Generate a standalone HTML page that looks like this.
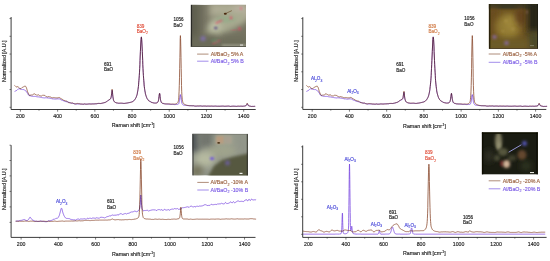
<!DOCTYPE html>
<html><head><meta charset="utf-8"><style>
html,body{margin:0;padding:0;background:#fff;}
svg{display:block;}
text{font-family:"Liberation Sans", sans-serif;}
</style></head><body>
<svg xmlns="http://www.w3.org/2000/svg" width="550" height="261" viewBox="0 0 550 261">
<defs><filter id="b1" x="-50%" y="-50%" width="200%" height="200%"><feGaussianBlur stdDeviation="1.6"/></filter><filter id="b2" x="-50%" y="-50%" width="200%" height="200%"><feGaussianBlur stdDeviation="0.8"/></filter><filter id="b3" x="-50%" y="-50%" width="200%" height="200%"><feGaussianBlur stdDeviation="3"/></filter><filter id="b0" x="-50%" y="-50%" width="200%" height="200%"><feGaussianBlur stdDeviation="0.45"/></filter><clipPath id="c1"><rect x="190.8" y="4.8" width="55.2" height="42.2"/></clipPath><clipPath id="c2"><rect x="488.8" y="3.9" width="49.1" height="44.9"/></clipPath><clipPath id="c3"><rect x="192.3" y="133.8" width="55.6" height="41.8"/></clipPath><clipPath id="c4"><rect x="481.7" y="132.2" width="56.2" height="42.4"/></clipPath></defs>
<rect width="550" height="261" fill="#fff"/>
<path d="M11.10,17.00 V109.50 H255.70" fill="none" stroke="#262626" stroke-width="0.9"/>
<path d="M9.50,107.30 H11.10" stroke="#262626" stroke-width="0.6"/>
<path d="M9.50,89.55 H11.10" stroke="#262626" stroke-width="0.6"/>
<path d="M9.50,71.80 H11.10" stroke="#262626" stroke-width="0.6"/>
<path d="M9.50,54.05 H11.10" stroke="#262626" stroke-width="0.6"/>
<path d="M9.50,36.30 H11.10" stroke="#262626" stroke-width="0.6"/>
<path d="M9.50,18.55 H11.10" stroke="#262626" stroke-width="0.6"/>
<path d="M20.40,109.50 V111.70" stroke="#262626" stroke-width="0.6"/>
<text x="20.40" y="118.10" text-anchor="middle" font-size="5.2" fill="#222" stroke="#222" stroke-width="0.15">200</text>
<path d="M39.01,109.50 V110.70" stroke="#262626" stroke-width="0.6"/>
<path d="M57.62,109.50 V111.70" stroke="#262626" stroke-width="0.6"/>
<text x="57.62" y="118.10" text-anchor="middle" font-size="5.2" fill="#222" stroke="#222" stroke-width="0.15">400</text>
<path d="M76.22,109.50 V110.70" stroke="#262626" stroke-width="0.6"/>
<path d="M94.83,109.50 V111.70" stroke="#262626" stroke-width="0.6"/>
<text x="94.83" y="118.10" text-anchor="middle" font-size="5.2" fill="#222" stroke="#222" stroke-width="0.15">600</text>
<path d="M113.44,109.50 V110.70" stroke="#262626" stroke-width="0.6"/>
<path d="M132.05,109.50 V111.70" stroke="#262626" stroke-width="0.6"/>
<text x="132.05" y="118.10" text-anchor="middle" font-size="5.2" fill="#222" stroke="#222" stroke-width="0.15">800</text>
<path d="M150.66,109.50 V110.70" stroke="#262626" stroke-width="0.6"/>
<path d="M169.26,109.50 V111.70" stroke="#262626" stroke-width="0.6"/>
<text x="169.26" y="118.10" text-anchor="middle" font-size="5.2" fill="#222" stroke="#222" stroke-width="0.15">1000</text>
<path d="M187.87,109.50 V110.70" stroke="#262626" stroke-width="0.6"/>
<path d="M206.48,109.50 V111.70" stroke="#262626" stroke-width="0.6"/>
<text x="206.48" y="118.10" text-anchor="middle" font-size="5.2" fill="#222" stroke="#222" stroke-width="0.15">1200</text>
<path d="M225.09,109.50 V110.70" stroke="#262626" stroke-width="0.6"/>
<path d="M243.70,109.50 V111.70" stroke="#262626" stroke-width="0.6"/>
<text x="243.70" y="118.10" text-anchor="middle" font-size="5.2" fill="#222" stroke="#222" stroke-width="0.15">1400</text>
<path d="M302.80,17.20 V109.45 H546.30" fill="none" stroke="#262626" stroke-width="0.9"/>
<path d="M301.20,107.30 H302.80" stroke="#262626" stroke-width="0.6"/>
<path d="M301.20,89.55 H302.80" stroke="#262626" stroke-width="0.6"/>
<path d="M301.20,71.80 H302.80" stroke="#262626" stroke-width="0.6"/>
<path d="M301.20,54.05 H302.80" stroke="#262626" stroke-width="0.6"/>
<path d="M301.20,36.30 H302.80" stroke="#262626" stroke-width="0.6"/>
<path d="M301.20,18.55 H302.80" stroke="#262626" stroke-width="0.6"/>
<path d="M312.20,109.45 V111.65" stroke="#262626" stroke-width="0.6"/>
<text x="312.20" y="118.05" text-anchor="middle" font-size="5.2" fill="#222" stroke="#222" stroke-width="0.15">200</text>
<path d="M330.82,109.45 V110.65" stroke="#262626" stroke-width="0.6"/>
<path d="M349.43,109.45 V111.65" stroke="#262626" stroke-width="0.6"/>
<text x="349.43" y="118.05" text-anchor="middle" font-size="5.2" fill="#222" stroke="#222" stroke-width="0.15">400</text>
<path d="M368.05,109.45 V110.65" stroke="#262626" stroke-width="0.6"/>
<path d="M386.67,109.45 V111.65" stroke="#262626" stroke-width="0.6"/>
<text x="386.67" y="118.05" text-anchor="middle" font-size="5.2" fill="#222" stroke="#222" stroke-width="0.15">600</text>
<path d="M405.28,109.45 V110.65" stroke="#262626" stroke-width="0.6"/>
<path d="M423.90,109.45 V111.65" stroke="#262626" stroke-width="0.6"/>
<text x="423.90" y="118.05" text-anchor="middle" font-size="5.2" fill="#222" stroke="#222" stroke-width="0.15">800</text>
<path d="M442.52,109.45 V110.65" stroke="#262626" stroke-width="0.6"/>
<path d="M461.14,109.45 V111.65" stroke="#262626" stroke-width="0.6"/>
<text x="461.14" y="118.05" text-anchor="middle" font-size="5.2" fill="#222" stroke="#222" stroke-width="0.15">1000</text>
<path d="M479.75,109.45 V110.65" stroke="#262626" stroke-width="0.6"/>
<path d="M498.37,109.45 V111.65" stroke="#262626" stroke-width="0.6"/>
<text x="498.37" y="118.05" text-anchor="middle" font-size="5.2" fill="#222" stroke="#222" stroke-width="0.15">1200</text>
<path d="M516.99,109.45 V110.65" stroke="#262626" stroke-width="0.6"/>
<path d="M535.60,109.45 V111.65" stroke="#262626" stroke-width="0.6"/>
<text x="535.60" y="118.05" text-anchor="middle" font-size="5.2" fill="#222" stroke="#222" stroke-width="0.15">1400</text>
<path d="M11.10,145.20 V237.40 H255.50" fill="none" stroke="#262626" stroke-width="0.9"/>
<path d="M9.50,222.40 H11.10" stroke="#262626" stroke-width="0.6"/>
<path d="M9.50,206.90 H11.10" stroke="#262626" stroke-width="0.6"/>
<path d="M9.50,191.40 H11.10" stroke="#262626" stroke-width="0.6"/>
<path d="M9.50,175.90 H11.10" stroke="#262626" stroke-width="0.6"/>
<path d="M9.50,160.50 H11.10" stroke="#262626" stroke-width="0.6"/>
<path d="M9.50,145.20 H11.10" stroke="#262626" stroke-width="0.6"/>
<path d="M21.10,237.40 V239.60" stroke="#262626" stroke-width="0.6"/>
<text x="21.10" y="246.00" text-anchor="middle" font-size="5.2" fill="#222" stroke="#222" stroke-width="0.15">200</text>
<path d="M39.72,237.40 V238.60" stroke="#262626" stroke-width="0.6"/>
<path d="M58.34,237.40 V239.60" stroke="#262626" stroke-width="0.6"/>
<text x="58.34" y="246.00" text-anchor="middle" font-size="5.2" fill="#222" stroke="#222" stroke-width="0.15">400</text>
<path d="M76.96,237.40 V238.60" stroke="#262626" stroke-width="0.6"/>
<path d="M95.58,237.40 V239.60" stroke="#262626" stroke-width="0.6"/>
<text x="95.58" y="246.00" text-anchor="middle" font-size="5.2" fill="#222" stroke="#222" stroke-width="0.15">600</text>
<path d="M114.20,237.40 V238.60" stroke="#262626" stroke-width="0.6"/>
<path d="M132.82,237.40 V239.60" stroke="#262626" stroke-width="0.6"/>
<text x="132.82" y="246.00" text-anchor="middle" font-size="5.2" fill="#222" stroke="#222" stroke-width="0.15">800</text>
<path d="M151.44,237.40 V238.60" stroke="#262626" stroke-width="0.6"/>
<path d="M170.06,237.40 V239.60" stroke="#262626" stroke-width="0.6"/>
<text x="170.06" y="246.00" text-anchor="middle" font-size="5.2" fill="#222" stroke="#222" stroke-width="0.15">1000</text>
<path d="M188.68,237.40 V238.60" stroke="#262626" stroke-width="0.6"/>
<path d="M207.30,237.40 V239.60" stroke="#262626" stroke-width="0.6"/>
<text x="207.30" y="246.00" text-anchor="middle" font-size="5.2" fill="#222" stroke="#222" stroke-width="0.15">1200</text>
<path d="M225.92,237.40 V238.60" stroke="#262626" stroke-width="0.6"/>
<path d="M244.54,237.40 V239.60" stroke="#262626" stroke-width="0.6"/>
<text x="244.54" y="246.00" text-anchor="middle" font-size="5.2" fill="#222" stroke="#222" stroke-width="0.15">1400</text>
<path d="M302.70,145.50 V237.40 H546.60" fill="none" stroke="#262626" stroke-width="0.9"/>
<path d="M301.10,234.30 H302.70" stroke="#262626" stroke-width="0.6"/>
<path d="M301.10,216.80 H302.70" stroke="#262626" stroke-width="0.6"/>
<path d="M301.10,199.30 H302.70" stroke="#262626" stroke-width="0.6"/>
<path d="M301.10,181.80 H302.70" stroke="#262626" stroke-width="0.6"/>
<path d="M301.10,164.30 H302.70" stroke="#262626" stroke-width="0.6"/>
<path d="M301.10,146.80 H302.70" stroke="#262626" stroke-width="0.6"/>
<path d="M308.40,237.40 V239.60" stroke="#262626" stroke-width="0.6"/>
<text x="308.40" y="246.00" text-anchor="middle" font-size="5.2" fill="#222" stroke="#222" stroke-width="0.15">200</text>
<path d="M327.17,237.40 V238.60" stroke="#262626" stroke-width="0.6"/>
<path d="M345.93,237.40 V239.60" stroke="#262626" stroke-width="0.6"/>
<text x="345.93" y="246.00" text-anchor="middle" font-size="5.2" fill="#222" stroke="#222" stroke-width="0.15">400</text>
<path d="M364.70,237.40 V238.60" stroke="#262626" stroke-width="0.6"/>
<path d="M383.47,237.40 V239.60" stroke="#262626" stroke-width="0.6"/>
<text x="383.47" y="246.00" text-anchor="middle" font-size="5.2" fill="#222" stroke="#222" stroke-width="0.15">600</text>
<path d="M402.24,237.40 V238.60" stroke="#262626" stroke-width="0.6"/>
<path d="M421.00,237.40 V239.60" stroke="#262626" stroke-width="0.6"/>
<text x="421.00" y="246.00" text-anchor="middle" font-size="5.2" fill="#222" stroke="#222" stroke-width="0.15">800</text>
<path d="M439.77,237.40 V238.60" stroke="#262626" stroke-width="0.6"/>
<path d="M458.54,237.40 V239.60" stroke="#262626" stroke-width="0.6"/>
<text x="458.54" y="246.00" text-anchor="middle" font-size="5.2" fill="#222" stroke="#222" stroke-width="0.15">1000</text>
<path d="M477.30,237.40 V238.60" stroke="#262626" stroke-width="0.6"/>
<path d="M496.07,237.40 V239.60" stroke="#262626" stroke-width="0.6"/>
<text x="496.07" y="246.00" text-anchor="middle" font-size="5.2" fill="#222" stroke="#222" stroke-width="0.15">1200</text>
<path d="M514.84,237.40 V238.60" stroke="#262626" stroke-width="0.6"/>
<path d="M533.60,237.40 V239.60" stroke="#262626" stroke-width="0.6"/>
<text x="533.60" y="246.00" text-anchor="middle" font-size="5.2" fill="#222" stroke="#222" stroke-width="0.15">1400</text>
<path d="M14.6,91.5L14.8,91.4L15.0,91.3L15.2,91.2L15.4,91.1L15.6,91.0L15.7,90.9L15.9,90.8L16.1,90.7L16.3,90.6L16.5,90.5L16.7,90.4L16.9,90.3L17.1,90.1L17.2,90.0L17.4,89.8L17.6,89.6L17.8,89.4L18.0,89.3L18.2,89.1L18.4,89.0L18.5,88.9L18.7,88.8L18.9,88.7L19.1,88.7L19.3,88.8L19.5,88.8L19.7,88.8L19.8,88.8L20.0,88.9L20.2,88.9L20.4,88.9L20.6,89.0L20.8,89.1L21.0,89.1L21.1,89.2L21.3,89.3L21.5,89.4L21.7,89.5L21.9,89.5L22.1,89.5L22.3,89.5L22.4,89.6L22.6,89.6L22.8,89.6L23.0,89.6L23.2,89.6L23.4,89.6L23.6,89.6L23.7,89.6L23.9,89.6L24.1,89.6L24.3,89.8L24.5,89.9L24.7,90.1L24.9,90.3L25.1,90.4L25.2,90.6L25.4,90.7L25.6,90.9L25.8,91.1L26.0,91.2L26.2,91.4L26.4,91.5L26.5,91.8L26.7,92.1L26.9,92.4L27.1,92.6L27.3,92.9L27.5,93.2L27.7,93.5L27.8,93.8L28.0,94.2L28.2,94.5L28.4,94.8L28.6,95.2L28.8,95.2L29.0,95.3L29.1,95.4L29.3,95.5L29.5,95.6L29.7,95.6L29.9,95.7L30.1,95.7L30.3,95.8L30.4,95.9L30.6,95.9L30.8,96.0L31.0,96.1L31.2,96.1L31.4,96.2L31.6,96.2L31.8,96.3L31.9,96.3L32.1,96.3L32.3,96.3L32.5,96.3L32.7,96.4L32.9,96.4L33.1,96.4L33.2,96.4L33.4,96.4L33.6,96.4L33.8,96.4L34.0,96.4L34.2,96.4L34.4,96.4L34.5,96.4L34.7,96.4L34.9,96.4L35.1,96.4L35.3,96.4L35.5,96.4L35.7,96.5L35.8,96.5L36.0,96.6L36.2,96.6L36.4,96.7L36.6,96.7L36.8,96.7L37.0,96.8L37.1,96.8L37.3,96.8L37.5,96.8L37.7,96.9L37.9,96.9L38.1,96.9L38.3,96.9L38.4,96.9L38.6,96.9L38.8,97.0L39.0,97.0L39.2,97.0L39.4,97.1L39.6,97.1L39.8,97.2L39.9,97.2L40.1,97.3L40.3,97.3L40.5,97.3L40.7,97.3L40.9,97.4L41.1,97.4L41.2,97.4L41.4,97.5L41.6,97.5L41.8,97.6L42.0,97.6L42.2,97.6L42.4,97.7L42.5,97.7L42.7,97.7L42.9,97.7L43.1,97.7L43.3,97.8L43.5,97.8L43.7,97.8L43.8,97.8L44.0,97.8L44.2,97.8L44.4,97.9L44.6,97.9L44.8,97.9L45.0,97.9L45.1,97.8L45.3,97.8L45.5,97.8L45.7,97.8L45.9,97.8L46.1,97.8L46.3,97.8L46.5,97.8L46.6,97.8L46.8,97.8L47.0,97.9L47.2,97.9L47.4,97.9L47.6,97.9L47.8,97.9L47.9,97.9L48.1,97.9L48.3,98.0L48.5,98.0L48.7,98.1L48.9,98.1L49.1,98.1L49.2,98.2L49.4,98.2L49.6,98.2L49.8,98.3L50.0,98.3L50.2,98.4L50.4,98.4L50.5,98.4L50.7,98.5L50.9,98.5L51.1,98.5L51.3,98.6L51.5,98.6L51.7,98.6L51.8,98.7L52.0,98.7L52.2,98.8L52.4,98.8L52.6,98.9L52.8,98.9L53.0,99.0L53.2,99.0L53.3,99.0L53.5,98.9L53.7,98.9L53.9,98.9L54.1,98.9L54.3,99.0L54.5,99.0L54.6,99.0L54.8,99.1L55.0,99.1L55.2,99.1L55.4,99.1L55.6,99.1L55.8,99.1L55.9,99.1L56.1,99.1L56.3,99.0L56.5,99.0L56.7,99.0L56.9,99.0L57.1,99.0L57.2,98.9L57.4,98.9L57.6,98.9L57.8,98.9L58.0,98.9L58.2,98.9L58.4,98.9L58.5,98.9L58.7,98.9L58.9,98.9L59.1,98.9L59.3,98.9L59.5,98.9L59.7,99.0L59.8,99.1L60.0,99.2L60.2,99.4L60.4,99.5L60.6,99.6L60.8,99.7L61.0,99.8L61.2,99.9L61.3,100.0L61.5,100.1L61.7,100.1L61.9,100.2L62.1,100.2L62.3,100.3L62.5,100.3L62.6,100.4L62.8,100.5L63.0,100.5L63.2,100.6L63.4,100.7L63.6,100.8L63.8,100.9L63.9,101.0L64.1,101.1L64.3,101.1L64.5,101.2L64.7,101.3L64.9,101.4L65.1,101.5L65.2,101.5L65.4,101.5L65.6,101.6L65.8,101.6L66.0,101.6L66.2,101.6L66.4,101.7L66.5,101.7L66.7,101.8L66.9,101.8L67.1,101.8L67.3,101.9L67.5,101.9L67.7,102.0L67.9,102.0L68.0,102.0L68.2,102.1L68.4,102.1L68.6,102.2L68.8,102.2L69.0,102.3L69.2,102.3L69.3,102.4L69.5,102.5L69.7,102.6L69.9,102.7L70.1,102.7L70.3,102.8L70.5,102.9L70.6,102.9L70.8,102.9L71.0,103.0L71.2,103.0L71.4,103.1L71.6,103.1L71.8,103.1L71.9,103.2L72.1,103.2L72.3,103.3L72.5,103.3L72.7,103.4L72.9,103.4L73.1,103.4L73.2,103.5L73.4,103.5L73.6,103.6L73.8,103.6L74.0,103.6L74.2,103.7L74.4,103.7L74.5,103.7L74.7,103.8L74.9,103.8L75.1,103.9L75.3,103.9L75.5,104.0L75.7,104.0L75.9,104.0L76.0,104.0L76.2,104.1L76.4,104.1L76.6,104.1L76.8,104.0L77.0,104.0L77.2,104.0L77.3,104.0L77.5,104.0L77.7,104.0L77.9,104.0L78.1,104.0L78.3,104.0L78.5,104.0L78.6,104.0L78.8,104.0L79.0,104.0L79.2,103.9L79.4,103.9L79.6,103.9L79.8,103.9L79.9,104.0L80.1,104.0L80.3,104.0L80.5,104.1L80.7,104.1L80.9,104.1L81.1,104.2L81.2,104.2L81.4,104.2L81.6,104.2L81.8,104.2L82.0,104.2L82.2,104.2L82.4,104.2L82.6,104.2L82.7,104.2L82.9,104.2L83.1,104.2L83.3,104.2L83.5,104.2L83.7,104.2L83.9,104.1L84.0,104.1L84.2,104.1L84.4,104.1L84.6,104.1L84.8,104.1L85.0,104.1L85.2,104.1L85.3,104.1L85.5,104.1L85.7,104.1L85.9,104.1L86.1,104.1L86.3,104.1L86.5,104.1L86.6,104.1L86.8,104.1L87.0,104.1L87.2,104.1L87.4,104.1L87.6,104.1L87.8,104.1L87.9,104.1L88.1,104.1L88.3,104.1L88.5,104.0L88.7,104.0L88.9,104.0L89.1,104.0L89.2,104.0L89.4,104.0L89.6,104.0L89.8,104.0L90.0,104.0L90.2,104.0L90.4,104.0L90.6,104.0L90.7,104.0L90.9,104.0L91.1,104.0L91.3,103.9L91.5,103.9L91.7,103.9L91.9,103.9L92.0,103.8L92.2,103.8L92.4,103.8L92.6,103.8L92.8,103.8L93.0,103.8L93.2,103.8L93.3,103.8L93.5,103.8L93.7,103.8L93.9,103.9L94.1,103.9L94.3,103.9L94.5,103.9L94.6,103.9L94.8,103.9L95.0,103.9L95.2,103.9L95.4,103.9L95.6,103.9L95.8,103.8L95.9,103.8L96.1,103.8L96.3,103.8L96.5,103.8L96.7,103.8L96.9,103.8L97.1,103.7L97.3,103.7L97.4,103.6L97.6,103.6L97.8,103.5L98.0,103.5L98.2,103.5L98.4,103.5L98.6,103.4L98.7,103.4L98.9,103.5L99.1,103.5L99.3,103.5L99.5,103.5L99.7,103.5L99.9,103.5L100.0,103.5L100.2,103.5L100.4,103.5L100.6,103.5L100.8,103.5L101.0,103.4L101.2,103.4L101.3,103.4L101.5,103.4L101.7,103.3L101.9,103.3L102.1,103.3L102.3,103.2L102.5,103.2L102.6,103.2L102.8,103.1L103.0,103.1L103.2,103.0L103.4,103.0L103.6,102.9L103.8,102.9L103.9,102.8L104.1,102.8L104.3,102.7L104.5,102.6L104.7,102.6L104.9,102.5L105.1,102.4L105.3,102.4L105.4,102.3L105.6,102.2L105.8,102.1L106.0,102.0L106.2,101.9L106.4,101.8L106.6,101.6L106.7,101.5L106.9,101.4L107.1,101.2L107.3,101.1L107.5,100.9L107.7,100.8L107.9,100.6L108.0,100.5L108.2,100.4L108.4,100.3L108.6,100.2L108.8,100.1L109.0,100.0L109.2,99.9L109.3,99.8L109.5,99.7L109.7,99.6L109.9,99.5L110.1,99.4L110.3,99.2L110.5,99.0L110.6,98.7L110.8,98.3L111.0,97.8L111.2,97.0L111.4,95.8L111.6,94.3L111.8,92.6L112.0,90.9L112.1,90.3L112.3,91.2L112.5,93.1L112.7,95.1L112.9,96.8L113.1,98.2L113.3,99.2L113.4,99.9L113.6,100.5L113.8,100.9L114.0,101.2L114.2,101.5L114.4,101.7L114.6,101.9L114.7,102.0L114.9,102.2L115.1,102.3L115.3,102.4L115.5,102.5L115.7,102.6L115.9,102.7L116.0,102.8L116.2,102.8L116.4,102.9L116.6,103.0L116.8,103.0L117.0,103.1L117.2,103.1L117.3,103.1L117.5,103.2L117.7,103.2L117.9,103.2L118.1,103.3L118.3,103.3L118.5,103.3L118.7,103.3L118.8,103.3L119.0,103.3L119.2,103.3L119.4,103.3L119.6,103.3L119.8,103.3L120.0,103.3L120.1,103.3L120.3,103.3L120.5,103.3L120.7,103.3L120.9,103.3L121.1,103.3L121.3,103.3L121.4,103.3L121.6,103.3L121.8,103.3L122.0,103.3L122.2,103.3L122.4,103.3L122.6,103.3L122.7,103.3L122.9,103.3L123.1,103.3L123.3,103.3L123.5,103.4L123.7,103.4L123.9,103.4L124.0,103.4L124.2,103.4L124.4,103.4L124.6,103.4L124.8,103.3L125.0,103.3L125.2,103.3L125.3,103.3L125.5,103.3L125.7,103.2L125.9,103.2L126.1,103.2L126.3,103.2L126.5,103.2L126.7,103.1L126.8,103.1L127.0,103.1L127.2,103.0L127.4,103.0L127.6,103.0L127.8,102.9L128.0,102.9L128.1,102.9L128.3,102.8L128.5,102.8L128.7,102.8L128.9,102.7L129.1,102.7L129.3,102.6L129.4,102.6L129.6,102.5L129.8,102.5L130.0,102.4L130.2,102.4L130.4,102.3L130.6,102.3L130.7,102.2L130.9,102.2L131.1,102.1L131.3,102.0L131.5,102.0L131.7,101.9L131.9,101.8L132.0,101.7L132.2,101.7L132.4,101.6L132.6,101.5L132.8,101.4L133.0,101.3L133.2,101.2L133.4,101.1L133.5,100.9L133.7,100.8L133.9,100.6L134.1,100.4L134.3,100.2L134.5,100.0L134.7,99.8L134.8,99.5L135.0,99.2L135.2,98.9L135.4,98.6L135.6,98.3L135.8,97.9L136.0,97.6L136.1,97.2L136.3,96.7L136.5,96.3L136.7,95.7L136.9,95.1L137.1,94.5L137.3,93.7L137.4,92.9L137.6,91.9L137.8,90.8L138.0,89.6L138.2,88.2L138.4,86.6L138.6,84.9L138.7,82.9L138.9,80.7L139.1,78.1L139.3,75.3L139.5,72.1L139.7,68.6L139.9,64.7L140.0,60.5L140.2,56.0L140.4,51.4L140.6,47.0L140.8,43.0L141.0,39.7L141.2,37.6L141.4,36.9L141.5,37.6L141.7,39.7L141.9,42.9L142.1,46.9L142.3,51.4L142.5,56.0L142.7,60.5L142.8,64.7L143.0,68.6L143.2,72.2L143.4,75.4L143.6,78.2L143.8,80.8L144.0,83.0L144.1,85.0L144.3,86.8L144.5,88.3L144.7,89.7L144.9,90.9L145.1,92.0L145.3,92.9L145.4,93.8L145.6,94.5L145.8,95.2L146.0,95.8L146.2,96.4L146.4,96.9L146.6,97.4L146.7,97.8L146.9,98.2L147.1,98.5L147.3,98.9L147.5,99.1L147.7,99.4L147.9,99.7L148.1,99.9L148.2,100.1L148.4,100.3L148.6,100.5L148.8,100.7L149.0,100.8L149.2,101.0L149.4,101.1L149.5,101.3L149.7,101.4L149.9,101.5L150.1,101.6L150.3,101.7L150.5,101.8L150.7,101.9L150.8,102.0L151.0,102.1L151.2,102.2L151.4,102.3L151.6,102.3L151.8,102.4L152.0,102.5L152.1,102.5L152.3,102.6L152.5,102.6L152.7,102.7L152.9,102.7L153.1,102.8L153.3,102.8L153.4,102.8L153.6,102.9L153.8,102.9L154.0,102.9L154.2,102.9L154.4,103.0L154.6,103.0L154.7,103.0L154.9,103.0L155.1,103.0L155.3,103.0L155.5,103.0L155.7,103.0L155.9,102.9L156.1,102.9L156.2,102.9L156.4,102.9L156.6,102.8L156.8,102.8L157.0,102.7L157.2,102.6L157.4,102.5L157.5,102.3L157.7,102.1L157.9,101.8L158.1,101.4L158.3,100.9L158.5,100.3L158.7,99.3L158.8,98.2L159.0,96.7L159.2,95.1L159.4,93.8L159.6,93.3L159.8,93.8L160.0,95.2L160.1,96.8L160.3,98.3L160.5,99.6L160.7,100.6L160.9,101.3L161.1,101.9L161.3,102.3L161.4,102.6L161.6,102.8L161.8,103.0L162.0,103.2L162.2,103.3L162.4,103.4L162.6,103.4L162.8,103.5L162.9,103.5L163.1,103.6L163.3,103.6L163.5,103.7L163.7,103.7L163.9,103.7L164.1,103.7L164.2,103.8L164.4,103.8L164.6,103.8L164.8,103.8L165.0,103.8L165.2,103.8L165.4,103.8L165.5,103.8L165.7,103.8L165.9,103.9L166.1,103.9L166.3,104.0L166.5,104.0L166.7,104.1L166.8,104.1L167.0,104.1L167.2,104.1L167.4,104.1L167.6,104.1L167.8,104.2L168.0,104.2L168.1,104.2L168.3,104.2L168.5,104.2L168.7,104.2L168.9,104.2L169.1,104.2L169.3,104.2L169.5,104.2L169.6,104.2L169.8,104.3L170.0,104.3L170.2,104.3L170.4,104.3L170.6,104.4L170.8,104.4L170.9,104.4L171.1,104.4L171.3,104.4L171.5,104.4L171.7,104.4L171.9,104.4L172.1,104.4L172.2,104.3L172.4,104.3L172.6,104.3L172.8,104.3L173.0,104.4L173.2,104.4L173.4,104.4L173.5,104.4L173.7,104.5L173.9,104.5L174.1,104.6L174.3,104.6L174.5,104.6L174.7,104.6L174.8,104.6L175.0,104.6L175.2,104.6L175.4,104.6L175.6,104.5L175.8,104.5L176.0,104.5L176.1,104.5L176.3,104.4L176.5,104.4L176.7,104.4L176.9,104.4L177.1,104.4L177.3,104.4L177.5,104.4L177.6,104.4L177.8,104.4L178.0,104.3L178.2,104.2L178.4,104.1L178.6,103.9L178.8,103.5L178.9,103.1L179.1,102.4L179.3,101.6L179.5,100.5L179.7,99.1L179.9,97.6L180.1,96.1L180.2,95.0L180.4,94.6L180.6,95.0L180.8,96.2L181.0,97.7L181.2,99.2L181.4,100.6L181.5,101.7L181.7,102.6L181.9,103.2L182.1,103.7L182.3,104.0L182.5,104.3L182.7,104.5L182.8,104.7L183.0,104.8L183.2,104.9L183.4,105.0L183.6,105.1L183.8,105.2L184.0,105.2L184.2,105.3L184.3,105.3L184.5,105.3L184.7,105.3L184.9,105.3L185.1,105.3L185.3,105.3L185.5,105.3L185.6,105.3L185.8,105.3L186.0,105.3L186.2,105.3L186.4,105.4L186.6,105.4L186.8,105.4L186.9,105.5L187.1,105.5L187.3,105.5L187.5,105.6L187.7,105.6L187.9,105.6L188.1,105.6L188.2,105.6L188.4,105.7L188.6,105.7L188.8,105.7L189.0,105.7L189.2,105.8L189.4,105.8L189.5,105.8L189.7,105.8L189.9,105.8L190.1,105.8L190.3,105.8L190.5,105.8L190.7,105.7L190.8,105.7L191.0,105.7L191.2,105.7L191.4,105.7L191.6,105.7L191.8,105.7L192.0,105.8L192.2,105.8L192.3,105.8L192.5,105.8L192.7,105.8L192.9,105.8L193.1,105.8L193.3,105.8L193.5,105.8L193.6,105.9L193.8,105.9L194.0,105.9L194.2,106.0L194.4,106.0L194.6,106.0L194.8,106.1L194.9,106.1L195.1,106.1L195.3,106.1L195.5,106.1L195.7,106.1L195.9,106.1L196.1,106.1L196.2,106.1L196.4,106.1L196.6,106.1L196.8,106.1L197.0,106.1L197.2,106.1L197.4,106.1L197.5,106.1L197.7,106.1L197.9,106.1L198.1,106.1L198.3,106.2L198.5,106.2L198.7,106.2L198.9,106.2L199.0,106.2L199.2,106.2L199.4,106.1L199.6,106.1L199.8,106.1L200.0,106.1L200.2,106.0L200.3,106.0L200.5,106.0L200.7,106.0L200.9,106.0L201.1,106.0L201.3,106.0L201.5,106.0L201.6,106.0L201.8,106.1L202.0,106.1L202.2,106.1L202.4,106.1L202.6,106.1L202.8,106.1L202.9,106.1L203.1,106.1L203.3,106.1L203.5,106.1L203.7,106.1L203.9,106.1L204.1,106.1L204.2,106.1L204.4,106.1L204.6,106.1L204.8,106.1L205.0,106.1L205.2,106.1L205.4,106.1L205.5,106.2L205.7,106.2L205.9,106.2L206.1,106.2L206.3,106.2L206.5,106.2L206.7,106.2L206.9,106.2L207.0,106.2L207.2,106.1L207.4,106.1L207.6,106.1L207.8,106.1L208.0,106.1L208.2,106.1L208.3,106.1L208.5,106.1L208.7,106.1L208.9,106.1L209.1,106.2L209.3,106.2L209.5,106.3L209.6,106.3L209.8,106.3L210.0,106.3L210.2,106.3L210.4,106.3L210.6,106.3L210.8,106.2L210.9,106.2L211.1,106.1L211.3,106.1L211.5,106.1L211.7,106.1L211.9,106.1L212.1,106.1L212.2,106.1L212.4,106.1L212.6,106.1L212.8,106.2L213.0,106.2L213.2,106.2L213.4,106.3L213.6,106.3L213.7,106.3L213.9,106.3L214.1,106.3L214.3,106.2L214.5,106.2L214.7,106.2L214.9,106.1L215.0,106.1L215.2,106.1L215.4,106.1L215.6,106.1L215.8,106.1L216.0,106.1L216.2,106.1L216.3,106.1L216.5,106.1L216.7,106.1L216.9,106.1L217.1,106.1L217.3,106.1L217.5,106.1L217.6,106.2L217.8,106.2L218.0,106.2L218.2,106.2L218.4,106.2L218.6,106.3L218.8,106.3L218.9,106.3L219.1,106.3L219.3,106.3L219.5,106.3L219.7,106.3L219.9,106.3L220.1,106.3L220.2,106.2L220.4,106.2L220.6,106.2L220.8,106.2L221.0,106.1L221.2,106.1L221.4,106.1L221.6,106.1L221.7,106.1L221.9,106.1L222.1,106.1L222.3,106.1L222.5,106.1L222.7,106.1L222.9,106.2L223.0,106.2L223.2,106.2L223.4,106.2L223.6,106.2L223.8,106.2L224.0,106.2L224.2,106.3L224.3,106.3L224.5,106.3L224.7,106.3L224.9,106.3L225.1,106.3L225.3,106.3L225.5,106.3L225.6,106.3L225.8,106.3L226.0,106.3L226.2,106.2L226.4,106.2L226.6,106.2L226.8,106.2L226.9,106.2L227.1,106.2L227.3,106.2L227.5,106.2L227.7,106.2L227.9,106.2L228.1,106.2L228.3,106.1L228.4,106.1L228.6,106.1L228.8,106.1L229.0,106.2L229.2,106.2L229.4,106.2L229.6,106.3L229.7,106.3L229.9,106.4L230.1,106.4L230.3,106.4L230.5,106.4L230.7,106.4L230.9,106.4L231.0,106.4L231.2,106.3L231.4,106.3L231.6,106.3L231.8,106.2L232.0,106.2L232.2,106.2L232.3,106.2L232.5,106.2L232.7,106.2L232.9,106.2L233.1,106.2L233.3,106.2L233.5,106.2L233.6,106.2L233.8,106.2L234.0,106.1L234.2,106.1L234.4,106.2L234.6,106.2L234.8,106.2L235.0,106.2L235.1,106.2L235.3,106.2L235.5,106.2L235.7,106.2L235.9,106.2L236.1,106.2L236.3,106.2L236.4,106.3L236.6,106.3L236.8,106.3L237.0,106.3L237.2,106.3L237.4,106.3L237.6,106.3L237.7,106.3L237.9,106.3L238.1,106.3L238.3,106.3L238.5,106.3L238.7,106.3L238.9,106.3L239.0,106.4L239.2,106.4L239.4,106.4L239.6,106.4L239.8,106.4L240.0,106.4L240.2,106.3L240.3,106.3L240.5,106.3L240.7,106.3L240.9,106.2L241.1,106.2L241.3,106.2L241.5,106.2L241.6,106.2L241.8,106.2L242.0,106.2L242.2,106.2L242.4,106.2L242.6,106.2L242.8,106.2L243.0,106.2L243.1,106.2L243.3,106.2L243.5,106.2L243.7,106.2L243.9,106.2L244.1,106.1L244.3,106.1L244.4,106.1L244.6,106.0L244.8,106.0L245.0,106.0L245.2,105.9L245.4,105.9L245.6,105.8L245.7,105.7L245.9,105.6L246.1,105.5L246.3,105.3L246.5,105.0L246.7,104.7L246.9,104.3L247.0,104.0L247.2,103.8L247.4,104.0L247.6,104.3L247.8,104.8L248.0,105.1L248.2,105.4L248.3,105.6L248.5,105.8L248.7,105.9L248.9,106.0L249.1,106.1L249.3,106.1L249.5,106.2L249.7,106.2L249.8,106.2L250.0,106.3L250.2,106.3L250.4,106.3L250.6,106.3L250.8,106.3L251.0,106.3L251.1,106.3L251.3,106.4L251.5,106.4L251.7,106.4L251.9,106.4L252.1,106.4L252.3,106.4L252.4,106.4L252.6,106.4L252.8,106.4L253.0,106.4L253.2,106.4L253.4,106.4L253.6,106.4L253.7,106.4L253.9,106.4L254.1,106.4L254.3,106.4L254.5,106.4L254.7,106.4L254.9,106.4L255.0,106.4L255.2,106.4" fill="none" stroke="#7848e0" stroke-width="0.8" style="mix-blend-mode:multiply"/>
<path d="M14.6,85.5L14.8,85.6L15.0,85.7L15.2,85.9L15.4,86.1L15.6,86.3L15.7,86.5L15.9,86.6L16.1,86.7L16.3,86.8L16.5,86.9L16.7,87.0L16.9,87.1L17.1,87.0L17.2,86.9L17.4,86.8L17.6,86.7L17.8,86.6L18.0,86.8L18.2,87.0L18.4,87.1L18.5,87.2L18.7,87.4L18.9,87.5L19.1,87.7L19.3,87.9L19.5,88.2L19.7,88.4L19.8,88.6L20.0,88.9L20.2,88.8L20.4,88.8L20.6,88.7L20.8,88.6L21.0,88.5L21.1,88.4L21.3,88.2L21.5,88.1L21.7,88.0L21.9,87.8L22.1,87.7L22.3,87.5L22.4,87.4L22.6,87.3L22.8,87.2L23.0,87.1L23.2,87.0L23.4,86.9L23.6,86.8L23.7,86.7L23.9,86.5L24.1,86.4L24.3,86.3L24.5,86.3L24.7,86.3L24.9,86.3L25.1,86.2L25.2,86.2L25.4,86.1L25.6,86.4L25.8,86.7L26.0,87.0L26.2,87.3L26.4,87.6L26.5,88.0L26.7,88.7L26.9,89.4L27.1,90.1L27.3,90.9L27.5,91.6L27.7,91.9L27.8,92.3L28.0,92.6L28.2,93.0L28.4,93.5L28.6,94.0L28.8,94.3L29.0,94.7L29.1,95.0L29.3,95.2L29.5,95.4L29.7,95.6L29.9,95.5L30.1,95.4L30.3,95.3L30.4,95.1L30.6,95.0L30.8,95.0L31.0,94.9L31.2,94.9L31.4,94.9L31.6,95.0L31.8,95.0L31.9,95.1L32.1,95.1L32.3,95.1L32.5,95.0L32.7,95.0L32.9,94.8L33.1,94.6L33.2,94.4L33.4,94.2L33.6,94.0L33.8,93.8L34.0,93.7L34.2,93.7L34.4,93.8L34.5,93.9L34.7,94.1L34.9,94.2L35.1,94.3L35.3,94.4L35.5,94.5L35.7,94.6L35.8,94.6L36.0,94.7L36.2,94.9L36.4,95.0L36.6,95.1L36.8,95.1L37.0,95.2L37.1,95.2L37.3,95.2L37.5,95.1L37.7,95.0L37.9,94.9L38.1,94.9L38.3,94.8L38.4,94.8L38.6,94.9L38.8,95.0L39.0,95.2L39.2,95.3L39.4,95.5L39.6,95.7L39.8,95.8L39.9,95.9L40.1,95.9L40.3,95.9L40.5,95.9L40.7,95.9L40.9,95.9L41.1,96.0L41.2,96.0L41.4,96.0L41.6,96.0L41.8,95.9L42.0,95.8L42.2,95.6L42.4,95.4L42.5,95.3L42.7,95.2L42.9,95.2L43.1,95.2L43.3,95.3L43.5,95.3L43.7,95.3L43.8,95.3L44.0,95.4L44.2,95.4L44.4,95.4L44.6,95.5L44.8,95.5L45.0,95.7L45.1,95.8L45.3,96.0L45.5,96.1L45.7,96.2L45.9,96.2L46.1,96.3L46.3,96.4L46.5,96.5L46.6,96.6L46.8,96.7L47.0,96.8L47.2,96.9L47.4,96.9L47.6,96.9L47.8,96.9L47.9,96.8L48.1,96.7L48.3,96.7L48.5,96.6L48.7,96.6L48.9,96.7L49.1,96.7L49.2,96.8L49.4,96.8L49.6,96.8L49.8,96.9L50.0,96.9L50.2,96.9L50.4,97.0L50.5,97.1L50.7,97.1L50.9,97.2L51.1,97.3L51.3,97.5L51.5,97.5L51.7,97.6L51.8,97.7L52.0,97.7L52.2,97.8L52.4,97.8L52.6,97.7L52.8,97.7L53.0,97.7L53.2,97.7L53.3,97.6L53.5,97.6L53.7,97.6L53.9,97.7L54.1,97.7L54.3,97.7L54.5,97.7L54.6,97.7L54.8,97.7L55.0,97.7L55.2,97.8L55.4,97.8L55.6,97.8L55.8,97.8L55.9,97.9L56.1,97.9L56.3,97.9L56.5,97.9L56.7,97.8L56.9,97.8L57.1,97.8L57.2,97.8L57.4,97.8L57.6,97.8L57.8,97.8L58.0,97.7L58.2,97.7L58.4,97.6L58.5,97.6L58.7,97.5L58.9,97.4L59.1,97.4L59.3,97.5L59.5,97.6L59.7,97.7L59.8,97.9L60.0,98.0L60.2,98.1L60.4,98.2L60.6,98.4L60.8,98.5L61.0,98.6L61.2,98.7L61.3,98.9L61.5,99.0L61.7,99.0L61.9,99.1L62.1,99.2L62.3,99.3L62.5,99.4L62.6,99.5L62.8,99.7L63.0,99.8L63.2,99.9L63.4,100.1L63.6,100.2L63.8,100.3L63.9,100.4L64.1,100.4L64.3,100.5L64.5,100.5L64.7,100.6L64.9,100.7L65.1,100.7L65.2,100.8L65.4,100.9L65.6,100.9L65.8,100.9L66.0,101.0L66.2,101.0L66.4,101.0L66.5,101.0L66.7,101.1L66.9,101.2L67.1,101.4L67.3,101.6L67.5,101.8L67.7,102.0L67.9,102.2L68.0,102.4L68.2,102.5L68.4,102.5L68.6,102.6L68.8,102.6L69.0,102.6L69.2,102.7L69.3,102.7L69.5,102.7L69.7,102.8L69.9,102.8L70.1,102.8L70.3,102.9L70.5,102.9L70.6,103.0L70.8,103.0L71.0,103.1L71.2,103.1L71.4,103.1L71.6,103.1L71.8,103.0L71.9,103.0L72.1,102.9L72.3,102.9L72.5,102.9L72.7,102.9L72.9,103.0L73.1,103.1L73.2,103.2L73.4,103.4L73.6,103.5L73.8,103.7L74.0,103.8L74.2,103.8L74.4,103.8L74.5,103.9L74.7,103.9L74.9,103.9L75.1,103.9L75.3,103.9L75.5,103.9L75.7,103.9L75.9,103.9L76.0,103.9L76.2,103.8L76.4,103.7L76.6,103.6L76.8,103.5L77.0,103.5L77.2,103.4L77.3,103.5L77.5,103.5L77.7,103.5L77.9,103.6L78.1,103.6L78.3,103.6L78.5,103.6L78.6,103.7L78.8,103.7L79.0,103.7L79.2,103.8L79.4,103.8L79.6,103.9L79.8,103.9L79.9,104.0L80.1,104.0L80.3,104.0L80.5,104.0L80.7,104.0L80.9,104.0L81.1,104.0L81.2,104.0L81.4,104.0L81.6,104.0L81.8,104.0L82.0,104.1L82.2,104.1L82.4,104.1L82.6,104.1L82.7,104.2L82.9,104.2L83.1,104.2L83.3,104.2L83.5,104.2L83.7,104.1L83.9,104.1L84.0,104.0L84.2,103.9L84.4,103.9L84.6,103.9L84.8,103.9L85.0,104.0L85.2,104.0L85.3,104.1L85.5,104.1L85.7,104.2L85.9,104.2L86.1,104.2L86.3,104.2L86.5,104.2L86.6,104.2L86.8,104.2L87.0,104.1L87.2,104.1L87.4,104.1L87.6,104.1L87.8,104.1L87.9,104.1L88.1,104.0L88.3,104.0L88.5,104.0L88.7,103.9L88.9,103.9L89.1,103.9L89.2,103.9L89.4,103.9L89.6,103.9L89.8,103.9L90.0,104.0L90.2,104.0L90.4,104.0L90.6,104.0L90.7,104.0L90.9,104.0L91.1,104.0L91.3,104.0L91.5,104.0L91.7,104.1L91.9,104.1L92.0,104.1L92.2,104.1L92.4,104.0L92.6,104.0L92.8,104.0L93.0,104.0L93.2,104.0L93.3,104.0L93.5,104.0L93.7,104.0L93.9,103.9L94.1,103.9L94.3,103.9L94.5,103.8L94.6,103.8L94.8,103.8L95.0,103.8L95.2,103.8L95.4,103.7L95.6,103.7L95.8,103.7L95.9,103.7L96.1,103.7L96.3,103.7L96.5,103.7L96.7,103.7L96.9,103.7L97.1,103.6L97.3,103.6L97.4,103.5L97.6,103.5L97.8,103.4L98.0,103.4L98.2,103.4L98.4,103.4L98.6,103.4L98.7,103.4L98.9,103.4L99.1,103.4L99.3,103.4L99.5,103.4L99.7,103.4L99.9,103.4L100.0,103.4L100.2,103.4L100.4,103.5L100.6,103.5L100.8,103.5L101.0,103.5L101.2,103.4L101.3,103.4L101.5,103.4L101.7,103.3L101.9,103.2L102.1,103.2L102.3,103.1L102.5,103.1L102.6,103.1L102.8,103.0L103.0,103.0L103.2,102.9L103.4,102.9L103.6,102.8L103.8,102.7L103.9,102.7L104.1,102.6L104.3,102.6L104.5,102.6L104.7,102.5L104.9,102.5L105.1,102.4L105.3,102.4L105.4,102.3L105.6,102.2L105.8,102.1L106.0,102.0L106.2,101.9L106.4,101.8L106.6,101.7L106.7,101.6L106.9,101.4L107.1,101.3L107.3,101.1L107.5,101.0L107.7,100.8L107.9,100.7L108.0,100.5L108.2,100.4L108.4,100.3L108.6,100.1L108.8,100.0L109.0,99.8L109.2,99.7L109.3,99.6L109.5,99.5L109.7,99.4L109.9,99.3L110.1,99.1L110.3,99.0L110.5,98.8L110.6,98.5L110.8,98.1L111.0,97.4L111.2,96.6L111.4,95.3L111.6,93.7L111.8,91.7L112.0,90.0L112.1,89.3L112.3,90.2L112.5,92.2L112.7,94.4L112.9,96.3L113.1,97.7L113.3,98.8L113.4,99.6L113.6,100.3L113.8,100.8L114.0,101.1L114.2,101.5L114.4,101.7L114.6,101.9L114.7,102.1L114.9,102.2L115.1,102.3L115.3,102.4L115.5,102.5L115.7,102.6L115.9,102.6L116.0,102.7L116.2,102.8L116.4,102.8L116.6,102.8L116.8,102.9L117.0,102.9L117.2,102.9L117.3,103.0L117.5,103.0L117.7,103.0L117.9,103.1L118.1,103.1L118.3,103.1L118.5,103.2L118.7,103.2L118.8,103.2L119.0,103.2L119.2,103.2L119.4,103.2L119.6,103.2L119.8,103.1L120.0,103.1L120.1,103.1L120.3,103.1L120.5,103.1L120.7,103.1L120.9,103.1L121.1,103.1L121.3,103.1L121.4,103.1L121.6,103.1L121.8,103.1L122.0,103.1L122.2,103.2L122.4,103.2L122.6,103.2L122.7,103.3L122.9,103.3L123.1,103.4L123.3,103.4L123.5,103.4L123.7,103.4L123.9,103.4L124.0,103.4L124.2,103.4L124.4,103.4L124.6,103.4L124.8,103.4L125.0,103.4L125.2,103.4L125.3,103.3L125.5,103.3L125.7,103.2L125.9,103.2L126.1,103.2L126.3,103.1L126.5,103.1L126.7,103.1L126.8,103.1L127.0,103.0L127.2,103.0L127.4,103.0L127.6,102.9L127.8,102.9L128.0,102.9L128.1,102.8L128.3,102.8L128.5,102.7L128.7,102.7L128.9,102.6L129.1,102.6L129.3,102.5L129.4,102.5L129.6,102.5L129.8,102.5L130.0,102.4L130.2,102.4L130.4,102.4L130.6,102.3L130.7,102.3L130.9,102.2L131.1,102.2L131.3,102.2L131.5,102.1L131.7,102.1L131.9,102.0L132.0,102.0L132.2,101.9L132.4,101.8L132.6,101.7L132.8,101.5L133.0,101.4L133.2,101.3L133.4,101.1L133.5,101.0L133.7,100.8L133.9,100.7L134.1,100.5L134.3,100.3L134.5,100.0L134.7,99.8L134.8,99.6L135.0,99.3L135.2,99.0L135.4,98.7L135.6,98.4L135.8,98.1L136.0,97.7L136.1,97.3L136.3,96.9L136.5,96.4L136.7,95.8L136.9,95.2L137.1,94.5L137.3,93.7L137.4,92.7L137.6,91.7L137.8,90.6L138.0,89.4L138.2,88.0L138.4,86.5L138.6,84.8L138.7,82.9L138.9,80.7L139.1,78.2L139.3,75.4L139.5,72.2L139.7,68.6L139.9,64.7L140.0,60.5L140.2,56.0L140.4,51.5L140.6,47.0L140.8,43.0L141.0,39.8L141.2,37.6L141.4,36.9L141.5,37.6L141.7,39.7L141.9,43.0L142.1,47.0L142.3,51.4L142.5,56.0L142.7,60.5L142.8,64.8L143.0,68.7L143.2,72.2L143.4,75.4L143.6,78.2L143.8,80.7L144.0,82.9L144.1,84.9L144.3,86.6L144.5,88.2L144.7,89.5L144.9,90.7L145.1,91.8L145.3,92.7L145.4,93.6L145.6,94.3L145.8,95.0L146.0,95.7L146.2,96.2L146.4,96.8L146.6,97.3L146.7,97.7L146.9,98.1L147.1,98.5L147.3,98.8L147.5,99.1L147.7,99.4L147.9,99.7L148.1,100.0L148.2,100.2L148.4,100.5L148.6,100.7L148.8,100.8L149.0,100.9L149.2,101.0L149.4,101.1L149.5,101.2L149.7,101.2L149.9,101.3L150.1,101.4L150.3,101.5L150.5,101.7L150.7,101.8L150.8,101.9L151.0,102.1L151.2,102.2L151.4,102.3L151.6,102.4L151.8,102.5L152.0,102.5L152.1,102.6L152.3,102.6L152.5,102.7L152.7,102.7L152.9,102.8L153.1,102.8L153.3,102.9L153.4,102.9L153.6,102.9L153.8,103.0L154.0,103.0L154.2,103.0L154.4,103.1L154.6,103.1L154.7,103.1L154.9,103.1L155.1,103.1L155.3,103.1L155.5,103.1L155.7,103.1L155.9,103.1L156.1,103.0L156.2,103.0L156.4,103.0L156.6,103.0L156.8,102.9L157.0,102.8L157.2,102.8L157.4,102.6L157.5,102.5L157.7,102.3L157.9,102.0L158.1,101.6L158.3,101.0L158.5,100.3L158.7,99.4L158.8,98.2L159.0,96.7L159.2,95.1L159.4,93.8L159.6,93.3L159.8,93.8L160.0,95.2L160.1,96.8L160.3,98.3L160.5,99.5L160.7,100.5L160.9,101.2L161.1,101.7L161.3,102.1L161.4,102.4L161.6,102.6L161.8,102.8L162.0,103.0L162.2,103.1L162.4,103.2L162.6,103.2L162.8,103.3L162.9,103.3L163.1,103.3L163.3,103.4L163.5,103.4L163.7,103.5L163.9,103.5L164.1,103.6L164.2,103.7L164.4,103.8L164.6,103.9L164.8,103.9L165.0,104.0L165.2,104.0L165.4,104.0L165.5,104.0L165.7,104.0L165.9,103.9L166.1,103.9L166.3,103.9L166.5,103.9L166.7,103.9L166.8,103.9L167.0,103.9L167.2,103.9L167.4,103.9L167.6,103.9L167.8,103.9L168.0,103.9L168.1,103.9L168.3,103.9L168.5,103.9L168.7,103.9L168.9,104.0L169.1,104.0L169.3,104.0L169.5,104.0L169.6,104.0L169.8,104.0L170.0,104.1L170.2,104.1L170.4,104.1L170.6,104.1L170.8,104.1L170.9,104.1L171.1,104.1L171.3,104.1L171.5,104.1L171.7,104.1L171.9,104.1L172.1,104.1L172.2,104.1L172.4,104.1L172.6,104.1L172.8,104.1L173.0,104.1L173.2,104.1L173.4,104.1L173.5,104.1L173.7,104.1L173.9,104.1L174.1,104.1L174.3,104.1L174.5,104.1L174.7,104.1L174.8,104.1L175.0,104.1L175.2,104.0L175.4,104.0L175.6,104.0L175.8,103.9L176.0,103.9L176.1,103.8L176.3,103.8L176.5,103.7L176.7,103.6L176.9,103.5L177.1,103.3L177.3,103.1L177.5,102.9L177.6,102.7L177.8,102.4L178.0,102.0L178.2,101.5L178.4,100.7L178.6,99.6L178.8,97.9L178.9,95.2L179.1,91.2L179.3,85.5L179.5,77.8L179.7,68.3L179.9,57.6L180.1,47.0L180.2,38.8L180.4,35.6L180.6,38.7L180.8,46.9L181.0,57.5L181.2,68.3L181.4,77.8L181.5,85.5L181.7,91.2L181.9,95.3L182.1,98.0L182.3,99.7L182.5,100.9L182.7,101.7L182.8,102.2L183.0,102.7L183.2,103.0L183.4,103.3L183.6,103.5L183.8,103.7L184.0,103.9L184.2,104.0L184.3,104.1L184.5,104.3L184.7,104.4L184.9,104.5L185.1,104.6L185.3,104.7L185.5,104.8L185.6,104.9L185.8,104.9L186.0,105.0L186.2,105.1L186.4,105.1L186.6,105.2L186.8,105.2L186.9,105.3L187.1,105.3L187.3,105.4L187.5,105.4L187.7,105.4L187.9,105.5L188.1,105.5L188.2,105.5L188.4,105.5L188.6,105.5L188.8,105.6L189.0,105.6L189.2,105.6L189.4,105.6L189.5,105.6L189.7,105.7L189.9,105.7L190.1,105.7L190.3,105.7L190.5,105.7L190.7,105.7L190.8,105.8L191.0,105.8L191.2,105.8L191.4,105.8L191.6,105.8L191.8,105.8L192.0,105.8L192.2,105.8L192.3,105.8L192.5,105.8L192.7,105.7L192.9,105.7L193.1,105.7L193.3,105.7L193.5,105.7L193.6,105.8L193.8,105.8L194.0,105.9L194.2,105.9L194.4,106.0L194.6,106.0L194.8,106.0L194.9,106.1L195.1,106.1L195.3,106.1L195.5,106.1L195.7,106.1L195.9,106.1L196.1,106.1L196.2,106.1L196.4,106.1L196.6,106.1L196.8,106.0L197.0,106.0L197.2,106.0L197.4,105.9L197.5,105.9L197.7,105.9L197.9,105.9L198.1,105.9L198.3,105.9L198.5,105.9L198.7,105.9L198.9,105.9L199.0,105.9L199.2,105.9L199.4,105.9L199.6,105.9L199.8,105.9L200.0,105.9L200.2,105.9L200.3,105.9L200.5,105.9L200.7,105.9L200.9,105.9L201.1,105.9L201.3,106.0L201.5,106.1L201.6,106.1L201.8,106.2L202.0,106.2L202.2,106.2L202.4,106.2L202.6,106.2L202.8,106.2L202.9,106.1L203.1,106.1L203.3,106.0L203.5,106.0L203.7,106.0L203.9,106.0L204.1,106.0L204.2,106.0L204.4,106.0L204.6,106.0L204.8,106.0L205.0,106.0L205.2,106.0L205.4,106.0L205.5,106.0L205.7,106.0L205.9,106.1L206.1,106.1L206.3,106.2L206.5,106.2L206.7,106.2L206.9,106.2L207.0,106.2L207.2,106.2L207.4,106.1L207.6,106.1L207.8,106.1L208.0,106.1L208.2,106.1L208.3,106.1L208.5,106.1L208.7,106.1L208.9,106.0L209.1,106.0L209.3,106.0L209.5,106.0L209.6,106.0L209.8,106.0L210.0,106.0L210.2,106.0L210.4,106.0L210.6,106.0L210.8,106.0L210.9,106.0L211.1,106.0L211.3,106.0L211.5,106.1L211.7,106.1L211.9,106.1L212.1,106.1L212.2,106.2L212.4,106.2L212.6,106.2L212.8,106.2L213.0,106.2L213.2,106.2L213.4,106.1L213.6,106.1L213.7,106.1L213.9,106.1L214.1,106.1L214.3,106.1L214.5,106.1L214.7,106.1L214.9,106.1L215.0,106.1L215.2,106.1L215.4,106.1L215.6,106.1L215.8,106.1L216.0,106.1L216.2,106.2L216.3,106.2L216.5,106.2L216.7,106.3L216.9,106.3L217.1,106.3L217.3,106.3L217.5,106.3L217.6,106.3L217.8,106.2L218.0,106.2L218.2,106.2L218.4,106.2L218.6,106.2L218.8,106.2L218.9,106.2L219.1,106.2L219.3,106.2L219.5,106.2L219.7,106.2L219.9,106.2L220.1,106.2L220.2,106.2L220.4,106.2L220.6,106.2L220.8,106.2L221.0,106.2L221.2,106.2L221.4,106.2L221.6,106.2L221.7,106.2L221.9,106.2L222.1,106.2L222.3,106.1L222.5,106.1L222.7,106.1L222.9,106.1L223.0,106.0L223.2,106.1L223.4,106.1L223.6,106.1L223.8,106.1L224.0,106.2L224.2,106.2L224.3,106.2L224.5,106.2L224.7,106.2L224.9,106.2L225.1,106.2L225.3,106.2L225.5,106.2L225.6,106.2L225.8,106.2L226.0,106.2L226.2,106.2L226.4,106.2L226.6,106.2L226.8,106.2L226.9,106.2L227.1,106.1L227.3,106.1L227.5,106.1L227.7,106.1L227.9,106.1L228.1,106.1L228.3,106.1L228.4,106.1L228.6,106.1L228.8,106.1L229.0,106.1L229.2,106.1L229.4,106.2L229.6,106.2L229.7,106.3L229.9,106.3L230.1,106.4L230.3,106.4L230.5,106.4L230.7,106.4L230.9,106.4L231.0,106.4L231.2,106.4L231.4,106.3L231.6,106.3L231.8,106.3L232.0,106.3L232.2,106.3L232.3,106.3L232.5,106.2L232.7,106.2L232.9,106.2L233.1,106.2L233.3,106.2L233.5,106.2L233.6,106.2L233.8,106.2L234.0,106.2L234.2,106.2L234.4,106.3L234.6,106.3L234.8,106.3L235.0,106.3L235.1,106.3L235.3,106.3L235.5,106.4L235.7,106.4L235.9,106.4L236.1,106.4L236.3,106.4L236.4,106.4L236.6,106.4L236.8,106.4L237.0,106.3L237.2,106.3L237.4,106.2L237.6,106.1L237.7,106.1L237.9,106.1L238.1,106.1L238.3,106.1L238.5,106.1L238.7,106.1L238.9,106.1L239.0,106.1L239.2,106.1L239.4,106.1L239.6,106.1L239.8,106.1L240.0,106.1L240.2,106.1L240.3,106.1L240.5,106.1L240.7,106.1L240.9,106.1L241.1,106.1L241.3,106.2L241.5,106.2L241.6,106.2L241.8,106.3L242.0,106.3L242.2,106.3L242.4,106.3L242.6,106.3L242.8,106.3L243.0,106.3L243.1,106.2L243.3,106.2L243.5,106.1L243.7,106.1L243.9,106.0L244.1,106.0L244.3,106.0L244.4,106.1L244.6,106.1L244.8,106.1L245.0,106.1L245.2,106.0L245.4,106.0L245.6,105.9L245.7,105.8L245.9,105.6L246.1,105.4L246.3,105.2L246.5,104.8L246.7,104.4L246.9,103.9L247.0,103.4L247.2,103.2L247.4,103.4L247.6,103.8L247.8,104.3L248.0,104.8L248.2,105.1L248.3,105.4L248.5,105.6L248.7,105.7L248.9,105.8L249.1,105.9L249.3,105.9L249.5,105.9L249.7,106.0L249.8,106.0L250.0,106.0L250.2,106.1L250.4,106.2L250.6,106.2L250.8,106.3L251.0,106.4L251.1,106.4L251.3,106.4L251.5,106.5L251.7,106.5L251.9,106.5L252.1,106.4L252.3,106.4L252.4,106.4L252.6,106.4L252.8,106.4L253.0,106.4L253.2,106.4L253.4,106.4L253.6,106.4L253.7,106.4L253.9,106.4L254.1,106.3L254.3,106.3L254.5,106.3L254.7,106.3L254.9,106.3L255.0,106.3L255.2,106.3" fill="none" stroke="#8a4a2e" stroke-width="0.8" style="mix-blend-mode:multiply"/>
<path d="M306.4,91.5L306.6,91.4L306.8,91.3L307.0,91.2L307.2,91.1L307.4,91.0L307.5,90.9L307.7,90.8L307.9,90.7L308.1,90.6L308.3,90.5L308.5,90.4L308.7,90.3L308.8,90.1L309.0,90.0L309.2,89.8L309.4,89.6L309.6,89.4L309.8,89.3L310.0,89.1L310.2,89.0L310.3,88.9L310.5,88.8L310.7,88.7L310.9,88.7L311.1,88.8L311.3,88.8L311.5,88.8L311.6,88.8L311.8,88.9L312.0,88.9L312.2,88.9L312.4,89.0L312.6,89.1L312.8,89.1L312.9,89.2L313.1,89.3L313.3,89.4L313.5,89.5L313.7,89.5L313.9,89.5L314.1,89.5L314.2,89.6L314.4,89.6L314.6,89.6L314.8,89.6L315.0,89.6L315.2,89.6L315.4,89.6L315.6,89.6L315.7,89.6L315.9,89.6L316.1,89.8L316.3,89.9L316.5,90.1L316.7,90.3L316.9,90.4L317.0,90.6L317.2,90.7L317.4,90.9L317.6,91.1L317.8,91.2L318.0,91.4L318.2,91.5L318.3,91.8L318.5,92.1L318.7,92.4L318.9,92.6L319.1,92.9L319.3,93.2L319.5,93.5L319.6,93.8L319.8,94.2L320.0,94.5L320.2,94.8L320.4,95.2L320.6,95.2L320.8,95.3L320.9,95.4L321.1,95.5L321.3,95.6L321.5,95.6L321.7,95.7L321.9,95.7L322.1,95.8L322.3,95.9L322.4,95.9L322.6,96.0L322.8,96.1L323.0,96.1L323.2,96.2L323.4,96.2L323.6,96.3L323.7,96.3L323.9,96.3L324.1,96.3L324.3,96.3L324.5,96.4L324.7,96.4L324.9,96.4L325.0,96.4L325.2,96.4L325.4,96.4L325.6,96.4L325.8,96.4L326.0,96.4L326.2,96.4L326.3,96.4L326.5,96.4L326.7,96.4L326.9,96.4L327.1,96.4L327.3,96.4L327.5,96.5L327.7,96.5L327.8,96.6L328.0,96.6L328.2,96.7L328.4,96.7L328.6,96.7L328.8,96.8L329.0,96.8L329.1,96.8L329.3,96.8L329.5,96.9L329.7,96.9L329.9,96.9L330.1,96.9L330.3,96.9L330.4,96.9L330.6,97.0L330.8,97.0L331.0,97.0L331.2,97.1L331.4,97.1L331.6,97.2L331.7,97.2L331.9,97.3L332.1,97.3L332.3,97.3L332.5,97.3L332.7,97.4L332.9,97.4L333.1,97.4L333.2,97.5L333.4,97.5L333.6,97.6L333.8,97.6L334.0,97.6L334.2,97.7L334.4,97.7L334.5,97.7L334.7,97.7L334.9,97.7L335.1,97.8L335.3,97.8L335.5,97.8L335.7,97.8L335.8,97.8L336.0,97.8L336.2,97.9L336.4,97.9L336.6,97.9L336.8,97.9L337.0,97.8L337.1,97.8L337.3,97.8L337.5,97.8L337.7,97.8L337.9,97.8L338.1,97.8L338.3,97.8L338.4,97.8L338.6,97.8L338.8,97.9L339.0,97.9L339.2,97.9L339.4,97.9L339.6,97.9L339.8,97.9L339.9,97.9L340.1,98.0L340.3,98.0L340.5,98.1L340.7,98.1L340.9,98.1L341.1,98.2L341.2,98.2L341.4,98.2L341.6,98.3L341.8,98.3L342.0,98.4L342.2,98.4L342.4,98.4L342.5,98.5L342.7,98.5L342.9,98.5L343.1,98.6L343.3,98.6L343.5,98.6L343.7,98.7L343.8,98.7L344.0,98.8L344.2,98.8L344.4,98.9L344.6,98.9L344.8,99.0L345.0,99.0L345.2,99.0L345.3,98.9L345.5,98.9L345.7,98.9L345.9,98.9L346.1,99.0L346.3,99.0L346.5,99.0L346.6,99.1L346.8,99.1L347.0,99.1L347.2,99.1L347.4,99.1L347.6,99.1L347.8,99.1L347.9,99.1L348.1,99.0L348.3,99.0L348.5,99.0L348.7,99.0L348.9,99.0L349.1,98.9L349.2,98.9L349.4,98.9L349.6,98.9L349.8,98.9L350.0,98.9L350.2,98.9L350.4,98.9L350.6,98.9L350.7,98.9L350.9,98.9L351.1,98.9L351.3,98.9L351.5,99.0L351.7,99.1L351.9,99.2L352.0,99.4L352.2,99.5L352.4,99.6L352.6,99.7L352.8,99.8L353.0,99.9L353.2,100.0L353.3,100.1L353.5,100.1L353.7,100.2L353.9,100.2L354.1,100.3L354.3,100.3L354.5,100.4L354.6,100.5L354.8,100.5L355.0,100.6L355.2,100.7L355.4,100.8L355.6,100.9L355.8,101.0L355.9,101.1L356.1,101.1L356.3,101.2L356.5,101.3L356.7,101.4L356.9,101.5L357.1,101.5L357.3,101.5L357.4,101.6L357.6,101.6L357.8,101.6L358.0,101.6L358.2,101.7L358.4,101.7L358.6,101.8L358.7,101.8L358.9,101.8L359.1,101.9L359.3,101.9L359.5,102.0L359.7,102.0L359.9,102.0L360.0,102.1L360.2,102.1L360.4,102.2L360.6,102.2L360.8,102.3L361.0,102.3L361.2,102.4L361.3,102.5L361.5,102.6L361.7,102.7L361.9,102.7L362.1,102.8L362.3,102.9L362.5,102.9L362.7,102.9L362.8,103.0L363.0,103.0L363.2,103.1L363.4,103.1L363.6,103.1L363.8,103.2L364.0,103.2L364.1,103.3L364.3,103.3L364.5,103.4L364.7,103.4L364.9,103.4L365.1,103.5L365.3,103.5L365.4,103.6L365.6,103.6L365.8,103.6L366.0,103.7L366.2,103.7L366.4,103.7L366.6,103.8L366.7,103.8L366.9,103.9L367.1,103.9L367.3,104.0L367.5,104.0L367.7,104.0L367.9,104.0L368.1,104.1L368.2,104.1L368.4,104.1L368.6,104.0L368.8,104.0L369.0,104.0L369.2,104.0L369.4,104.0L369.5,104.0L369.7,104.0L369.9,104.0L370.1,104.0L370.3,104.0L370.5,104.0L370.7,104.0L370.8,104.0L371.0,103.9L371.2,103.9L371.4,103.9L371.6,103.9L371.8,104.0L372.0,104.0L372.1,104.0L372.3,104.1L372.5,104.1L372.7,104.1L372.9,104.2L373.1,104.2L373.3,104.2L373.4,104.2L373.6,104.2L373.8,104.2L374.0,104.2L374.2,104.2L374.4,104.2L374.6,104.2L374.8,104.2L374.9,104.2L375.1,104.2L375.3,104.2L375.5,104.2L375.7,104.1L375.9,104.1L376.1,104.1L376.2,104.1L376.4,104.1L376.6,104.1L376.8,104.1L377.0,104.1L377.2,104.1L377.4,104.1L377.5,104.1L377.7,104.1L377.9,104.1L378.1,104.1L378.3,104.1L378.5,104.1L378.7,104.1L378.8,104.1L379.0,104.1L379.2,104.1L379.4,104.1L379.6,104.1L379.8,104.1L380.0,104.1L380.2,104.1L380.3,104.0L380.5,104.0L380.7,104.0L380.9,104.0L381.1,104.0L381.3,104.0L381.5,104.0L381.6,104.0L381.8,104.0L382.0,104.0L382.2,104.0L382.4,104.0L382.6,104.0L382.8,104.0L382.9,104.0L383.1,103.9L383.3,103.9L383.5,103.9L383.7,103.9L383.9,103.8L384.1,103.8L384.2,103.8L384.4,103.8L384.6,103.8L384.8,103.8L385.0,103.8L385.2,103.8L385.4,103.8L385.6,103.8L385.7,103.9L385.9,103.9L386.1,103.9L386.3,103.9L386.5,103.9L386.7,103.9L386.9,103.9L387.0,103.9L387.2,103.9L387.4,103.9L387.6,103.8L387.8,103.8L388.0,103.8L388.2,103.8L388.3,103.8L388.5,103.8L388.7,103.8L388.9,103.7L389.1,103.7L389.3,103.6L389.5,103.6L389.6,103.5L389.8,103.5L390.0,103.5L390.2,103.5L390.4,103.5L390.6,103.5L390.8,103.5L390.9,103.5L391.1,103.5L391.3,103.5L391.5,103.5L391.7,103.5L391.9,103.5L392.1,103.5L392.3,103.5L392.4,103.5L392.6,103.5L392.8,103.4L393.0,103.4L393.2,103.4L393.4,103.4L393.6,103.3L393.7,103.3L393.9,103.3L394.1,103.3L394.3,103.2L394.5,103.2L394.7,103.1L394.9,103.1L395.0,103.0L395.2,103.0L395.4,102.9L395.6,102.9L395.8,102.8L396.0,102.8L396.2,102.7L396.3,102.7L396.5,102.6L396.7,102.5L396.9,102.5L397.1,102.4L397.3,102.3L397.5,102.2L397.7,102.1L397.8,102.0L398.0,101.9L398.2,101.8L398.4,101.7L398.6,101.5L398.8,101.4L399.0,101.3L399.1,101.1L399.3,101.0L399.5,100.8L399.7,100.7L399.9,100.6L400.1,100.4L400.3,100.3L400.4,100.2L400.6,100.1L400.8,100.1L401.0,100.0L401.2,99.9L401.4,99.9L401.6,99.8L401.7,99.7L401.9,99.6L402.1,99.5L402.3,99.3L402.5,99.1L402.7,98.8L402.9,98.3L403.1,97.7L403.2,96.8L403.4,95.6L403.6,94.1L403.8,92.8L404.0,92.3L404.2,93.1L404.4,94.6L404.5,96.3L404.7,97.8L404.9,98.9L405.1,99.7L405.3,100.4L405.5,100.8L405.7,101.2L405.8,101.5L406.0,101.7L406.2,101.9L406.4,102.0L406.6,102.2L406.8,102.3L407.0,102.4L407.1,102.5L407.3,102.6L407.5,102.7L407.7,102.7L407.9,102.8L408.1,102.9L408.3,103.0L408.4,103.0L408.6,103.1L408.8,103.1L409.0,103.2L409.2,103.2L409.4,103.2L409.6,103.2L409.8,103.3L409.9,103.3L410.1,103.3L410.3,103.3L410.5,103.3L410.7,103.4L410.9,103.4L411.1,103.4L411.2,103.4L411.4,103.4L411.6,103.3L411.8,103.3L412.0,103.3L412.2,103.3L412.4,103.3L412.5,103.3L412.7,103.3L412.9,103.3L413.1,103.3L413.3,103.3L413.5,103.3L413.7,103.3L413.8,103.3L414.0,103.3L414.2,103.3L414.4,103.3L414.6,103.3L414.8,103.3L415.0,103.3L415.2,103.4L415.3,103.4L415.5,103.4L415.7,103.4L415.9,103.4L416.1,103.4L416.3,103.4L416.5,103.4L416.6,103.4L416.8,103.3L417.0,103.3L417.2,103.3L417.4,103.3L417.6,103.2L417.8,103.2L417.9,103.2L418.1,103.2L418.3,103.2L418.5,103.1L418.7,103.1L418.9,103.1L419.1,103.0L419.2,103.0L419.4,103.0L419.6,102.9L419.8,102.9L420.0,102.9L420.2,102.9L420.4,102.8L420.6,102.8L420.7,102.7L420.9,102.7L421.1,102.6L421.3,102.6L421.5,102.5L421.7,102.5L421.9,102.4L422.0,102.4L422.2,102.3L422.4,102.3L422.6,102.2L422.8,102.2L423.0,102.1L423.2,102.0L423.3,102.0L423.5,101.9L423.7,101.8L423.9,101.7L424.1,101.7L424.3,101.6L424.5,101.5L424.6,101.4L424.8,101.3L425.0,101.2L425.2,101.1L425.4,100.9L425.6,100.8L425.8,100.6L425.9,100.4L426.1,100.2L426.3,100.0L426.5,99.8L426.7,99.5L426.9,99.2L427.1,98.9L427.3,98.6L427.4,98.3L427.6,97.9L427.8,97.6L428.0,97.2L428.2,96.7L428.4,96.3L428.6,95.7L428.7,95.1L428.9,94.5L429.1,93.7L429.3,92.9L429.5,91.9L429.7,90.8L429.9,89.6L430.0,88.2L430.2,86.6L430.4,84.9L430.6,82.9L430.8,80.7L431.0,78.1L431.2,75.3L431.3,72.1L431.5,68.6L431.7,64.7L431.9,60.5L432.1,56.0L432.3,51.4L432.5,47.0L432.7,43.0L432.8,39.7L433.0,37.6L433.2,36.9L433.4,37.6L433.6,39.7L433.8,42.9L434.0,46.9L434.1,51.4L434.3,56.0L434.5,60.5L434.7,64.7L434.9,68.6L435.1,72.2L435.3,75.4L435.4,78.2L435.6,80.8L435.8,83.0L436.0,85.0L436.2,86.8L436.4,88.3L436.6,89.7L436.7,90.9L436.9,92.0L437.1,92.9L437.3,93.8L437.5,94.5L437.7,95.2L437.9,95.8L438.1,96.4L438.2,96.9L438.4,97.4L438.6,97.8L438.8,98.2L439.0,98.5L439.2,98.9L439.4,99.1L439.5,99.4L439.7,99.7L439.9,99.9L440.1,100.1L440.3,100.3L440.5,100.5L440.7,100.7L440.8,100.8L441.0,101.0L441.2,101.1L441.4,101.3L441.6,101.4L441.8,101.5L442.0,101.6L442.1,101.7L442.3,101.8L442.5,101.9L442.7,102.0L442.9,102.1L443.1,102.2L443.3,102.3L443.4,102.3L443.6,102.4L443.8,102.5L444.0,102.5L444.2,102.6L444.4,102.6L444.6,102.7L444.8,102.7L444.9,102.8L445.1,102.8L445.3,102.8L445.5,102.9L445.7,102.9L445.9,102.9L446.1,102.9L446.2,103.0L446.4,103.0L446.6,103.0L446.8,103.0L447.0,103.0L447.2,103.0L447.4,103.0L447.5,103.0L447.7,102.9L447.9,102.9L448.1,102.9L448.3,102.9L448.5,102.8L448.7,102.8L448.8,102.7L449.0,102.6L449.2,102.5L449.4,102.3L449.6,102.1L449.8,101.8L450.0,101.4L450.2,100.9L450.3,100.3L450.5,99.3L450.7,98.2L450.9,96.7L451.1,95.1L451.3,93.8L451.5,93.3L451.6,93.8L451.8,95.2L452.0,96.8L452.2,98.3L452.4,99.6L452.6,100.6L452.8,101.3L452.9,101.9L453.1,102.3L453.3,102.6L453.5,102.8L453.7,103.0L453.9,103.2L454.1,103.3L454.2,103.4L454.4,103.4L454.6,103.5L454.8,103.5L455.0,103.6L455.2,103.6L455.4,103.7L455.6,103.7L455.7,103.7L455.9,103.7L456.1,103.8L456.3,103.8L456.5,103.8L456.7,103.8L456.9,103.8L457.0,103.8L457.2,103.8L457.4,103.8L457.6,103.8L457.8,103.9L458.0,103.9L458.2,104.0L458.3,104.0L458.5,104.1L458.7,104.1L458.9,104.1L459.1,104.1L459.3,104.1L459.5,104.1L459.6,104.2L459.8,104.2L460.0,104.2L460.2,104.2L460.4,104.2L460.6,104.2L460.8,104.2L460.9,104.2L461.1,104.2L461.3,104.2L461.5,104.2L461.7,104.3L461.9,104.3L462.1,104.3L462.3,104.3L462.4,104.4L462.6,104.4L462.8,104.4L463.0,104.4L463.2,104.4L463.4,104.4L463.6,104.4L463.7,104.4L463.9,104.4L464.1,104.3L464.3,104.3L464.5,104.3L464.7,104.3L464.9,104.4L465.0,104.4L465.2,104.4L465.4,104.4L465.6,104.5L465.8,104.5L466.0,104.6L466.2,104.6L466.3,104.6L466.5,104.6L466.7,104.6L466.9,104.6L467.1,104.6L467.3,104.6L467.5,104.5L467.7,104.5L467.8,104.5L468.0,104.5L468.2,104.4L468.4,104.4L468.6,104.4L468.8,104.4L469.0,104.4L469.1,104.4L469.3,104.4L469.5,104.4L469.7,104.4L469.9,104.3L470.1,104.2L470.3,104.1L470.4,103.9L470.6,103.5L470.8,103.1L471.0,102.4L471.2,101.6L471.4,100.5L471.6,99.1L471.7,97.6L471.9,96.1L472.1,95.0L472.3,94.6L472.5,95.0L472.7,96.2L472.9,97.7L473.1,99.2L473.2,100.6L473.4,101.7L473.6,102.6L473.8,103.2L474.0,103.7L474.2,104.0L474.4,104.3L474.5,104.5L474.7,104.7L474.9,104.8L475.1,104.9L475.3,105.0L475.5,105.1L475.7,105.2L475.8,105.2L476.0,105.3L476.2,105.3L476.4,105.3L476.6,105.3L476.8,105.3L477.0,105.3L477.1,105.3L477.3,105.3L477.5,105.3L477.7,105.3L477.9,105.3L478.1,105.3L478.3,105.4L478.4,105.4L478.6,105.4L478.8,105.5L479.0,105.5L479.2,105.5L479.4,105.6L479.6,105.6L479.8,105.6L479.9,105.6L480.1,105.6L480.3,105.7L480.5,105.7L480.7,105.7L480.9,105.7L481.1,105.8L481.2,105.8L481.4,105.8L481.6,105.8L481.8,105.8L482.0,105.8L482.2,105.8L482.4,105.8L482.5,105.7L482.7,105.7L482.9,105.7L483.1,105.7L483.3,105.7L483.5,105.7L483.7,105.7L483.8,105.8L484.0,105.8L484.2,105.8L484.4,105.8L484.6,105.8L484.8,105.8L485.0,105.8L485.2,105.8L485.3,105.8L485.5,105.9L485.7,105.9L485.9,105.9L486.1,106.0L486.3,106.0L486.5,106.0L486.6,106.1L486.8,106.1L487.0,106.1L487.2,106.1L487.4,106.1L487.6,106.1L487.8,106.1L487.9,106.1L488.1,106.1L488.3,106.1L488.5,106.1L488.7,106.1L488.9,106.1L489.1,106.1L489.2,106.1L489.4,106.1L489.6,106.1L489.8,106.1L490.0,106.1L490.2,106.2L490.4,106.2L490.6,106.2L490.7,106.2L490.9,106.2L491.1,106.2L491.3,106.1L491.5,106.1L491.7,106.1L491.9,106.1L492.0,106.0L492.2,106.0L492.4,106.0L492.6,106.0L492.8,106.0L493.0,106.0L493.2,106.0L493.3,106.0L493.5,106.0L493.7,106.1L493.9,106.1L494.1,106.1L494.3,106.1L494.5,106.1L494.6,106.1L494.8,106.1L495.0,106.1L495.2,106.1L495.4,106.1L495.6,106.1L495.8,106.1L495.9,106.1L496.1,106.1L496.3,106.1L496.5,106.1L496.7,106.1L496.9,106.1L497.1,106.1L497.3,106.1L497.4,106.2L497.6,106.2L497.8,106.2L498.0,106.2L498.2,106.2L498.4,106.2L498.6,106.2L498.7,106.2L498.9,106.2L499.1,106.1L499.3,106.1L499.5,106.1L499.7,106.1L499.9,106.1L500.0,106.1L500.2,106.1L500.4,106.1L500.6,106.1L500.8,106.1L501.0,106.2L501.2,106.2L501.3,106.3L501.5,106.3L501.7,106.3L501.9,106.3L502.1,106.3L502.3,106.3L502.5,106.3L502.7,106.2L502.8,106.2L503.0,106.1L503.2,106.1L503.4,106.1L503.6,106.1L503.8,106.1L504.0,106.1L504.1,106.1L504.3,106.1L504.5,106.1L504.7,106.2L504.9,106.2L505.1,106.2L505.3,106.3L505.4,106.3L505.6,106.3L505.8,106.3L506.0,106.3L506.2,106.2L506.4,106.2L506.6,106.2L506.7,106.1L506.9,106.1L507.1,106.1L507.3,106.1L507.5,106.1L507.7,106.1L507.9,106.1L508.1,106.1L508.2,106.1L508.4,106.1L508.6,106.1L508.8,106.1L509.0,106.1L509.2,106.1L509.4,106.1L509.5,106.2L509.7,106.2L509.9,106.2L510.1,106.2L510.3,106.2L510.5,106.3L510.7,106.3L510.8,106.3L511.0,106.3L511.2,106.3L511.4,106.3L511.6,106.3L511.8,106.3L512.0,106.3L512.1,106.2L512.3,106.2L512.5,106.2L512.7,106.2L512.9,106.1L513.1,106.1L513.3,106.1L513.4,106.1L513.6,106.1L513.8,106.1L514.0,106.1L514.2,106.1L514.4,106.1L514.6,106.1L514.8,106.2L514.9,106.2L515.1,106.2L515.3,106.2L515.5,106.2L515.7,106.2L515.9,106.2L516.1,106.3L516.2,106.3L516.4,106.3L516.6,106.3L516.8,106.3L517.0,106.3L517.2,106.3L517.4,106.3L517.5,106.3L517.7,106.3L517.9,106.3L518.1,106.2L518.3,106.2L518.5,106.2L518.7,106.2L518.8,106.2L519.0,106.2L519.2,106.2L519.4,106.2L519.6,106.2L519.8,106.2L520.0,106.2L520.2,106.1L520.3,106.1L520.5,106.1L520.7,106.1L520.9,106.2L521.1,106.2L521.3,106.2L521.5,106.3L521.6,106.3L521.8,106.4L522.0,106.4L522.2,106.4L522.4,106.4L522.6,106.4L522.8,106.4L522.9,106.4L523.1,106.3L523.3,106.3L523.5,106.3L523.7,106.2L523.9,106.2L524.1,106.2L524.2,106.2L524.4,106.2L524.6,106.2L524.8,106.2L525.0,106.2L525.2,106.2L525.4,106.2L525.6,106.2L525.7,106.2L525.9,106.1L526.1,106.1L526.3,106.2L526.5,106.2L526.7,106.2L526.9,106.2L527.0,106.2L527.2,106.2L527.4,106.2L527.6,106.2L527.8,106.2L528.0,106.2L528.2,106.2L528.3,106.3L528.5,106.3L528.7,106.3L528.9,106.3L529.1,106.3L529.3,106.3L529.5,106.3L529.6,106.3L529.8,106.3L530.0,106.3L530.2,106.3L530.4,106.3L530.6,106.3L530.8,106.3L530.9,106.4L531.1,106.4L531.3,106.4L531.5,106.4L531.7,106.4L531.9,106.4L532.1,106.3L532.3,106.3L532.4,106.3L532.6,106.3L532.8,106.2L533.0,106.2L533.2,106.2L533.4,106.2L533.6,106.2L533.7,106.2L533.9,106.2L534.1,106.2L534.3,106.2L534.5,106.2L534.7,106.2L534.9,106.2L535.0,106.2L535.2,106.2L535.4,106.2L535.6,106.2L535.8,106.2L536.0,106.1L536.2,106.1L536.3,106.1L536.5,106.0L536.7,106.0L536.9,106.0L537.1,105.9L537.3,105.9L537.5,105.8L537.7,105.7L537.8,105.6L538.0,105.5L538.2,105.3L538.4,105.0L538.6,104.7L538.8,104.3L539.0,104.0L539.1,103.8L539.3,104.0L539.5,104.3L539.7,104.8L539.9,105.1L540.1,105.4L540.3,105.6L540.4,105.8L540.6,105.9L540.8,106.0L541.0,106.1L541.2,106.1L541.4,106.2L541.6,106.2L541.7,106.2L541.9,106.3L542.1,106.3L542.3,106.3L542.5,106.3L542.7,106.3L542.9,106.3L543.1,106.3L543.2,106.4L543.4,106.4L543.6,106.4L543.8,106.4L544.0,106.4L544.2,106.4L544.4,106.4L544.5,106.4L544.7,106.4L544.9,106.4L545.1,106.4L545.3,106.4L545.5,106.4L545.7,106.4L545.8,106.4L546.0,106.4L546.2,106.4L546.4,106.4L546.6,106.4L546.8,106.4L547.0,106.4L547.1,106.4" fill="none" stroke="#7848e0" stroke-width="0.8" style="mix-blend-mode:multiply"/>
<path d="M306.4,85.5L306.6,85.6L306.8,85.7L307.0,85.9L307.2,86.1L307.4,86.3L307.5,86.5L307.7,86.6L307.9,86.7L308.1,86.8L308.3,86.9L308.5,87.0L308.7,87.1L308.8,87.0L309.0,86.9L309.2,86.8L309.4,86.7L309.6,86.6L309.8,86.8L310.0,87.0L310.2,87.1L310.3,87.2L310.5,87.4L310.7,87.5L310.9,87.7L311.1,87.9L311.3,88.2L311.5,88.4L311.6,88.6L311.8,88.9L312.0,88.8L312.2,88.8L312.4,88.7L312.6,88.6L312.8,88.5L312.9,88.4L313.1,88.2L313.3,88.1L313.5,88.0L313.7,87.8L313.9,87.7L314.1,87.5L314.2,87.4L314.4,87.3L314.6,87.2L314.8,87.1L315.0,87.0L315.2,86.9L315.4,86.8L315.6,86.7L315.7,86.5L315.9,86.4L316.1,86.3L316.3,86.3L316.5,86.3L316.7,86.3L316.9,86.2L317.0,86.2L317.2,86.1L317.4,86.4L317.6,86.7L317.8,87.0L318.0,87.3L318.2,87.6L318.3,88.0L318.5,88.7L318.7,89.4L318.9,90.1L319.1,90.9L319.3,91.6L319.5,91.9L319.6,92.3L319.8,92.6L320.0,93.0L320.2,93.5L320.4,94.0L320.6,94.3L320.8,94.7L320.9,95.0L321.1,95.2L321.3,95.4L321.5,95.6L321.7,95.5L321.9,95.4L322.1,95.3L322.3,95.1L322.4,95.0L322.6,95.0L322.8,94.9L323.0,94.9L323.2,94.9L323.4,95.0L323.6,95.0L323.7,95.1L323.9,95.1L324.1,95.1L324.3,95.0L324.5,95.0L324.7,94.8L324.9,94.6L325.0,94.4L325.2,94.2L325.4,94.0L325.6,93.8L325.8,93.7L326.0,93.7L326.2,93.8L326.3,93.9L326.5,94.1L326.7,94.2L326.9,94.3L327.1,94.5L327.3,94.5L327.5,94.6L327.7,94.6L327.8,94.7L328.0,94.9L328.2,95.0L328.4,95.1L328.6,95.1L328.8,95.2L329.0,95.2L329.1,95.2L329.3,95.1L329.5,95.0L329.7,94.9L329.9,94.9L330.1,94.8L330.3,94.8L330.4,94.9L330.6,95.0L330.8,95.2L331.0,95.3L331.2,95.5L331.4,95.7L331.6,95.8L331.7,95.9L331.9,95.9L332.1,95.9L332.3,95.9L332.5,95.9L332.7,95.9L332.9,96.0L333.1,96.0L333.2,96.0L333.4,96.0L333.6,95.9L333.8,95.8L334.0,95.6L334.2,95.4L334.4,95.3L334.5,95.2L334.7,95.2L334.9,95.2L335.1,95.3L335.3,95.3L335.5,95.3L335.7,95.3L335.8,95.4L336.0,95.4L336.2,95.4L336.4,95.5L336.6,95.5L336.8,95.7L337.0,95.8L337.1,96.0L337.3,96.1L337.5,96.2L337.7,96.2L337.9,96.3L338.1,96.4L338.3,96.5L338.4,96.6L338.6,96.7L338.8,96.8L339.0,96.9L339.2,96.9L339.4,96.9L339.6,96.9L339.8,96.8L339.9,96.7L340.1,96.7L340.3,96.6L340.5,96.6L340.7,96.7L340.9,96.7L341.1,96.8L341.2,96.8L341.4,96.8L341.6,96.9L341.8,96.9L342.0,96.9L342.2,97.0L342.4,97.1L342.5,97.1L342.7,97.2L342.9,97.3L343.1,97.5L343.3,97.5L343.5,97.6L343.7,97.7L343.8,97.8L344.0,97.8L344.2,97.8L344.4,97.7L344.6,97.7L344.8,97.7L345.0,97.7L345.2,97.6L345.3,97.6L345.5,97.6L345.7,97.7L345.9,97.7L346.1,97.7L346.3,97.7L346.5,97.7L346.6,97.7L346.8,97.7L347.0,97.8L347.2,97.8L347.4,97.8L347.6,97.8L347.8,97.9L347.9,97.9L348.1,97.9L348.3,97.9L348.5,97.8L348.7,97.8L348.9,97.8L349.1,97.8L349.2,97.8L349.4,97.8L349.6,97.8L349.8,97.7L350.0,97.7L350.2,97.6L350.4,97.6L350.6,97.5L350.7,97.4L350.9,97.4L351.1,97.5L351.3,97.6L351.5,97.7L351.7,97.9L351.9,98.0L352.0,98.1L352.2,98.2L352.4,98.4L352.6,98.5L352.8,98.6L353.0,98.7L353.2,98.9L353.3,99.0L353.5,99.0L353.7,99.1L353.9,99.2L354.1,99.3L354.3,99.4L354.5,99.5L354.6,99.7L354.8,99.8L355.0,99.9L355.2,100.1L355.4,100.2L355.6,100.3L355.8,100.4L355.9,100.4L356.1,100.5L356.3,100.5L356.5,100.6L356.7,100.7L356.9,100.7L357.1,100.8L357.3,100.9L357.4,100.9L357.6,100.9L357.8,101.0L358.0,101.0L358.2,101.0L358.4,101.0L358.6,101.1L358.7,101.2L358.9,101.4L359.1,101.6L359.3,101.8L359.5,102.0L359.7,102.2L359.9,102.4L360.0,102.5L360.2,102.5L360.4,102.6L360.6,102.6L360.8,102.6L361.0,102.7L361.2,102.7L361.3,102.7L361.5,102.8L361.7,102.8L361.9,102.8L362.1,102.9L362.3,102.9L362.5,103.0L362.7,103.0L362.8,103.1L363.0,103.1L363.2,103.1L363.4,103.1L363.6,103.0L363.8,103.0L364.0,102.9L364.1,102.9L364.3,102.9L364.5,102.9L364.7,103.0L364.9,103.1L365.1,103.2L365.3,103.4L365.4,103.5L365.6,103.7L365.8,103.8L366.0,103.8L366.2,103.8L366.4,103.9L366.6,103.9L366.7,103.9L366.9,103.9L367.1,103.9L367.3,103.9L367.5,103.9L367.7,103.9L367.9,103.9L368.1,103.8L368.2,103.7L368.4,103.6L368.6,103.5L368.8,103.5L369.0,103.4L369.2,103.5L369.4,103.5L369.5,103.5L369.7,103.6L369.9,103.6L370.1,103.6L370.3,103.6L370.5,103.7L370.7,103.7L370.8,103.7L371.0,103.8L371.2,103.8L371.4,103.9L371.6,103.9L371.8,104.0L372.0,104.0L372.1,104.0L372.3,104.0L372.5,104.0L372.7,104.0L372.9,104.0L373.1,104.0L373.3,104.0L373.4,104.0L373.6,104.0L373.8,104.1L374.0,104.1L374.2,104.1L374.4,104.1L374.6,104.2L374.8,104.2L374.9,104.2L375.1,104.2L375.3,104.2L375.5,104.1L375.7,104.1L375.9,104.0L376.1,103.9L376.2,103.9L376.4,103.9L376.6,103.9L376.8,104.0L377.0,104.0L377.2,104.1L377.4,104.1L377.5,104.2L377.7,104.2L377.9,104.2L378.1,104.2L378.3,104.2L378.5,104.2L378.7,104.2L378.8,104.2L379.0,104.1L379.2,104.1L379.4,104.1L379.6,104.1L379.8,104.1L380.0,104.0L380.2,104.0L380.3,104.0L380.5,103.9L380.7,103.9L380.9,103.9L381.1,103.9L381.3,103.9L381.5,103.9L381.6,103.9L381.8,104.0L382.0,104.0L382.2,104.0L382.4,104.0L382.6,104.0L382.8,104.0L382.9,104.0L383.1,104.0L383.3,104.0L383.5,104.1L383.7,104.1L383.9,104.1L384.1,104.1L384.2,104.0L384.4,104.0L384.6,104.0L384.8,104.0L385.0,104.0L385.2,104.0L385.4,104.0L385.6,104.0L385.7,103.9L385.9,103.9L386.1,103.9L386.3,103.8L386.5,103.8L386.7,103.8L386.9,103.8L387.0,103.8L387.2,103.8L387.4,103.7L387.6,103.7L387.8,103.7L388.0,103.7L388.2,103.7L388.3,103.7L388.5,103.7L388.7,103.7L388.9,103.6L389.1,103.6L389.3,103.5L389.5,103.5L389.6,103.4L389.8,103.4L390.0,103.4L390.2,103.4L390.4,103.4L390.6,103.4L390.8,103.4L390.9,103.4L391.1,103.4L391.3,103.4L391.5,103.4L391.7,103.4L391.9,103.4L392.1,103.4L392.3,103.5L392.4,103.5L392.6,103.5L392.8,103.5L393.0,103.5L393.2,103.4L393.4,103.4L393.6,103.3L393.7,103.3L393.9,103.2L394.1,103.2L394.3,103.1L394.5,103.1L394.7,103.0L394.9,103.0L395.0,102.9L395.2,102.9L395.4,102.8L395.6,102.8L395.8,102.7L396.0,102.7L396.2,102.6L396.3,102.6L396.5,102.5L396.7,102.5L396.9,102.4L397.1,102.4L397.3,102.3L397.5,102.2L397.7,102.1L397.8,102.0L398.0,101.9L398.2,101.8L398.4,101.7L398.6,101.6L398.8,101.5L399.0,101.3L399.1,101.2L399.3,101.0L399.5,100.9L399.7,100.7L399.9,100.6L400.1,100.5L400.3,100.3L400.4,100.2L400.6,100.1L400.8,99.9L401.0,99.8L401.2,99.7L401.4,99.6L401.6,99.5L401.7,99.4L401.9,99.4L402.1,99.2L402.3,99.1L402.5,98.8L402.7,98.5L402.9,98.0L403.1,97.3L403.2,96.3L403.4,94.9L403.6,93.3L403.8,91.8L404.0,91.3L404.2,92.1L404.4,93.8L404.5,95.6L404.7,97.2L404.9,98.4L405.1,99.4L405.3,100.1L405.5,100.6L405.7,101.1L405.8,101.4L406.0,101.7L406.2,101.9L406.4,102.1L406.6,102.2L406.8,102.3L407.0,102.4L407.1,102.5L407.3,102.6L407.5,102.6L407.7,102.7L407.9,102.8L408.1,102.8L408.3,102.9L408.4,102.9L408.6,102.9L408.8,102.9L409.0,103.0L409.2,103.0L409.4,103.0L409.6,103.1L409.8,103.1L409.9,103.1L410.1,103.2L410.3,103.2L410.5,103.2L410.7,103.2L410.9,103.2L411.1,103.2L411.2,103.2L411.4,103.2L411.6,103.1L411.8,103.1L412.0,103.1L412.2,103.1L412.4,103.1L412.5,103.1L412.7,103.1L412.9,103.1L413.1,103.1L413.3,103.1L413.5,103.1L413.7,103.1L413.8,103.1L414.0,103.2L414.2,103.2L414.4,103.3L414.6,103.3L414.8,103.3L415.0,103.4L415.2,103.4L415.3,103.4L415.5,103.4L415.7,103.4L415.9,103.4L416.1,103.4L416.3,103.4L416.5,103.4L416.6,103.4L416.8,103.4L417.0,103.4L417.2,103.3L417.4,103.3L417.6,103.2L417.8,103.2L417.9,103.2L418.1,103.1L418.3,103.1L418.5,103.1L418.7,103.1L418.9,103.0L419.1,103.0L419.2,103.0L419.4,102.9L419.6,102.9L419.8,102.9L420.0,102.8L420.2,102.8L420.4,102.7L420.6,102.7L420.7,102.6L420.9,102.6L421.1,102.5L421.3,102.5L421.5,102.5L421.7,102.5L421.9,102.4L422.0,102.4L422.2,102.4L422.4,102.3L422.6,102.3L422.8,102.2L423.0,102.2L423.2,102.2L423.3,102.1L423.5,102.1L423.7,102.0L423.9,102.0L424.1,101.9L424.3,101.8L424.5,101.7L424.6,101.5L424.8,101.4L425.0,101.3L425.2,101.1L425.4,101.0L425.6,100.8L425.8,100.7L425.9,100.5L426.1,100.3L426.3,100.1L426.5,99.8L426.7,99.6L426.9,99.3L427.1,99.0L427.3,98.7L427.4,98.4L427.6,98.1L427.8,97.7L428.0,97.3L428.2,96.9L428.4,96.4L428.6,95.8L428.7,95.2L428.9,94.5L429.1,93.7L429.3,92.7L429.5,91.7L429.7,90.6L429.9,89.4L430.0,88.0L430.2,86.5L430.4,84.8L430.6,82.9L430.8,80.7L431.0,78.2L431.2,75.4L431.3,72.2L431.5,68.6L431.7,64.7L431.9,60.5L432.1,56.0L432.3,51.5L432.5,47.0L432.7,43.0L432.8,39.8L433.0,37.6L433.2,36.9L433.4,37.6L433.6,39.7L433.8,43.0L434.0,47.0L434.1,51.4L434.3,56.0L434.5,60.5L434.7,64.8L434.9,68.7L435.1,72.2L435.3,75.4L435.4,78.2L435.6,80.7L435.8,82.9L436.0,84.9L436.2,86.6L436.4,88.2L436.6,89.5L436.7,90.7L436.9,91.8L437.1,92.7L437.3,93.6L437.5,94.3L437.7,95.0L437.9,95.7L438.1,96.2L438.2,96.8L438.4,97.3L438.6,97.7L438.8,98.1L439.0,98.5L439.2,98.8L439.4,99.1L439.5,99.4L439.7,99.7L439.9,100.0L440.1,100.2L440.3,100.5L440.5,100.7L440.7,100.8L440.8,100.9L441.0,101.0L441.2,101.1L441.4,101.2L441.6,101.2L441.8,101.3L442.0,101.4L442.1,101.5L442.3,101.7L442.5,101.8L442.7,101.9L442.9,102.1L443.1,102.2L443.3,102.3L443.4,102.4L443.6,102.5L443.8,102.5L444.0,102.6L444.2,102.6L444.4,102.7L444.6,102.7L444.8,102.8L444.9,102.8L445.1,102.9L445.3,102.9L445.5,102.9L445.7,103.0L445.9,103.0L446.1,103.0L446.2,103.1L446.4,103.1L446.6,103.1L446.8,103.1L447.0,103.1L447.2,103.1L447.4,103.1L447.5,103.1L447.7,103.1L447.9,103.0L448.1,103.0L448.3,103.0L448.5,103.0L448.7,102.9L448.8,102.8L449.0,102.8L449.2,102.6L449.4,102.5L449.6,102.3L449.8,102.0L450.0,101.6L450.2,101.0L450.3,100.3L450.5,99.4L450.7,98.2L450.9,96.7L451.1,95.1L451.3,93.8L451.5,93.3L451.6,93.8L451.8,95.2L452.0,96.8L452.2,98.3L452.4,99.5L452.6,100.5L452.8,101.2L452.9,101.7L453.1,102.1L453.3,102.4L453.5,102.6L453.7,102.8L453.9,103.0L454.1,103.1L454.2,103.2L454.4,103.2L454.6,103.3L454.8,103.3L455.0,103.3L455.2,103.4L455.4,103.4L455.6,103.5L455.7,103.5L455.9,103.6L456.1,103.7L456.3,103.8L456.5,103.9L456.7,103.9L456.9,104.0L457.0,104.0L457.2,104.0L457.4,104.0L457.6,104.0L457.8,103.9L458.0,103.9L458.2,103.9L458.3,103.9L458.5,103.9L458.7,103.9L458.9,103.9L459.1,103.9L459.3,103.9L459.5,103.9L459.6,103.9L459.8,103.9L460.0,103.9L460.2,103.9L460.4,103.9L460.6,103.9L460.8,104.0L460.9,104.0L461.1,104.0L461.3,104.0L461.5,104.0L461.7,104.0L461.9,104.1L462.1,104.1L462.3,104.1L462.4,104.1L462.6,104.1L462.8,104.1L463.0,104.1L463.2,104.1L463.4,104.1L463.6,104.1L463.7,104.1L463.9,104.1L464.1,104.1L464.3,104.1L464.5,104.1L464.7,104.1L464.9,104.1L465.0,104.1L465.2,104.1L465.4,104.1L465.6,104.1L465.8,104.1L466.0,104.1L466.2,104.1L466.3,104.1L466.5,104.1L466.7,104.1L466.9,104.1L467.1,104.0L467.3,104.0L467.5,104.0L467.7,103.9L467.8,103.9L468.0,103.8L468.2,103.8L468.4,103.7L468.6,103.6L468.8,103.5L469.0,103.3L469.1,103.1L469.3,102.9L469.5,102.7L469.7,102.4L469.9,102.0L470.1,101.5L470.3,100.7L470.4,99.6L470.6,97.9L470.8,95.2L471.0,91.2L471.2,85.5L471.4,77.8L471.6,68.3L471.7,57.6L471.9,47.0L472.1,38.8L472.3,35.6L472.5,38.7L472.7,46.9L472.9,57.5L473.1,68.3L473.2,77.8L473.4,85.5L473.6,91.2L473.8,95.3L474.0,98.0L474.2,99.7L474.4,100.9L474.5,101.7L474.7,102.2L474.9,102.7L475.1,103.0L475.3,103.3L475.5,103.5L475.7,103.7L475.8,103.9L476.0,104.0L476.2,104.1L476.4,104.3L476.6,104.4L476.8,104.5L477.0,104.6L477.1,104.7L477.3,104.8L477.5,104.9L477.7,104.9L477.9,105.0L478.1,105.1L478.3,105.1L478.4,105.2L478.6,105.2L478.8,105.3L479.0,105.3L479.2,105.4L479.4,105.4L479.6,105.4L479.8,105.5L479.9,105.5L480.1,105.5L480.3,105.5L480.5,105.5L480.7,105.6L480.9,105.6L481.1,105.6L481.2,105.6L481.4,105.6L481.6,105.7L481.8,105.7L482.0,105.7L482.2,105.7L482.4,105.7L482.5,105.7L482.7,105.8L482.9,105.8L483.1,105.8L483.3,105.8L483.5,105.8L483.7,105.8L483.8,105.8L484.0,105.8L484.2,105.8L484.4,105.8L484.6,105.7L484.8,105.7L485.0,105.7L485.2,105.7L485.3,105.7L485.5,105.8L485.7,105.8L485.9,105.9L486.1,105.9L486.3,106.0L486.5,106.0L486.6,106.0L486.8,106.1L487.0,106.1L487.2,106.1L487.4,106.1L487.6,106.1L487.8,106.1L487.9,106.1L488.1,106.1L488.3,106.1L488.5,106.1L488.7,106.0L488.9,106.0L489.1,106.0L489.2,105.9L489.4,105.9L489.6,105.9L489.8,105.9L490.0,105.9L490.2,105.9L490.4,105.9L490.6,105.9L490.7,105.9L490.9,105.9L491.1,105.9L491.3,105.9L491.5,105.9L491.7,105.9L491.9,105.9L492.0,105.9L492.2,105.9L492.4,105.9L492.6,105.9L492.8,105.9L493.0,105.9L493.2,106.0L493.3,106.1L493.5,106.1L493.7,106.2L493.9,106.2L494.1,106.2L494.3,106.2L494.5,106.2L494.6,106.2L494.8,106.1L495.0,106.1L495.2,106.1L495.4,106.0L495.6,106.0L495.8,106.0L495.9,106.0L496.1,106.0L496.3,106.0L496.5,106.0L496.7,106.0L496.9,106.0L497.1,106.0L497.3,106.0L497.4,106.0L497.6,106.0L497.8,106.1L498.0,106.1L498.2,106.2L498.4,106.2L498.6,106.2L498.7,106.2L498.9,106.2L499.1,106.2L499.3,106.1L499.5,106.1L499.7,106.1L499.9,106.1L500.0,106.1L500.2,106.1L500.4,106.1L500.6,106.1L500.8,106.0L501.0,106.0L501.2,106.0L501.3,106.0L501.5,106.0L501.7,106.0L501.9,106.0L502.1,106.0L502.3,106.0L502.5,106.0L502.7,106.0L502.8,106.0L503.0,106.0L503.2,106.0L503.4,106.1L503.6,106.1L503.8,106.1L504.0,106.1L504.1,106.2L504.3,106.2L504.5,106.2L504.7,106.2L504.9,106.2L505.1,106.2L505.3,106.1L505.4,106.1L505.6,106.1L505.8,106.1L506.0,106.1L506.2,106.1L506.4,106.1L506.6,106.1L506.7,106.1L506.9,106.1L507.1,106.1L507.3,106.1L507.5,106.1L507.7,106.1L507.9,106.1L508.1,106.2L508.2,106.2L508.4,106.2L508.6,106.3L508.8,106.3L509.0,106.3L509.2,106.3L509.4,106.3L509.5,106.3L509.7,106.2L509.9,106.2L510.1,106.2L510.3,106.2L510.5,106.2L510.7,106.2L510.8,106.2L511.0,106.2L511.2,106.2L511.4,106.2L511.6,106.2L511.8,106.2L512.0,106.2L512.1,106.2L512.3,106.2L512.5,106.2L512.7,106.2L512.9,106.2L513.1,106.2L513.3,106.2L513.4,106.2L513.6,106.2L513.8,106.2L514.0,106.2L514.2,106.1L514.4,106.1L514.6,106.1L514.8,106.1L514.9,106.0L515.1,106.1L515.3,106.1L515.5,106.1L515.7,106.1L515.9,106.2L516.1,106.2L516.2,106.2L516.4,106.2L516.6,106.2L516.8,106.2L517.0,106.2L517.2,106.2L517.4,106.2L517.5,106.2L517.7,106.2L517.9,106.2L518.1,106.2L518.3,106.2L518.5,106.2L518.7,106.2L518.8,106.2L519.0,106.1L519.2,106.1L519.4,106.1L519.6,106.1L519.8,106.1L520.0,106.1L520.2,106.1L520.3,106.1L520.5,106.1L520.7,106.1L520.9,106.1L521.1,106.1L521.3,106.2L521.5,106.2L521.6,106.3L521.8,106.3L522.0,106.4L522.2,106.4L522.4,106.4L522.6,106.4L522.8,106.4L522.9,106.4L523.1,106.4L523.3,106.3L523.5,106.3L523.7,106.3L523.9,106.3L524.1,106.3L524.2,106.3L524.4,106.2L524.6,106.2L524.8,106.2L525.0,106.2L525.2,106.2L525.4,106.2L525.6,106.2L525.7,106.2L525.9,106.2L526.1,106.2L526.3,106.3L526.5,106.3L526.7,106.3L526.9,106.3L527.0,106.3L527.2,106.3L527.4,106.4L527.6,106.4L527.8,106.4L528.0,106.4L528.2,106.4L528.3,106.4L528.5,106.4L528.7,106.4L528.9,106.3L529.1,106.3L529.3,106.2L529.5,106.1L529.6,106.1L529.8,106.1L530.0,106.1L530.2,106.1L530.4,106.1L530.6,106.1L530.8,106.1L530.9,106.1L531.1,106.1L531.3,106.1L531.5,106.1L531.7,106.1L531.9,106.1L532.1,106.1L532.3,106.1L532.4,106.1L532.6,106.1L532.8,106.1L533.0,106.1L533.2,106.2L533.4,106.2L533.6,106.2L533.7,106.3L533.9,106.3L534.1,106.3L534.3,106.3L534.5,106.3L534.7,106.3L534.9,106.3L535.0,106.2L535.2,106.2L535.4,106.1L535.6,106.1L535.8,106.0L536.0,106.0L536.2,106.0L536.3,106.1L536.5,106.1L536.7,106.1L536.9,106.1L537.1,106.0L537.3,106.0L537.5,105.9L537.7,105.8L537.8,105.6L538.0,105.4L538.2,105.2L538.4,104.8L538.6,104.4L538.8,103.9L539.0,103.4L539.1,103.2L539.3,103.4L539.5,103.8L539.7,104.3L539.9,104.8L540.1,105.1L540.3,105.4L540.4,105.6L540.6,105.7L540.8,105.8L541.0,105.9L541.2,105.9L541.4,105.9L541.6,106.0L541.7,106.0L541.9,106.0L542.1,106.1L542.3,106.2L542.5,106.2L542.7,106.3L542.9,106.4L543.1,106.4L543.2,106.4L543.4,106.5L543.6,106.5L543.8,106.5L544.0,106.4L544.2,106.4L544.4,106.4L544.5,106.4L544.7,106.4L544.9,106.4L545.1,106.4L545.3,106.4L545.5,106.4L545.7,106.4L545.8,106.4L546.0,106.3L546.2,106.3L546.4,106.3L546.6,106.3L546.8,106.3L547.0,106.3L547.1,106.3" fill="none" stroke="#8a4a2e" stroke-width="0.8" style="mix-blend-mode:multiply"/>
<path d="M15.7,221.2L15.9,221.2L16.1,221.2L16.3,221.2L16.4,221.2L16.6,221.3L16.8,221.3L17.0,221.3L17.2,221.3L17.4,221.3L17.6,221.3L17.7,221.3L17.9,221.3L18.1,221.3L18.3,221.3L18.5,221.3L18.7,221.3L18.9,221.3L19.1,221.3L19.2,221.2L19.4,221.2L19.6,221.2L19.8,221.3L20.0,221.3L20.2,221.3L20.4,221.3L20.5,221.3L20.7,221.3L20.9,221.3L21.1,221.3L21.3,221.3L21.5,221.3L21.7,221.3L21.8,221.3L22.0,221.3L22.2,221.3L22.4,221.3L22.6,221.3L22.8,221.3L23.0,221.3L23.1,221.3L23.3,221.3L23.5,221.3L23.7,221.3L23.9,221.3L24.1,221.2L24.3,221.2L24.5,221.2L24.6,221.1L24.8,221.1L25.0,221.1L25.2,221.1L25.4,221.1L25.6,221.1L25.8,221.1L25.9,221.1L26.1,221.1L26.3,221.1L26.5,221.1L26.7,221.1L26.9,221.1L27.1,221.1L27.2,221.1L27.4,221.2L27.6,221.2L27.8,221.3L28.0,221.3L28.2,221.4L28.4,221.4L28.5,221.4L28.7,221.4L28.9,221.4L29.1,221.4L29.3,221.4L29.5,221.4L29.7,221.3L29.9,221.3L30.0,221.3L30.2,221.2L30.4,221.2L30.6,221.2L30.8,221.2L31.0,221.2L31.2,221.2L31.3,221.2L31.5,221.2L31.7,221.2L31.9,221.2L32.1,221.2L32.3,221.2L32.5,221.2L32.6,221.2L32.8,221.2L33.0,221.3L33.2,221.3L33.4,221.3L33.6,221.4L33.8,221.4L33.9,221.5L34.1,221.5L34.3,221.5L34.5,221.5L34.7,221.5L34.9,221.5L35.1,221.4L35.3,221.4L35.4,221.4L35.6,221.3L35.8,221.3L36.0,221.3L36.2,221.3L36.4,221.3L36.6,221.3L36.7,221.3L36.9,221.3L37.1,221.4L37.3,221.4L37.5,221.4L37.7,221.4L37.9,221.4L38.0,221.4L38.2,221.4L38.4,221.4L38.6,221.4L38.8,221.4L39.0,221.4L39.2,221.3L39.3,221.3L39.5,221.3L39.7,221.3L39.9,221.3L40.1,221.3L40.3,221.3L40.5,221.3L40.7,221.3L40.8,221.3L41.0,221.3L41.2,221.3L41.4,221.3L41.6,221.4L41.8,221.4L42.0,221.3L42.1,221.3L42.3,221.3L42.5,221.3L42.7,221.3L42.9,221.2L43.1,221.2L43.3,221.2L43.4,221.2L43.6,221.2L43.8,221.2L44.0,221.2L44.2,221.2L44.4,221.2L44.6,221.3L44.7,221.3L44.9,221.3L45.1,221.3L45.3,221.3L45.5,221.4L45.7,221.4L45.9,221.4L46.1,221.4L46.2,221.4L46.4,221.4L46.6,221.4L46.8,221.4L47.0,221.4L47.2,221.4L47.4,221.4L47.5,221.4L47.7,221.4L47.9,221.4L48.1,221.4L48.3,221.4L48.5,221.4L48.7,221.3L48.8,221.3L49.0,221.3L49.2,221.3L49.4,221.3L49.6,221.3L49.8,221.3L50.0,221.3L50.1,221.4L50.3,221.4L50.5,221.4L50.7,221.4L50.9,221.4L51.1,221.4L51.3,221.4L51.5,221.4L51.6,221.4L51.8,221.4L52.0,221.4L52.2,221.4L52.4,221.4L52.6,221.4L52.8,221.4L52.9,221.4L53.1,221.4L53.3,221.3L53.5,221.3L53.7,221.3L53.9,221.2L54.1,221.2L54.2,221.2L54.4,221.1L54.6,221.1L54.8,221.1L55.0,221.1L55.2,221.1L55.4,221.2L55.5,221.2L55.7,221.3L55.9,221.3L56.1,221.3L56.3,221.4L56.5,221.4L56.7,221.4L56.9,221.4L57.0,221.4L57.2,221.4L57.4,221.4L57.6,221.4L57.8,221.4L58.0,221.3L58.2,221.3L58.3,221.3L58.5,221.3L58.7,221.3L58.9,221.3L59.1,221.3L59.3,221.3L59.5,221.2L59.6,221.2L59.8,221.2L60.0,221.2L60.2,221.2L60.4,221.2L60.6,221.2L60.8,221.1L60.9,221.1L61.1,221.1L61.3,221.1L61.5,221.1L61.7,221.0L61.9,221.0L62.1,221.0L62.3,221.0L62.4,221.0L62.6,221.0L62.8,221.1L63.0,221.1L63.2,221.1L63.4,221.2L63.6,221.2L63.7,221.3L63.9,221.3L64.1,221.3L64.3,221.3L64.5,221.3L64.7,221.2L64.9,221.2L65.0,221.2L65.2,221.2L65.4,221.1L65.6,221.1L65.8,221.1L66.0,221.1L66.2,221.1L66.3,221.1L66.5,221.1L66.7,221.1L66.9,221.1L67.1,221.1L67.3,221.1L67.5,221.1L67.7,221.1L67.8,221.1L68.0,221.1L68.2,221.1L68.4,221.1L68.6,221.1L68.8,221.1L69.0,221.1L69.1,221.1L69.3,221.1L69.5,221.1L69.7,221.1L69.9,221.1L70.1,221.1L70.3,221.1L70.4,221.1L70.6,221.1L70.8,221.1L71.0,221.1L71.2,221.0L71.4,221.0L71.6,221.0L71.7,221.0L71.9,221.0L72.1,221.0L72.3,221.0L72.5,221.0L72.7,221.1L72.9,221.1L73.0,221.1L73.2,221.1L73.4,221.1L73.6,221.0L73.8,221.0L74.0,221.0L74.2,221.0L74.4,220.9L74.5,220.9L74.7,220.9L74.9,220.8L75.1,220.8L75.3,220.8L75.5,220.8L75.7,220.8L75.8,220.8L76.0,220.8L76.2,220.9L76.4,220.9L76.6,220.9L76.8,220.9L77.0,220.9L77.1,220.9L77.3,220.9L77.5,220.9L77.7,220.9L77.9,220.8L78.1,220.8L78.3,220.8L78.4,220.8L78.6,220.7L78.8,220.7L79.0,220.7L79.2,220.7L79.4,220.7L79.6,220.7L79.8,220.8L79.9,220.8L80.1,220.8L80.3,220.8L80.5,220.9L80.7,220.9L80.9,220.9L81.1,220.9L81.2,220.9L81.4,220.8L81.6,220.8L81.8,220.8L82.0,220.8L82.2,220.8L82.4,220.8L82.5,220.8L82.7,220.8L82.9,220.8L83.1,220.8L83.3,220.7L83.5,220.7L83.7,220.6L83.8,220.6L84.0,220.5L84.2,220.5L84.4,220.4L84.6,220.4L84.8,220.4L85.0,220.4L85.2,220.4L85.3,220.4L85.5,220.4L85.7,220.4L85.9,220.4L86.1,220.4L86.3,220.4L86.5,220.4L86.6,220.4L86.8,220.4L87.0,220.4L87.2,220.4L87.4,220.4L87.6,220.4L87.8,220.4L87.9,220.4L88.1,220.4L88.3,220.4L88.5,220.4L88.7,220.4L88.9,220.4L89.1,220.5L89.2,220.5L89.4,220.5L89.6,220.6L89.8,220.6L90.0,220.6L90.2,220.6L90.4,220.6L90.6,220.6L90.7,220.6L90.9,220.5L91.1,220.5L91.3,220.5L91.5,220.4L91.7,220.4L91.9,220.4L92.0,220.4L92.2,220.4L92.4,220.4L92.6,220.4L92.8,220.4L93.0,220.4L93.2,220.4L93.3,220.4L93.5,220.4L93.7,220.4L93.9,220.4L94.1,220.4L94.3,220.4L94.5,220.3L94.6,220.3L94.8,220.3L95.0,220.3L95.2,220.2L95.4,220.2L95.6,220.2L95.8,220.2L96.0,220.2L96.1,220.2L96.3,220.2L96.5,220.2L96.7,220.2L96.9,220.2L97.1,220.2L97.3,220.2L97.4,220.2L97.6,220.2L97.8,220.2L98.0,220.2L98.2,220.2L98.4,220.2L98.6,220.2L98.7,220.2L98.9,220.2L99.1,220.1L99.3,220.1L99.5,220.1L99.7,220.1L99.9,220.1L100.0,220.1L100.2,220.1L100.4,220.1L100.6,220.1L100.8,220.1L101.0,220.1L101.2,220.1L101.4,220.1L101.5,220.1L101.7,220.1L101.9,220.1L102.1,220.1L102.3,220.1L102.5,220.1L102.7,220.1L102.8,220.1L103.0,220.1L103.2,220.1L103.4,220.1L103.6,220.1L103.8,220.1L104.0,220.1L104.1,220.1L104.3,220.1L104.5,220.1L104.7,220.1L104.9,220.1L105.1,220.0L105.3,220.0L105.4,220.0L105.6,220.1L105.8,220.1L106.0,220.1L106.2,220.1L106.4,220.1L106.6,220.1L106.8,220.1L106.9,220.1L107.1,220.1L107.3,220.1L107.5,220.1L107.7,220.0L107.9,220.0L108.1,220.0L108.2,220.0L108.4,219.9L108.6,219.9L108.8,219.9L109.0,219.9L109.2,219.9L109.4,219.9L109.5,219.9L109.7,219.9L109.9,219.9L110.1,219.8L110.3,219.8L110.5,219.8L110.7,219.7L110.8,219.7L111.0,219.6L111.2,219.5L111.4,219.4L111.6,219.3L111.8,219.2L112.0,219.1L112.2,219.0L112.3,219.0L112.5,219.0L112.7,219.1L112.9,219.2L113.1,219.3L113.3,219.4L113.5,219.5L113.6,219.6L113.8,219.6L114.0,219.7L114.2,219.7L114.4,219.7L114.6,219.8L114.8,219.8L114.9,219.8L115.1,219.8L115.3,219.8L115.5,219.8L115.7,219.8L115.9,219.7L116.1,219.7L116.2,219.7L116.4,219.7L116.6,219.7L116.8,219.7L117.0,219.7L117.2,219.7L117.4,219.6L117.6,219.6L117.7,219.6L117.9,219.6L118.1,219.6L118.3,219.6L118.5,219.6L118.7,219.6L118.9,219.7L119.0,219.7L119.2,219.7L119.4,219.8L119.6,219.8L119.8,219.8L120.0,219.8L120.2,219.8L120.3,219.8L120.5,219.8L120.7,219.8L120.9,219.8L121.1,219.8L121.3,219.8L121.5,219.9L121.6,219.9L121.8,219.9L122.0,219.8L122.2,219.8L122.4,219.8L122.6,219.8L122.8,219.8L123.0,219.8L123.1,219.8L123.3,219.8L123.5,219.8L123.7,219.8L123.9,219.8L124.1,219.8L124.3,219.8L124.4,219.7L124.6,219.7L124.8,219.7L125.0,219.7L125.2,219.7L125.4,219.6L125.6,219.6L125.7,219.6L125.9,219.6L126.1,219.6L126.3,219.6L126.5,219.7L126.7,219.7L126.9,219.7L127.0,219.7L127.2,219.7L127.4,219.7L127.6,219.7L127.8,219.6L128.0,219.6L128.2,219.6L128.4,219.5L128.5,219.5L128.7,219.5L128.9,219.4L129.1,219.4L129.3,219.4L129.5,219.4L129.7,219.4L129.8,219.5L130.0,219.5L130.2,219.5L130.4,219.5L130.6,219.6L130.8,219.6L131.0,219.6L131.1,219.6L131.3,219.6L131.5,219.6L131.7,219.6L131.9,219.5L132.1,219.5L132.3,219.5L132.4,219.5L132.6,219.4L132.8,219.4L133.0,219.4L133.2,219.4L133.4,219.4L133.6,219.3L133.8,219.3L133.9,219.3L134.1,219.2L134.3,219.2L134.5,219.2L134.7,219.1L134.9,219.1L135.1,219.1L135.2,219.0L135.4,219.0L135.6,219.0L135.8,218.9L136.0,218.9L136.2,218.8L136.4,218.7L136.5,218.7L136.7,218.6L136.9,218.5L137.1,218.5L137.3,218.4L137.5,218.3L137.7,218.2L137.8,218.1L138.0,218.0L138.2,217.8L138.4,217.5L138.6,217.2L138.8,216.6L139.0,215.8L139.2,214.6L139.3,212.5L139.5,209.3L139.7,204.5L139.9,197.8L140.1,189.2L140.3,179.3L140.5,169.4L140.6,161.7L140.8,158.7L141.0,161.6L141.2,169.3L141.4,179.1L141.6,189.0L141.8,197.5L141.9,204.2L142.1,209.0L142.3,212.2L142.5,214.2L142.7,215.5L142.9,216.3L143.1,216.9L143.2,217.3L143.4,217.7L143.6,217.9L143.8,218.1L144.0,218.3L144.2,218.4L144.4,218.6L144.6,218.6L144.7,218.7L144.9,218.8L145.1,218.8L145.3,218.8L145.5,218.8L145.7,218.9L145.9,218.9L146.0,218.9L146.2,219.0L146.4,219.0L146.6,219.0L146.8,219.0L147.0,219.0L147.2,219.0L147.3,219.0L147.5,219.0L147.7,219.0L147.9,219.0L148.1,219.0L148.3,219.1L148.5,219.1L148.6,219.1L148.8,219.1L149.0,219.1L149.2,219.1L149.4,219.1L149.6,219.2L149.8,219.2L150.0,219.2L150.1,219.2L150.3,219.2L150.5,219.2L150.7,219.3L150.9,219.3L151.1,219.3L151.3,219.4L151.4,219.4L151.6,219.4L151.8,219.4L152.0,219.4L152.2,219.4L152.4,219.4L152.6,219.4L152.7,219.4L152.9,219.4L153.1,219.4L153.3,219.4L153.5,219.5L153.7,219.4L153.9,219.4L154.0,219.4L154.2,219.3L154.4,219.3L154.6,219.2L154.8,219.2L155.0,219.2L155.2,219.1L155.4,219.1L155.5,219.1L155.7,219.2L155.9,219.2L156.1,219.2L156.3,219.2L156.5,219.3L156.7,219.3L156.8,219.3L157.0,219.4L157.2,219.4L157.4,219.4L157.6,219.3L157.8,219.3L158.0,219.3L158.1,219.3L158.3,219.2L158.5,219.2L158.7,219.2L158.9,219.1L159.1,219.1L159.3,219.1L159.4,219.2L159.6,219.2L159.8,219.2L160.0,219.3L160.2,219.3L160.4,219.3L160.6,219.4L160.8,219.4L160.9,219.4L161.1,219.4L161.3,219.4L161.5,219.4L161.7,219.3L161.9,219.3L162.1,219.3L162.2,219.3L162.4,219.3L162.6,219.2L162.8,219.2L163.0,219.2L163.2,219.3L163.4,219.3L163.5,219.3L163.7,219.4L163.9,219.4L164.1,219.4L164.3,219.4L164.5,219.5L164.7,219.5L164.8,219.5L165.0,219.5L165.2,219.5L165.4,219.5L165.6,219.5L165.8,219.5L166.0,219.5L166.1,219.5L166.3,219.5L166.5,219.5L166.7,219.5L166.9,219.5L167.1,219.4L167.3,219.4L167.5,219.4L167.6,219.4L167.8,219.3L168.0,219.3L168.2,219.3L168.4,219.3L168.6,219.3L168.8,219.3L168.9,219.3L169.1,219.4L169.3,219.4L169.5,219.4L169.7,219.4L169.9,219.5L170.1,219.5L170.2,219.5L170.4,219.5L170.6,219.4L170.8,219.4L171.0,219.4L171.2,219.3L171.4,219.3L171.5,219.2L171.7,219.2L171.9,219.2L172.1,219.2L172.3,219.2L172.5,219.2L172.7,219.2L172.9,219.1L173.0,219.1L173.2,219.1L173.4,219.1L173.6,219.1L173.8,219.1L174.0,219.1L174.2,219.1L174.3,219.1L174.5,219.1L174.7,219.1L174.9,219.1L175.1,219.2L175.3,219.2L175.5,219.2L175.6,219.2L175.8,219.2L176.0,219.2L176.2,219.2L176.4,219.2L176.6,219.1L176.8,219.1L176.9,219.0L177.1,219.0L177.3,218.9L177.5,218.9L177.7,218.9L177.9,218.8L178.1,218.8L178.3,218.8L178.4,218.7L178.6,218.7L178.8,218.6L179.0,218.5L179.2,218.4L179.4,218.2L179.6,217.9L179.7,217.4L179.9,216.5L180.1,215.2L180.3,213.2L180.5,210.7L180.7,208.3L180.9,207.2L181.0,208.3L181.2,210.7L181.4,213.2L181.6,215.2L181.8,216.6L182.0,217.5L182.2,218.0L182.3,218.3L182.5,218.5L182.7,218.7L182.9,218.8L183.1,218.9L183.3,218.9L183.5,219.0L183.7,219.0L183.8,219.0L184.0,219.0L184.2,219.0L184.4,219.0L184.6,219.0L184.8,219.0L185.0,219.0L185.1,219.0L185.3,219.0L185.5,219.0L185.7,219.0L185.9,219.0L186.1,219.0L186.3,219.0L186.4,219.0L186.6,219.0L186.8,219.0L187.0,219.0L187.2,219.0L187.4,219.0L187.6,219.1L187.7,219.1L187.9,219.2L188.1,219.2L188.3,219.3L188.5,219.3L188.7,219.3L188.9,219.3L189.1,219.3L189.2,219.3L189.4,219.3L189.6,219.3L189.8,219.2L190.0,219.2L190.2,219.2L190.4,219.1L190.5,219.1L190.7,219.1L190.9,219.1L191.1,219.1L191.3,219.2L191.5,219.2L191.7,219.2L191.8,219.3L192.0,219.3L192.2,219.3L192.4,219.4L192.6,219.4L192.8,219.4L193.0,219.4L193.1,219.4L193.3,219.4L193.5,219.4L193.7,219.3L193.9,219.3L194.1,219.3L194.3,219.3L194.5,219.3L194.6,219.3L194.8,219.3L195.0,219.3L195.2,219.3L195.4,219.2L195.6,219.2L195.8,219.2L195.9,219.1L196.1,219.1L196.3,219.1L196.5,219.1L196.7,219.1L196.9,219.1L197.1,219.1L197.2,219.1L197.4,219.1L197.6,219.1L197.8,219.1L198.0,219.2L198.2,219.2L198.4,219.2L198.5,219.2L198.7,219.2L198.9,219.2L199.1,219.2L199.3,219.2L199.5,219.2L199.7,219.2L199.9,219.2L200.0,219.2L200.2,219.2L200.4,219.2L200.6,219.2L200.8,219.2L201.0,219.2L201.2,219.2L201.3,219.2L201.5,219.2L201.7,219.2L201.9,219.2L202.1,219.2L202.3,219.2L202.5,219.2L202.6,219.2L202.8,219.2L203.0,219.2L203.2,219.2L203.4,219.2L203.6,219.2L203.8,219.2L203.9,219.2L204.1,219.2L204.3,219.2L204.5,219.2L204.7,219.2L204.9,219.2L205.1,219.2L205.3,219.2L205.4,219.2L205.6,219.2L205.8,219.2L206.0,219.2L206.2,219.2L206.4,219.2L206.6,219.2L206.7,219.2L206.9,219.2L207.1,219.2L207.3,219.2L207.5,219.2L207.7,219.2L207.9,219.2L208.0,219.2L208.2,219.2L208.4,219.2L208.6,219.3L208.8,219.3L209.0,219.3L209.2,219.3L209.3,219.3L209.5,219.3L209.7,219.3L209.9,219.3L210.1,219.2L210.3,219.2L210.5,219.2L210.7,219.2L210.8,219.1L211.0,219.1L211.2,219.1L211.4,219.1L211.6,219.1L211.8,219.1L212.0,219.1L212.1,219.1L212.3,219.1L212.5,219.1L212.7,219.1L212.9,219.1L213.1,219.1L213.3,219.1L213.4,219.1L213.6,219.1L213.8,219.1L214.0,219.1L214.2,219.1L214.4,219.2L214.6,219.2L214.7,219.2L214.9,219.2L215.1,219.2L215.3,219.2L215.5,219.1L215.7,219.1L215.9,219.1L216.1,219.1L216.2,219.0L216.4,219.0L216.6,219.0L216.8,219.0L217.0,219.0L217.2,219.0L217.4,219.0L217.5,219.0L217.7,219.0L217.9,219.0L218.1,219.0L218.3,219.0L218.5,219.0L218.7,219.0L218.8,219.0L219.0,219.0L219.2,219.1L219.4,219.1L219.6,219.1L219.8,219.2L220.0,219.2L220.1,219.2L220.3,219.3L220.5,219.3L220.7,219.3L220.9,219.2L221.1,219.2L221.3,219.2L221.5,219.2L221.6,219.1L221.8,219.1L222.0,219.1L222.2,219.1L222.4,219.1L222.6,219.1L222.8,219.1L222.9,219.1L223.1,219.1L223.3,219.1L223.5,219.1L223.7,219.1L223.9,219.1L224.1,219.1L224.2,219.1L224.4,219.1L224.6,219.0L224.8,219.0L225.0,219.0L225.2,219.0L225.4,218.9L225.5,218.9L225.7,218.9L225.9,218.9L226.1,218.8L226.3,218.8L226.5,218.9L226.7,218.9L226.9,218.9L227.0,218.9L227.2,218.9L227.4,219.0L227.6,219.0L227.8,219.0L228.0,219.0L228.2,219.0L228.3,219.0L228.5,219.0L228.7,219.0L228.9,219.0L229.1,219.0L229.3,219.0L229.5,219.1L229.6,219.1L229.8,219.1L230.0,219.1L230.2,219.0L230.4,219.0L230.6,219.0L230.8,218.9L230.9,218.9L231.1,218.9L231.3,218.8L231.5,218.8L231.7,218.8L231.9,218.8L232.1,218.8L232.3,218.9L232.4,218.9L232.6,218.9L232.8,219.0L233.0,219.0L233.2,219.0L233.4,219.0L233.6,219.1L233.7,219.1L233.9,219.1L234.1,219.1L234.3,219.1L234.5,219.1L234.7,219.1L234.9,219.1L235.0,219.1L235.2,219.1L235.4,219.1L235.6,219.0L235.8,219.0L236.0,219.0L236.2,219.0L236.3,218.9L236.5,218.9L236.7,218.9L236.9,218.8L237.1,218.8L237.3,218.8L237.5,218.8L237.7,218.8L237.8,218.9L238.0,218.9L238.2,218.9L238.4,219.0L238.6,219.0L238.8,219.0L239.0,219.0L239.1,219.0L239.3,219.0L239.5,219.0L239.7,219.0L239.9,219.0L240.1,219.0L240.3,219.0L240.4,219.0L240.6,219.0L240.8,219.0L241.0,219.0L241.2,219.0L241.4,219.0L241.6,219.0L241.7,219.0L241.9,219.0L242.1,219.0L242.3,219.0L242.5,219.0L242.7,219.0L242.9,219.0L243.1,219.0L243.2,219.0L243.4,219.0L243.6,219.0L243.8,219.0L244.0,218.9L244.2,218.9L244.4,218.9L244.5,218.9L244.7,218.9L244.9,218.9L245.1,218.9L245.3,218.9L245.5,218.9L245.7,219.0L245.8,219.0L246.0,219.0L246.2,219.0L246.4,219.0L246.6,219.0L246.8,219.0L247.0,219.0L247.1,219.0L247.3,219.0L247.5,219.0L247.7,219.0L247.9,219.0L248.1,219.0L248.3,219.0L248.5,219.0L248.6,219.0L248.8,219.0L249.0,219.0L249.2,218.9L249.4,218.9L249.6,218.8L249.8,218.8L249.9,218.8L250.1,218.7L250.3,218.7L250.5,218.7L250.7,218.7L250.9,218.7L251.1,218.7L251.2,218.7L251.4,218.7L251.6,218.7L251.8,218.7L252.0,218.7L252.2,218.7L252.4,218.7L252.5,218.8L252.7,218.8L252.9,218.8L253.1,218.9L253.3,218.9L253.5,218.9L253.7,219.0L253.8,219.0L254.0,219.0L254.2,219.0L254.4,219.0L254.6,219.0L254.8,219.0L255.0,219.0L255.2,219.1L255.3,219.1L255.5,219.1L255.7,219.1L255.9,219.1L256.1,219.1" fill="none" stroke="#8a4a2e" stroke-width="0.8" style="mix-blend-mode:multiply"/>
<path d="M15.7,221.2L15.9,221.2L16.1,221.1L16.3,221.1L16.4,221.0L16.6,221.0L16.8,221.0L17.0,220.9L17.2,220.9L17.4,220.9L17.6,221.0L17.7,221.0L17.9,221.0L18.1,221.0L18.3,221.0L18.5,221.0L18.7,220.9L18.9,220.9L19.1,220.8L19.2,220.7L19.4,220.7L19.6,220.6L19.8,220.6L20.0,220.6L20.2,220.5L20.4,220.5L20.5,220.4L20.7,220.4L20.9,220.3L21.1,220.3L21.3,220.3L21.5,220.3L21.7,220.3L21.8,220.3L22.0,220.2L22.2,220.2L22.4,220.1L22.6,220.0L22.8,220.0L23.0,220.0L23.1,219.9L23.3,219.8L23.5,219.7L23.7,219.6L23.9,219.6L24.1,219.5L24.3,219.5L24.5,219.6L24.6,219.6L24.8,219.7L25.0,219.9L25.2,220.0L25.4,220.1L25.6,220.2L25.8,220.3L25.9,220.4L26.1,220.5L26.3,220.6L26.5,220.6L26.7,220.5L26.9,220.4L27.1,220.4L27.2,220.3L27.4,220.3L27.6,220.3L27.8,220.2L28.0,220.0L28.2,219.9L28.4,219.7L28.5,219.5L28.7,219.3L28.9,218.9L29.1,218.6L29.3,218.2L29.5,217.8L29.7,217.5L29.9,217.2L30.0,217.2L30.2,217.2L30.4,217.4L30.6,217.6L30.8,217.9L31.0,218.2L31.2,218.5L31.3,218.8L31.5,219.1L31.7,219.3L31.9,219.5L32.1,219.7L32.3,219.8L32.5,219.9L32.6,220.0L32.8,220.1L33.0,220.2L33.2,220.3L33.4,220.4L33.6,220.4L33.8,220.5L33.9,220.5L34.1,220.6L34.3,220.7L34.5,220.8L34.7,221.0L34.9,221.1L35.1,221.2L35.3,221.3L35.4,221.3L35.6,221.3L35.8,221.3L36.0,221.3L36.2,221.3L36.4,221.3L36.6,221.3L36.7,221.3L36.9,221.4L37.1,221.4L37.3,221.4L37.5,221.4L37.7,221.4L37.9,221.4L38.0,221.4L38.2,221.4L38.4,221.4L38.6,221.4L38.8,221.4L39.0,221.5L39.2,221.5L39.3,221.4L39.5,221.4L39.7,221.3L39.9,221.2L40.1,221.1L40.3,221.0L40.5,221.0L40.7,221.0L40.8,221.0L41.0,221.0L41.2,221.1L41.4,221.1L41.6,221.1L41.8,221.1L42.0,221.1L42.1,221.2L42.3,221.2L42.5,221.3L42.7,221.4L42.9,221.4L43.1,221.4L43.3,221.4L43.4,221.5L43.6,221.5L43.8,221.5L44.0,221.5L44.2,221.5L44.4,221.6L44.6,221.6L44.7,221.6L44.9,221.6L45.1,221.6L45.3,221.7L45.5,221.7L45.7,221.7L45.9,221.7L46.1,221.7L46.2,221.7L46.4,221.7L46.6,221.7L46.8,221.7L47.0,221.7L47.2,221.7L47.4,221.5L47.5,221.4L47.7,221.2L47.9,221.0L48.1,220.8L48.3,220.7L48.5,220.7L48.7,220.7L48.8,220.8L49.0,220.8L49.2,220.9L49.4,220.9L49.6,220.9L49.8,220.8L50.0,220.8L50.1,220.8L50.3,220.7L50.5,220.7L50.7,220.6L50.9,220.6L51.1,220.5L51.3,220.5L51.5,220.4L51.6,220.3L51.8,220.2L52.0,220.1L52.2,220.1L52.4,220.0L52.6,219.9L52.8,219.8L52.9,219.7L53.1,219.5L53.3,219.4L53.5,219.4L53.7,219.3L53.9,219.3L54.1,219.3L54.2,219.2L54.4,219.2L54.6,219.2L54.8,219.1L55.0,219.1L55.2,219.0L55.4,218.8L55.5,218.7L55.7,218.6L55.9,218.4L56.1,218.3L56.3,218.3L56.5,218.3L56.7,218.4L56.9,218.4L57.0,218.4L57.2,218.4L57.4,218.3L57.6,218.1L57.8,218.0L58.0,217.7L58.2,217.5L58.3,217.2L58.5,217.0L58.7,216.6L58.9,216.3L59.1,215.9L59.3,215.4L59.5,214.8L59.6,214.2L59.8,213.6L60.0,212.9L60.2,212.2L60.4,211.4L60.6,210.6L60.8,209.9L60.9,209.2L61.1,208.6L61.3,208.3L61.5,208.2L61.7,208.4L61.9,208.8L62.1,209.4L62.3,210.2L62.4,210.9L62.6,211.7L62.8,212.4L63.0,213.0L63.2,213.6L63.4,214.1L63.6,214.6L63.7,215.0L63.9,215.4L64.1,215.8L64.3,216.2L64.5,216.5L64.7,216.9L64.9,217.1L65.0,217.4L65.2,217.6L65.4,217.7L65.6,217.9L65.8,218.0L66.0,218.1L66.2,218.2L66.3,218.3L66.5,218.4L66.7,218.5L66.9,218.5L67.1,218.5L67.3,218.5L67.5,218.4L67.7,218.5L67.8,218.5L68.0,218.5L68.2,218.5L68.4,218.5L68.6,218.6L68.8,218.6L69.0,218.6L69.1,218.6L69.3,218.6L69.5,218.7L69.7,218.8L69.9,218.9L70.1,219.0L70.3,219.1L70.4,219.2L70.6,219.3L70.8,219.3L71.0,219.3L71.2,219.4L71.4,219.4L71.6,219.5L71.7,219.5L71.9,219.6L72.1,219.6L72.3,219.6L72.5,219.6L72.7,219.7L72.9,219.7L73.0,219.7L73.2,219.8L73.4,219.8L73.6,219.8L73.8,219.8L74.0,219.8L74.2,219.8L74.4,219.8L74.5,219.8L74.7,219.8L74.9,219.9L75.1,220.0L75.3,220.1L75.5,220.1L75.7,220.1L75.8,220.0L76.0,219.9L76.2,219.7L76.4,219.6L76.6,219.4L76.8,219.3L77.0,219.2L77.1,219.2L77.3,219.1L77.5,219.1L77.7,219.1L77.9,219.1L78.1,219.0L78.3,219.0L78.4,219.0L78.6,219.1L78.8,219.1L79.0,219.2L79.2,219.3L79.4,219.4L79.6,219.4L79.8,219.3L79.9,219.3L80.1,219.2L80.3,219.1L80.5,219.0L80.7,218.9L80.9,218.9L81.1,218.9L81.2,218.9L81.4,218.9L81.6,219.0L81.8,219.0L82.0,219.0L82.2,219.0L82.4,219.0L82.5,219.0L82.7,219.0L82.9,218.9L83.1,218.9L83.3,218.9L83.5,218.9L83.7,218.9L83.8,218.8L84.0,218.8L84.2,218.8L84.4,218.7L84.6,218.7L84.8,218.7L85.0,218.7L85.2,218.8L85.3,218.9L85.5,219.0L85.7,219.1L85.9,219.2L86.1,219.2L86.3,219.2L86.5,219.0L86.6,218.9L86.8,218.7L87.0,218.5L87.2,218.4L87.4,218.3L87.6,218.3L87.8,218.4L87.9,218.4L88.1,218.4L88.3,218.5L88.5,218.5L88.7,218.5L88.9,218.4L89.1,218.4L89.2,218.3L89.4,218.3L89.6,218.2L89.8,218.2L90.0,218.2L90.2,218.2L90.4,218.2L90.6,218.3L90.7,218.4L90.9,218.4L91.1,218.5L91.3,218.5L91.5,218.5L91.7,218.4L91.9,218.3L92.0,218.2L92.2,218.1L92.4,218.1L92.6,218.1L92.8,218.0L93.0,218.0L93.2,218.0L93.3,218.0L93.5,218.1L93.7,218.0L93.9,218.0L94.1,218.0L94.3,218.1L94.5,218.2L94.6,218.2L94.8,218.3L95.0,218.3L95.2,218.3L95.4,218.3L95.6,218.2L95.8,218.1L96.0,218.0L96.1,217.9L96.3,217.9L96.5,217.8L96.7,217.8L96.9,217.9L97.1,217.9L97.3,217.9L97.4,218.0L97.6,218.0L97.8,218.0L98.0,218.0L98.2,218.1L98.4,218.1L98.6,218.2L98.7,218.2L98.9,218.3L99.1,218.3L99.3,218.2L99.5,218.1L99.7,217.9L99.9,217.8L100.0,217.6L100.2,217.5L100.4,217.4L100.6,217.4L100.8,217.4L101.0,217.4L101.2,217.3L101.4,217.3L101.5,217.3L101.7,217.3L101.9,217.3L102.1,217.3L102.3,217.3L102.5,217.4L102.7,217.4L102.8,217.4L103.0,217.4L103.2,217.4L103.4,217.5L103.6,217.6L103.8,217.7L104.0,217.8L104.1,217.9L104.3,217.9L104.5,217.9L104.7,217.8L104.9,217.8L105.1,217.7L105.3,217.6L105.4,217.5L105.6,217.5L105.8,217.4L106.0,217.3L106.2,217.2L106.4,217.0L106.6,216.9L106.8,216.8L106.9,216.7L107.1,216.7L107.3,216.6L107.5,216.6L107.7,216.6L107.9,216.5L108.1,216.5L108.2,216.4L108.4,216.4L108.6,216.3L108.8,216.2L109.0,216.1L109.2,216.0L109.4,216.0L109.5,215.9L109.7,215.8L109.9,215.8L110.1,215.8L110.3,215.9L110.5,215.9L110.7,215.8L110.8,215.8L111.0,215.7L111.2,215.6L111.4,215.5L111.6,215.3L111.8,215.2L112.0,215.1L112.2,215.0L112.3,215.0L112.5,215.0L112.7,215.1L112.9,215.2L113.1,215.3L113.3,215.3L113.5,215.3L113.6,215.3L113.8,215.2L114.0,215.2L114.2,215.2L114.4,215.2L114.6,215.3L114.8,215.2L114.9,215.2L115.1,215.2L115.3,215.2L115.5,215.2L115.7,215.2L115.9,215.2L116.1,215.2L116.2,215.1L116.4,215.1L116.6,215.0L116.8,214.9L117.0,214.9L117.2,214.8L117.4,214.8L117.6,214.8L117.7,214.8L117.9,214.8L118.1,214.8L118.3,214.9L118.5,214.9L118.7,214.9L118.9,214.8L119.0,214.6L119.2,214.4L119.4,214.2L119.6,213.9L119.8,213.8L120.0,213.7L120.2,213.7L120.3,213.7L120.5,213.7L120.7,213.8L120.9,213.8L121.1,213.8L121.3,213.8L121.5,213.8L121.6,213.9L121.8,214.1L122.0,214.2L122.2,214.3L122.4,214.4L122.6,214.4L122.8,214.4L123.0,214.3L123.1,214.3L123.3,214.2L123.5,214.1L123.7,214.1L123.9,214.1L124.1,214.0L124.3,213.9L124.4,213.8L124.6,213.7L124.8,213.6L125.0,213.6L125.2,213.5L125.4,213.5L125.6,213.6L125.7,213.7L125.9,213.8L126.1,213.9L126.3,213.9L126.5,214.0L126.7,213.9L126.9,213.8L127.0,213.7L127.2,213.6L127.4,213.5L127.6,213.4L127.8,213.4L128.0,213.3L128.2,213.3L128.4,213.3L128.5,213.3L128.7,213.3L128.9,213.3L129.1,213.3L129.3,213.2L129.5,213.1L129.7,212.9L129.8,212.7L130.0,212.6L130.2,212.4L130.4,212.4L130.6,212.3L130.8,212.2L131.0,212.2L131.1,212.1L131.3,212.0L131.5,212.0L131.7,211.9L131.9,211.9L132.1,211.9L132.3,211.9L132.4,211.9L132.6,211.9L132.8,211.9L133.0,211.9L133.2,211.8L133.4,211.7L133.6,211.6L133.8,211.5L133.9,211.4L134.1,211.3L134.3,211.2L134.5,211.2L134.7,211.1L134.9,211.2L135.1,211.2L135.2,211.3L135.4,211.3L135.6,211.3L135.8,211.3L136.0,211.3L136.2,211.5L136.4,211.6L136.5,211.7L136.7,211.8L136.9,211.8L137.1,211.7L137.3,211.5L137.5,211.4L137.7,211.1L137.8,210.9L138.0,210.8L138.2,210.7L138.4,210.6L138.6,210.4L138.8,210.2L139.0,210.0L139.2,209.7L139.3,209.3L139.5,208.9L139.7,208.2L139.9,207.1L140.1,205.4L140.3,202.9L140.5,199.7L140.6,196.6L140.8,195.1L141.0,196.6L141.2,199.7L141.4,202.9L141.6,205.4L141.8,207.1L141.9,208.2L142.1,208.9L142.3,209.3L142.5,209.7L142.7,210.0L142.9,210.3L143.1,210.6L143.2,210.8L143.4,210.8L143.6,210.9L143.8,210.8L144.0,210.8L144.2,210.7L144.4,210.6L144.6,210.5L144.7,210.5L144.9,210.5L145.1,210.5L145.3,210.5L145.5,210.5L145.7,210.5L145.9,210.4L146.0,210.4L146.2,210.4L146.4,210.4L146.6,210.3L146.8,210.3L147.0,210.2L147.2,210.2L147.3,210.2L147.5,210.2L147.7,210.3L147.9,210.5L148.1,210.8L148.3,211.0L148.5,211.1L148.6,211.2L148.8,211.1L149.0,211.0L149.2,210.9L149.4,210.7L149.6,210.6L149.8,210.5L150.0,210.5L150.1,210.4L150.3,210.4L150.5,210.3L150.7,210.3L150.9,210.2L151.1,210.2L151.3,210.1L151.4,210.1L151.6,210.1L151.8,210.0L152.0,210.0L152.2,209.9L152.4,209.9L152.6,209.9L152.7,209.9L152.9,209.9L153.1,209.9L153.3,209.9L153.5,209.8L153.7,209.8L153.9,209.8L154.0,209.8L154.2,209.8L154.4,209.9L154.6,209.9L154.8,209.9L155.0,209.9L155.2,209.9L155.4,209.9L155.5,210.0L155.7,210.1L155.9,210.3L156.1,210.4L156.3,210.4L156.5,210.5L156.7,210.4L156.8,210.3L157.0,210.2L157.2,210.0L157.4,209.9L157.6,209.8L157.8,209.8L158.0,209.7L158.1,209.7L158.3,209.7L158.5,209.6L158.7,209.6L158.9,209.6L159.1,209.6L159.3,209.6L159.4,209.6L159.6,209.7L159.8,209.9L160.0,210.0L160.2,210.0L160.4,210.1L160.6,210.0L160.8,210.0L160.9,209.9L161.1,209.8L161.3,209.8L161.5,209.7L161.7,209.7L161.9,209.7L162.1,209.8L162.2,210.0L162.4,210.2L162.6,210.4L162.8,210.5L163.0,210.6L163.2,210.5L163.4,210.3L163.5,210.1L163.7,209.9L163.9,209.6L164.1,209.5L164.3,209.4L164.5,209.4L164.7,209.5L164.8,209.6L165.0,209.7L165.2,209.8L165.4,209.8L165.6,209.8L165.8,209.9L166.0,209.9L166.1,209.9L166.3,210.0L166.5,210.1L166.7,210.1L166.9,210.1L167.1,210.1L167.3,210.0L167.5,209.9L167.6,209.8L167.8,209.7L168.0,209.6L168.2,209.6L168.4,209.6L168.6,209.7L168.8,209.8L168.9,210.0L169.1,210.1L169.3,210.2L169.5,210.2L169.7,210.2L169.9,210.1L170.1,210.0L170.2,209.8L170.4,209.7L170.6,209.5L170.8,209.5L171.0,209.5L171.2,209.4L171.4,209.3L171.5,209.2L171.7,209.2L171.9,209.1L172.1,209.1L172.3,209.1L172.5,209.1L172.7,209.1L172.9,209.1L173.0,209.2L173.2,209.2L173.4,209.2L173.6,209.1L173.8,209.1L174.0,208.9L174.2,208.8L174.3,208.7L174.5,208.6L174.7,208.6L174.9,208.6L175.1,208.6L175.3,208.7L175.5,208.8L175.6,208.9L175.8,208.9L176.0,209.0L176.2,208.9L176.4,208.9L176.6,208.8L176.8,208.8L176.9,208.7L177.1,208.6L177.3,208.6L177.5,208.6L177.7,208.7L177.9,208.9L178.1,209.1L178.3,209.2L178.4,209.3L178.6,209.3L178.8,209.3L179.0,209.3L179.2,209.3L179.4,209.2L179.6,209.2L179.7,209.2L179.9,209.1L180.1,209.1L180.3,209.0L180.5,208.9L180.7,208.8L180.9,208.7L181.0,208.6L181.2,208.6L181.4,208.5L181.6,208.4L181.8,208.2L182.0,208.1L182.2,207.9L182.3,207.8L182.5,207.7L182.7,207.7L182.9,207.7L183.1,207.7L183.3,207.7L183.5,207.7L183.7,207.7L183.8,207.7L184.0,207.7L184.2,207.6L184.4,207.6L184.6,207.5L184.8,207.5L185.0,207.5L185.1,207.4L185.3,207.4L185.5,207.3L185.7,207.3L185.9,207.2L186.1,207.2L186.3,207.1L186.4,207.1L186.6,207.0L186.8,207.0L187.0,207.0L187.2,206.9L187.4,206.9L187.6,206.9L187.7,206.8L187.9,206.8L188.1,206.9L188.3,207.0L188.5,207.2L188.7,207.3L188.9,207.4L189.1,207.5L189.2,207.4L189.4,207.2L189.6,207.0L189.8,206.8L190.0,206.6L190.2,206.4L190.4,206.3L190.5,206.3L190.7,206.3L190.9,206.2L191.1,206.2L191.3,206.1L191.5,206.1L191.7,206.1L191.8,206.1L192.0,206.3L192.2,206.5L192.4,206.7L192.6,206.9L192.8,207.1L193.0,207.1L193.1,207.1L193.3,207.0L193.5,206.9L193.7,206.7L193.9,206.6L194.1,206.5L194.3,206.5L194.5,206.5L194.6,206.6L194.8,206.7L195.0,206.8L195.2,206.9L195.4,206.9L195.6,206.9L195.8,206.9L195.9,206.7L196.1,206.6L196.3,206.4L196.5,206.2L196.7,206.0L196.9,206.0L197.1,206.0L197.2,206.1L197.4,206.2L197.6,206.3L197.8,206.4L198.0,206.5L198.2,206.5L198.4,206.5L198.5,206.4L198.7,206.3L198.9,206.2L199.1,206.2L199.3,206.1L199.5,206.1L199.7,206.0L199.9,206.0L200.0,206.1L200.2,206.1L200.4,206.1L200.6,206.1L200.8,206.1L201.0,206.1L201.2,206.0L201.3,206.0L201.5,206.0L201.7,206.0L201.9,205.9L202.1,205.9L202.3,205.9L202.5,205.8L202.6,205.7L202.8,205.6L203.0,205.5L203.2,205.4L203.4,205.4L203.6,205.4L203.8,205.3L203.9,205.1L204.1,205.0L204.3,204.9L204.5,204.8L204.7,204.7L204.9,204.7L205.1,204.7L205.3,204.7L205.4,204.7L205.6,204.7L205.8,204.7L206.0,204.7L206.2,204.8L206.4,204.9L206.6,205.0L206.7,205.2L206.9,205.4L207.1,205.5L207.3,205.5L207.5,205.5L207.7,205.5L207.9,205.5L208.0,205.5L208.2,205.5L208.4,205.4L208.6,205.4L208.8,205.4L209.0,205.4L209.2,205.4L209.3,205.4L209.5,205.4L209.7,205.3L209.9,205.3L210.1,205.3L210.3,205.1L210.5,204.9L210.7,204.7L210.8,204.5L211.0,204.4L211.2,204.3L211.4,204.3L211.6,204.4L211.8,204.5L212.0,204.5L212.1,204.6L212.3,204.7L212.5,204.7L212.7,204.7L212.9,204.7L213.1,204.7L213.3,204.7L213.4,204.7L213.6,204.7L213.8,204.7L214.0,204.7L214.2,204.6L214.4,204.6L214.6,204.5L214.7,204.4L214.9,204.4L215.1,204.4L215.3,204.4L215.5,204.4L215.7,204.4L215.9,204.4L216.1,204.5L216.2,204.5L216.4,204.5L216.6,204.4L216.8,204.4L217.0,204.3L217.2,204.1L217.4,204.0L217.5,204.0L217.7,203.9L217.9,203.9L218.1,203.9L218.3,203.9L218.5,204.0L218.7,204.0L218.8,204.0L219.0,204.0L219.2,203.9L219.4,203.9L219.6,203.9L219.8,203.9L220.0,203.9L220.1,203.9L220.3,203.9L220.5,203.8L220.7,203.7L220.9,203.6L221.1,203.4L221.3,203.3L221.5,203.2L221.6,203.1L221.8,203.1L222.0,203.3L222.2,203.4L222.4,203.6L222.6,203.8L222.8,203.9L222.9,203.9L223.1,203.9L223.3,203.9L223.5,203.9L223.7,203.9L223.9,203.9L224.1,203.9L224.2,203.9L224.4,203.8L224.6,203.6L224.8,203.3L225.0,203.0L225.2,202.7L225.4,202.5L225.5,202.4L225.7,202.5L225.9,202.6L226.1,202.9L226.3,203.1L226.5,203.4L226.7,203.6L226.9,203.6L227.0,203.6L227.2,203.6L227.4,203.5L227.6,203.5L227.8,203.5L228.0,203.5L228.2,203.4L228.3,203.4L228.5,203.3L228.7,203.2L228.9,203.1L229.1,203.0L229.3,202.9L229.5,202.9L229.6,202.8L229.8,202.7L230.0,202.4L230.2,202.2L230.4,202.0L230.6,201.9L230.8,201.8L230.9,201.8L231.1,202.0L231.3,202.2L231.5,202.5L231.7,202.7L231.9,202.9L232.1,202.9L232.3,202.9L232.4,202.7L232.6,202.4L232.8,202.1L233.0,201.9L233.2,201.7L233.4,201.6L233.6,201.7L233.7,201.8L233.9,202.1L234.1,202.3L234.3,202.6L234.5,202.7L234.7,202.8L234.9,202.7L235.0,202.6L235.2,202.5L235.4,202.4L235.6,202.3L235.8,202.2L236.0,202.1L236.2,202.1L236.3,201.9L236.5,201.7L236.7,201.5L236.9,201.3L237.1,201.1L237.3,201.0L237.5,201.0L237.7,201.0L237.8,201.0L238.0,201.0L238.2,201.0L238.4,201.0L238.6,201.0L238.8,201.0L239.0,201.1L239.1,201.2L239.3,201.4L239.5,201.5L239.7,201.5L239.9,201.6L240.1,201.5L240.3,201.5L240.4,201.4L240.6,201.4L240.8,201.3L241.0,201.3L241.2,201.3L241.4,201.3L241.6,201.3L241.7,201.3L241.9,201.3L242.1,201.4L242.3,201.4L242.5,201.4L242.7,201.4L242.9,201.4L243.1,201.4L243.2,201.4L243.4,201.5L243.6,201.5L243.8,201.5L244.0,201.4L244.2,201.2L244.4,201.0L244.5,200.7L244.7,200.4L244.9,200.3L245.1,200.2L245.3,200.1L245.5,200.1L245.7,200.0L245.8,199.9L246.0,199.8L246.2,199.7L246.4,199.7L246.6,199.7L246.8,199.9L247.0,200.1L247.1,200.4L247.3,200.7L247.5,200.9L247.7,200.9L247.9,200.8L248.1,200.6L248.3,200.3L248.5,199.9L248.6,199.6L248.8,199.4L249.0,199.3L249.2,199.3L249.4,199.5L249.6,199.8L249.8,200.0L249.9,200.3L250.1,200.4L250.3,200.5L250.5,200.4L250.7,200.2L250.9,199.9L251.1,199.6L251.2,199.4L251.4,199.2L251.6,199.1L251.8,199.1L252.0,199.2L252.2,199.4L252.4,199.7L252.5,199.9L252.7,200.0L252.9,200.0L253.1,200.0L253.3,200.0L253.5,199.9L253.7,199.9L253.8,199.8L254.0,199.8L254.2,199.8L254.4,199.8L254.6,199.8L254.8,199.8L255.0,199.8L255.2,199.8L255.3,199.8L255.5,199.8L255.7,199.7L255.9,199.6L256.1,199.5" fill="none" stroke="#7848e0" stroke-width="0.8" style="mix-blend-mode:multiply"/>
<path d="M303.0,231.2L303.1,231.2L303.3,231.2L303.5,231.2L303.7,231.3L303.9,231.3L304.1,231.3L304.3,231.4L304.5,231.4L304.6,231.4L304.8,231.5L305.0,231.5L305.2,231.5L305.4,231.5L305.6,231.5L305.8,231.5L306.0,231.5L306.1,231.5L306.3,231.6L306.5,231.6L306.7,231.6L306.9,231.6L307.1,231.6L307.3,231.6L307.5,231.6L307.6,231.7L307.8,231.7L308.0,231.7L308.2,231.7L308.4,231.7L308.6,231.7L308.8,231.7L309.0,231.7L309.2,231.8L309.3,231.8L309.5,231.9L309.7,231.9L309.9,231.9L310.1,232.0L310.3,232.0L310.5,232.0L310.7,232.0L310.8,232.0L311.0,232.0L311.2,232.0L311.4,232.0L311.6,232.0L311.8,231.9L312.0,231.9L312.2,231.8L312.3,231.7L312.5,231.7L312.7,231.6L312.9,231.6L313.1,231.6L313.3,231.5L313.5,231.5L313.7,231.5L313.8,231.6L314.0,231.6L314.2,231.6L314.4,231.7L314.6,231.7L314.8,231.8L315.0,231.8L315.2,231.9L315.3,231.9L315.5,232.0L315.7,232.0L315.9,232.0L316.1,232.0L316.3,232.0L316.5,231.9L316.7,231.8L316.8,231.6L317.0,231.4L317.2,231.1L317.4,230.9L317.6,230.6L317.8,230.4L318.0,230.2L318.2,230.0L318.3,229.9L318.5,229.8L318.7,229.8L318.9,229.8L319.1,229.8L319.3,229.9L319.5,230.0L319.7,230.1L319.8,230.2L320.0,230.3L320.2,230.4L320.4,230.6L320.6,230.7L320.8,230.8L321.0,230.8L321.2,230.9L321.3,230.9L321.5,230.9L321.7,230.9L321.9,231.0L322.1,231.1L322.3,231.2L322.5,231.3L322.7,231.5L322.9,231.6L323.0,231.7L323.2,231.8L323.4,231.9L323.6,232.0L323.8,232.1L324.0,232.1L324.2,232.1L324.4,232.0L324.5,232.0L324.7,231.9L324.9,231.9L325.1,231.8L325.3,231.7L325.5,231.6L325.7,231.5L325.9,231.5L326.0,231.4L326.2,231.4L326.4,231.4L326.6,231.3L326.8,231.4L327.0,231.4L327.2,231.4L327.4,231.5L327.5,231.5L327.7,231.6L327.9,231.7L328.1,231.7L328.3,231.8L328.5,231.8L328.7,231.9L328.9,231.9L329.0,232.0L329.2,232.0L329.4,231.9L329.6,231.9L329.8,231.8L330.0,231.6L330.2,231.4L330.4,231.2L330.5,231.0L330.7,230.8L330.9,230.6L331.1,230.4L331.3,230.3L331.5,230.2L331.7,230.1L331.9,230.1L332.0,230.1L332.2,230.1L332.4,230.2L332.6,230.2L332.8,230.3L333.0,230.4L333.2,230.5L333.4,230.6L333.5,230.7L333.7,230.8L333.9,230.8L334.1,230.9L334.3,230.9L334.5,230.9L334.7,230.9L334.9,230.9L335.0,230.9L335.2,230.8L335.4,230.8L335.6,230.7L335.8,230.7L336.0,230.6L336.2,230.6L336.4,230.5L336.6,230.5L336.7,230.4L336.9,230.4L337.1,230.4L337.3,230.4L337.5,230.4L337.7,230.5L337.9,230.5L338.1,230.6L338.2,230.7L338.4,230.8L338.6,230.8L338.8,230.9L339.0,231.0L339.2,231.0L339.4,231.1L339.6,231.1L339.7,231.1L339.9,231.1L340.1,231.1L340.3,231.1L340.5,231.1L340.7,231.1L340.9,231.2L341.1,231.2L341.2,231.2L341.4,231.2L341.6,231.2L341.8,231.2L342.0,231.2L342.2,231.2L342.4,231.2L342.6,231.2L342.7,231.1L342.9,231.1L343.1,231.0L343.3,230.8L343.5,230.7L343.7,230.5L343.9,230.4L344.1,230.3L344.2,230.1L344.4,230.0L344.6,230.0L344.8,229.9L345.0,229.9L345.2,229.9L345.4,229.9L345.6,230.0L345.7,230.0L345.9,230.0L346.1,230.1L346.3,230.1L346.5,230.2L346.7,230.2L346.9,230.3L347.1,230.3L347.2,230.4L347.4,230.4L347.6,230.4L347.8,230.4L348.0,230.4L348.2,230.4L348.4,230.4L348.6,230.4L348.7,230.4L348.9,230.5L349.1,230.5L349.3,230.5L349.5,230.5L349.7,230.5L349.9,230.5L350.1,230.5L350.3,230.5L350.4,230.6L350.6,230.6L350.8,230.7L351.0,230.8L351.2,231.0L351.4,231.1L351.6,231.3L351.8,231.4L351.9,231.6L352.1,231.7L352.3,231.9L352.5,231.9L352.7,232.0L352.9,232.0L353.1,232.0L353.3,232.0L353.4,232.0L353.6,231.9L353.8,231.9L354.0,231.9L354.2,231.8L354.4,231.8L354.6,231.8L354.8,231.7L354.9,231.7L355.1,231.7L355.3,231.7L355.5,231.7L355.7,231.7L355.9,231.6L356.1,231.5L356.3,231.4L356.4,231.3L356.6,231.1L356.8,231.0L357.0,230.8L357.2,230.7L357.4,230.6L357.6,230.4L357.8,230.4L357.9,230.3L358.1,230.3L358.3,230.3L358.5,230.4L358.7,230.5L358.9,230.6L359.1,230.7L359.3,230.9L359.4,231.0L359.6,231.2L359.8,231.3L360.0,231.5L360.2,231.6L360.4,231.7L360.6,231.7L360.8,231.7L360.9,231.7L361.1,231.7L361.3,231.6L361.5,231.5L361.7,231.3L361.9,231.2L362.1,231.0L362.3,230.8L362.4,230.7L362.6,230.5L362.8,230.4L363.0,230.3L363.2,230.3L363.4,230.3L363.6,230.3L363.8,230.3L364.0,230.4L364.1,230.5L364.3,230.6L364.5,230.7L364.7,230.8L364.9,230.9L365.1,231.0L365.3,231.1L365.5,231.2L365.6,231.3L365.8,231.3L366.0,231.3L366.2,231.3L366.4,231.3L366.6,231.2L366.8,231.1L367.0,231.0L367.1,230.9L367.3,230.8L367.5,230.7L367.7,230.5L367.9,230.4L368.1,230.4L368.3,230.3L368.5,230.3L368.6,230.2L368.8,230.2L369.0,230.2L369.2,230.2L369.4,230.2L369.6,230.2L369.8,230.1L370.0,230.1L370.1,230.1L370.3,230.0L370.5,230.0L370.7,230.0L370.9,230.0L371.1,230.0L371.3,230.0L371.5,230.0L371.6,230.1L371.8,230.2L372.0,230.3L372.2,230.5L372.4,230.7L372.6,230.9L372.8,231.1L373.0,231.3L373.1,231.5L373.3,231.6L373.5,231.7L373.7,231.8L373.9,231.8L374.1,231.8L374.3,231.8L374.5,231.7L374.6,231.6L374.8,231.4L375.0,231.3L375.2,231.1L375.4,230.9L375.6,230.8L375.8,230.6L376.0,230.5L376.1,230.4L376.3,230.4L376.5,230.4L376.7,230.4L376.9,230.4L377.1,230.4L377.3,230.4L377.5,230.4L377.7,230.4L377.8,230.4L378.0,230.4L378.2,230.3L378.4,230.3L378.6,230.3L378.8,230.3L379.0,230.3L379.2,230.3L379.3,230.3L379.5,230.4L379.7,230.5L379.9,230.6L380.1,230.8L380.3,230.9L380.5,231.1L380.7,231.3L380.8,231.5L381.0,231.6L381.2,231.7L381.4,231.8L381.6,231.9L381.8,231.9L382.0,231.9L382.2,231.8L382.3,231.8L382.5,231.8L382.7,231.7L382.9,231.7L383.1,231.7L383.3,231.6L383.5,231.6L383.7,231.5L383.8,231.5L384.0,231.5L384.2,231.4L384.4,231.4L384.6,231.4L384.8,231.3L385.0,231.2L385.2,231.1L385.3,230.9L385.5,230.8L385.7,230.6L385.9,230.4L386.1,230.3L386.3,230.1L386.5,229.9L386.7,229.8L386.8,229.7L387.0,229.6L387.2,229.6L387.4,229.6L387.6,229.6L387.8,229.6L388.0,229.7L388.2,229.7L388.3,229.8L388.5,229.8L388.7,229.9L388.9,229.9L389.1,229.9L389.3,229.9L389.5,229.8L389.7,229.6L389.8,229.5L390.0,229.3L390.2,229.1L390.4,228.9L390.6,228.6L390.8,228.3L391.0,228.1L391.2,227.8L391.4,227.5L391.5,227.2L391.7,227.0L391.9,226.7L392.1,226.5L392.3,226.3L392.5,226.1L392.7,225.9L392.9,225.7L393.0,225.5L393.2,225.3L393.4,225.2L393.6,225.0L393.8,224.9L394.0,224.8L394.2,224.7L394.4,224.6L394.5,224.5L394.7,224.4L394.9,224.3L395.1,224.3L395.3,224.2L395.5,224.1L395.7,224.1L395.9,224.0L396.0,223.9L396.2,223.9L396.4,223.9L396.6,223.9L396.8,223.9L397.0,224.0L397.2,224.1L397.4,224.2L397.5,224.4L397.7,224.6L397.9,224.9L398.1,225.2L398.3,225.5L398.5,225.8L398.7,226.2L398.9,226.5L399.0,226.9L399.2,227.3L399.4,227.6L399.6,227.9L399.8,228.2L400.0,228.4L400.2,228.6L400.4,228.8L400.5,229.0L400.7,229.1L400.9,229.2L401.1,229.3L401.3,229.4L401.5,229.5L401.7,229.6L401.9,229.7L402.0,229.7L402.2,229.8L402.4,229.9L402.6,230.0L402.8,230.1L403.0,230.2L403.2,230.3L403.4,230.4L403.5,230.5L403.7,230.6L403.9,230.7L404.1,230.9L404.3,231.0L404.5,231.1L404.7,231.2L404.9,231.3L405.1,231.4L405.2,231.4L405.4,231.5L405.6,231.5L405.8,231.5L406.0,231.5L406.2,231.6L406.4,231.6L406.6,231.6L406.7,231.6L406.9,231.6L407.1,231.6L407.3,231.6L407.5,231.6L407.7,231.6L407.9,231.6L408.1,231.7L408.2,231.7L408.4,231.6L408.6,231.6L408.8,231.5L409.0,231.4L409.2,231.3L409.4,231.2L409.6,231.1L409.7,231.0L409.9,230.9L410.1,230.8L410.3,230.8L410.5,230.8L410.7,230.8L410.9,230.8L411.1,230.8L411.2,230.8L411.4,230.8L411.6,230.9L411.8,230.9L412.0,230.9L412.2,230.9L412.4,230.9L412.6,231.0L412.7,231.0L412.9,231.0L413.1,231.0L413.3,231.0L413.5,231.0L413.7,231.0L413.9,231.0L414.1,231.0L414.2,230.9L414.4,230.9L414.6,230.9L414.8,230.9L415.0,230.8L415.2,230.8L415.4,230.8L415.6,230.8L415.7,230.8L415.9,230.8L416.1,230.8L416.3,230.8L416.5,230.8L416.7,230.8L416.9,230.8L417.1,230.8L417.2,230.8L417.4,230.8L417.6,230.8L417.8,230.8L418.0,230.8L418.2,230.8L418.4,230.8L418.6,230.8L418.7,230.8L418.9,230.8L419.1,230.8L419.3,230.8L419.5,230.8L419.7,230.8L419.9,230.8L420.1,230.8L420.3,230.8L420.4,230.7L420.6,230.7L420.8,230.7L421.0,230.7L421.2,230.7L421.4,230.7L421.6,230.7L421.8,230.7L421.9,230.7L422.1,230.7L422.3,230.7L422.5,230.7L422.7,230.7L422.9,230.7L423.1,230.7L423.3,230.7L423.4,230.6L423.6,230.6L423.8,230.5L424.0,230.4L424.2,230.2L424.4,230.1L424.6,230.0L424.8,229.8L424.9,229.7L425.1,229.5L425.3,229.2L425.5,229.0L425.7,228.7L425.9,228.4L426.1,228.0L426.3,227.5L426.4,226.9L426.6,226.2L426.8,225.2L427.0,223.7L427.2,221.5L427.4,218.3L427.6,213.8L427.8,207.7L427.9,200.1L428.1,191.1L428.3,181.7L428.5,172.9L428.7,166.5L428.9,164.2L429.1,166.5L429.3,172.9L429.4,181.6L429.6,191.1L429.8,200.0L430.0,207.7L430.2,213.7L430.4,218.3L430.6,221.5L430.8,223.7L430.9,225.2L431.1,226.3L431.3,227.1L431.5,227.7L431.7,228.2L431.9,228.6L432.1,228.9L432.3,229.3L432.4,229.5L432.6,229.8L432.8,230.0L433.0,230.2L433.2,230.3L433.4,230.5L433.6,230.6L433.8,230.7L434.0,230.8L434.1,230.9L434.3,231.0L434.5,231.1L434.7,231.1L434.9,231.2L435.1,231.3L435.3,231.3L435.5,231.3L435.6,231.4L435.8,231.4L436.0,231.4L436.2,231.5L436.4,231.5L436.6,231.5L436.8,231.5L437.0,231.5L437.1,231.5L437.3,231.6L437.5,231.6L437.7,231.7L437.9,231.7L438.1,231.8L438.3,231.8L438.5,231.9L438.6,231.9L438.8,232.0L439.0,232.0L439.2,232.1L439.4,232.1L439.6,232.1L439.8,232.1L440.0,232.1L440.1,232.1L440.3,232.1L440.5,232.0L440.7,232.0L440.9,232.0L441.1,232.0L441.3,231.9L441.5,231.9L441.6,231.9L441.8,231.9L442.0,231.9L442.2,231.9L442.4,231.9L442.6,231.9L442.8,231.9L443.0,231.9L443.1,231.9L443.3,231.8L443.5,231.8L443.7,231.8L443.9,231.8L444.1,231.8L444.3,231.8L444.5,231.8L444.6,231.8L444.8,231.8L445.0,231.8L445.2,231.8L445.4,231.8L445.6,231.8L445.8,231.8L446.0,231.8L446.1,231.9L446.3,231.9L446.5,231.9L446.7,231.9L446.9,231.9L447.1,231.9L447.3,231.9L447.5,231.9L447.7,231.9L447.8,232.0L448.0,232.0L448.2,232.0L448.4,232.0L448.6,232.0L448.8,232.0L449.0,232.1L449.2,232.1L449.3,232.1L449.5,232.1L449.7,232.1L449.9,232.1L450.1,232.1L450.3,232.1L450.5,232.1L450.7,232.1L450.8,232.0L451.0,232.0L451.2,231.9L451.4,231.9L451.6,231.8L451.8,231.8L452.0,231.7L452.2,231.7L452.3,231.7L452.5,231.6L452.7,231.6L452.9,231.7L453.1,231.7L453.3,231.7L453.5,231.8L453.7,231.9L453.8,231.9L454.0,232.0L454.2,232.1L454.4,232.2L454.6,232.2L454.8,232.3L455.0,232.3L455.2,232.4L455.3,232.4L455.5,232.4L455.7,232.3L455.9,232.3L456.1,232.2L456.3,232.2L456.5,232.1L456.7,232.0L456.8,231.9L457.0,231.8L457.2,231.8L457.4,231.7L457.6,231.7L457.8,231.7L458.0,231.6L458.2,231.7L458.3,231.7L458.5,231.7L458.7,231.8L458.9,231.8L459.1,231.9L459.3,231.9L459.5,232.0L459.7,232.1L459.8,232.1L460.0,232.1L460.2,232.2L460.4,232.2L460.6,232.2L460.8,232.2L461.0,232.2L461.2,232.2L461.4,232.2L461.5,232.2L461.7,232.2L461.9,232.2L462.1,232.3L462.3,232.3L462.5,232.3L462.7,232.3L462.9,232.3L463.0,232.3L463.2,232.3L463.4,232.3L463.6,232.2L463.8,232.2L464.0,232.2L464.2,232.1L464.4,232.0L464.5,232.0L464.7,231.9L464.9,231.8L465.1,231.8L465.3,231.7L465.5,231.7L465.7,231.6L465.9,231.6L466.0,231.6L466.2,231.7L466.4,231.7L466.6,231.7L466.8,231.8L467.0,231.8L467.2,231.9L467.4,231.9L467.5,232.0L467.7,232.0L467.9,232.0L468.1,232.0L468.3,232.0L468.5,231.9L468.7,231.8L468.9,231.7L469.0,231.5L469.2,231.3L469.4,231.1L469.6,230.8L469.8,230.7L470.0,230.8L470.2,230.9L470.4,231.1L470.5,231.3L470.7,231.4L470.9,231.5L471.1,231.6L471.3,231.7L471.5,231.7L471.7,231.8L471.9,231.8L472.0,231.9L472.2,231.9L472.4,231.9L472.6,232.0L472.8,232.0L473.0,232.0L473.2,232.1L473.4,232.1L473.5,232.1L473.7,232.1L473.9,232.1L474.1,232.1L474.3,232.1L474.5,232.0L474.7,232.0L474.9,231.9L475.1,231.9L475.2,231.9L475.4,231.8L475.6,231.8L475.8,231.7L476.0,231.7L476.2,231.7L476.4,231.7L476.6,231.7L476.7,231.7L476.9,231.7L477.1,231.7L477.3,231.7L477.5,231.7L477.7,231.7L477.9,231.7L478.1,231.7L478.2,231.7L478.4,231.8L478.6,231.8L478.8,231.8L479.0,231.8L479.2,231.8L479.4,231.8L479.6,231.8L479.7,231.8L479.9,231.8L480.1,231.8L480.3,231.8L480.5,231.8L480.7,231.8L480.9,231.8L481.1,231.9L481.2,231.9L481.4,231.9L481.6,231.9L481.8,231.9L482.0,231.9L482.2,231.9L482.4,232.0L482.6,232.0L482.7,232.1L482.9,232.2L483.1,232.2L483.3,232.3L483.5,232.3L483.7,232.4L483.9,232.4L484.1,232.4L484.2,232.4L484.4,232.4L484.6,232.4L484.8,232.4L485.0,232.3L485.2,232.3L485.4,232.2L485.6,232.2L485.7,232.1L485.9,232.1L486.1,232.0L486.3,232.0L486.5,231.9L486.7,231.9L486.9,231.9L487.1,231.9L487.2,231.9L487.4,231.9L487.6,232.0L487.8,232.0L488.0,232.1L488.2,232.1L488.4,232.1L488.6,232.2L488.8,232.2L488.9,232.3L489.1,232.3L489.3,232.3L489.5,232.3L489.7,232.3L489.9,232.3L490.1,232.3L490.3,232.3L490.4,232.3L490.6,232.4L490.8,232.4L491.0,232.4L491.2,232.4L491.4,232.4L491.6,232.4L491.8,232.4L491.9,232.4L492.1,232.4L492.3,232.4L492.5,232.4L492.7,232.4L492.9,232.4L493.1,232.4L493.3,232.4L493.4,232.4L493.6,232.4L493.8,232.4L494.0,232.4L494.2,232.4L494.4,232.5L494.6,232.5L494.8,232.5L494.9,232.4L495.1,232.4L495.3,232.4L495.5,232.4L495.7,232.3L495.9,232.3L496.1,232.2L496.3,232.2L496.4,232.2L496.6,232.1L496.8,232.1L497.0,232.1L497.2,232.0L497.4,232.0L497.6,232.0L497.8,232.0L497.9,232.0L498.1,232.0L498.3,232.0L498.5,232.1L498.7,232.1L498.9,232.1L499.1,232.1L499.3,232.1L499.4,232.1L499.6,232.1L499.8,232.1L500.0,232.1L500.2,232.1L500.4,232.1L500.6,232.1L500.8,232.1L500.9,232.1L501.1,232.1L501.3,232.1L501.5,232.1L501.7,232.1L501.9,232.2L502.1,232.2L502.3,232.2L502.5,232.2L502.6,232.2L502.8,232.2L503.0,232.2L503.2,232.2L503.4,232.2L503.6,232.2L503.8,232.3L504.0,232.3L504.1,232.3L504.3,232.3L504.5,232.3L504.7,232.3L504.9,232.4L505.1,232.4L505.3,232.4L505.5,232.4L505.6,232.3L505.8,232.3L506.0,232.3L506.2,232.2L506.4,232.2L506.6,232.1L506.8,232.1L507.0,232.0L507.1,232.0L507.3,232.0L507.5,231.9L507.7,231.9L507.9,231.9L508.1,231.9L508.3,231.9L508.5,232.0L508.6,232.0L508.8,232.0L509.0,232.1L509.2,232.1L509.4,232.2L509.6,232.2L509.8,232.3L510.0,232.3L510.1,232.3L510.3,232.4L510.5,232.4L510.7,232.4L510.9,232.4L511.1,232.4L511.3,232.4L511.5,232.4L511.6,232.4L511.8,232.4L512.0,232.4L512.2,232.4L512.4,232.4L512.6,232.4L512.8,232.4L513.0,232.4L513.1,232.4L513.3,232.4L513.5,232.4L513.7,232.4L513.9,232.4L514.1,232.4L514.3,232.4L514.5,232.4L514.6,232.4L514.8,232.4L515.0,232.4L515.2,232.4L515.4,232.4L515.6,232.4L515.8,232.4L516.0,232.4L516.2,232.4L516.3,232.4L516.5,232.3L516.7,232.3L516.9,232.2L517.1,232.2L517.3,232.1L517.5,232.1L517.7,232.0L517.8,232.0L518.0,231.9L518.2,231.9L518.4,231.9L518.6,231.9L518.8,231.9L519.0,232.0L519.2,232.0L519.3,232.1L519.5,232.1L519.7,232.2L519.9,232.3L520.1,232.3L520.3,232.4L520.5,232.4L520.7,232.5L520.8,232.5L521.0,232.5L521.2,232.5L521.4,232.5L521.6,232.5L521.8,232.4L522.0,232.4L522.2,232.3L522.3,232.2L522.5,232.2L522.7,232.1L522.9,232.1L523.1,232.0L523.3,232.0L523.5,232.0L523.7,232.0L523.8,232.0L524.0,232.0L524.2,232.0L524.4,232.0L524.6,232.0L524.8,232.0L525.0,232.1L525.2,232.1L525.3,232.1L525.5,232.1L525.7,232.1L525.9,232.1L526.1,232.1L526.3,232.1L526.5,232.1L526.7,232.1L526.8,232.2L527.0,232.2L527.2,232.2L527.4,232.2L527.6,232.2L527.8,232.2L528.0,232.3L528.2,232.3L528.3,232.3L528.5,232.3L528.7,232.3L528.9,232.3L529.1,232.3L529.3,232.3L529.5,232.3L529.7,232.4L529.9,232.4L530.0,232.4L530.2,232.4L530.4,232.4L530.6,232.5L530.8,232.5L531.0,232.5L531.2,232.5L531.4,232.5L531.5,232.5L531.7,232.5L531.9,232.5L532.1,232.5L532.3,232.4L532.5,232.4L532.7,232.4L532.9,232.3L533.0,232.3L533.2,232.3L533.4,232.2L533.6,232.2L533.8,232.2L534.0,232.2L534.2,232.2L534.4,232.2L534.5,232.2L534.7,232.2L534.9,232.2L535.1,232.3L535.3,232.3L535.5,232.3L535.7,232.4L535.9,232.4L536.0,232.5L536.2,232.5L536.4,232.5L536.6,232.5L536.8,232.5L537.0,232.5L537.2,232.5L537.4,232.5L537.5,232.5L537.7,232.5L537.9,232.4L538.1,232.4L538.3,232.4L538.5,232.4L538.7,232.3L538.9,232.3L539.0,232.3L539.2,232.3L539.4,232.3L539.6,232.3L539.8,232.3L540.0,232.3L540.2,232.3L540.4,232.3L540.5,232.3L540.7,232.2L540.9,232.2L541.1,232.2L541.3,232.2L541.5,232.2L541.7,232.2L541.9,232.2L542.0,232.2L542.2,232.2L542.4,232.2L542.6,232.2L542.8,232.2L543.0,232.2L543.2,232.2L543.4,232.2L543.6,232.2L543.7,232.2L543.9,232.2L544.1,232.2L544.3,232.2L544.5,232.2L544.7,232.2L544.9,232.2L545.1,232.2L545.2,232.2" fill="none" stroke="#8a4a2e" stroke-width="0.8" style="mix-blend-mode:multiply"/>
<path d="M303.0,234.2L303.1,234.2L303.1,234.2L303.2,234.2L303.3,234.2L303.4,234.2L303.5,234.2L303.6,234.2L303.7,234.2L303.8,234.2L303.9,234.2L304.0,234.2L304.1,234.2L304.2,234.2L304.3,234.2L304.4,234.2L304.5,234.2L304.6,234.2L304.6,234.2L304.7,234.2L304.8,234.2L304.9,234.2L305.0,234.2L305.1,234.2L305.2,234.2L305.3,234.2L305.4,234.2L305.5,234.2L305.6,234.2L305.7,234.2L305.8,234.2L305.9,234.2L306.0,234.2L306.1,234.2L306.1,234.2L306.2,234.2L306.3,234.2L306.4,234.2L306.5,234.2L306.6,234.2L306.7,234.2L306.8,234.2L306.9,234.2L307.0,234.2L307.1,234.2L307.2,234.2L307.3,234.2L307.4,234.2L307.5,234.2L307.6,234.2L307.6,234.2L307.7,234.2L307.8,234.2L307.9,234.2L308.0,234.2L308.1,234.2L308.2,234.2L308.3,234.2L308.4,234.2L308.5,234.2L308.6,234.2L308.7,234.2L308.8,234.2L308.9,234.2L309.0,234.2L309.1,234.2L309.2,234.2L309.2,234.2L309.3,234.2L309.4,234.2L309.5,234.2L309.6,234.2L309.7,234.2L309.8,234.2L309.9,234.2L310.0,234.2L310.1,234.2L310.2,234.2L310.3,234.2L310.4,234.2L310.5,234.2L310.6,234.2L310.7,234.2L310.7,234.2L310.8,234.2L310.9,234.2L311.0,234.2L311.1,234.2L311.2,234.2L311.3,234.2L311.4,234.2L311.5,234.2L311.6,234.2L311.7,234.2L311.8,234.2L311.9,234.2L312.0,234.2L312.1,234.2L312.2,234.2L312.2,234.2L312.3,234.2L312.4,234.2L312.5,234.2L312.6,234.2L312.7,234.2L312.8,234.2L312.9,234.2L313.0,234.2L313.1,234.2L313.2,234.2L313.3,234.2L313.4,234.2L313.5,234.2L313.6,234.2L313.7,234.2L313.7,234.2L313.8,234.2L313.9,234.2L314.0,234.2L314.1,234.2L314.2,234.2L314.3,234.2L314.4,234.2L314.5,234.2L314.6,234.2L314.7,234.2L314.8,234.2L314.9,234.2L315.0,234.2L315.1,234.2L315.2,234.2L315.2,234.2L315.3,234.2L315.4,234.2L315.5,234.2L315.6,234.2L315.7,234.2L315.8,234.2L315.9,234.2L316.0,234.2L316.1,234.2L316.2,234.2L316.3,234.2L316.4,234.2L316.5,234.2L316.6,234.2L316.7,234.2L316.8,234.2L316.8,234.2L316.9,234.2L317.0,234.2L317.1,234.2L317.2,234.2L317.3,234.2L317.4,234.2L317.5,234.2L317.6,234.2L317.7,234.2L317.8,234.2L317.9,234.2L318.0,234.2L318.1,234.2L318.2,234.2L318.3,234.2L318.3,234.2L318.4,234.2L318.5,234.2L318.6,234.2L318.7,234.2L318.8,234.2L318.9,234.2L319.0,234.2L319.1,234.2L319.2,234.2L319.3,234.2L319.4,234.2L319.5,234.2L319.6,234.2L319.7,234.2L319.8,234.2L319.8,234.2L319.9,234.2L320.0,234.2L320.1,234.2L320.2,234.2L320.3,234.2L320.4,234.2L320.5,234.2L320.6,234.2L320.7,234.2L320.8,234.2L320.9,234.2L321.0,234.2L321.1,234.2L321.2,234.2L321.3,234.2L321.3,234.2L321.4,234.2L321.5,234.2L321.6,234.2L321.7,234.2L321.8,234.2L321.9,234.2L322.0,234.2L322.1,234.2L322.2,234.2L322.3,234.2L322.4,234.2L322.5,234.2L322.6,234.2L322.7,234.2L322.8,234.2L322.9,234.2L322.9,234.2L323.0,234.2L323.1,234.2L323.2,234.2L323.3,234.2L323.4,234.2L323.5,234.2L323.6,234.2L323.7,234.2L323.8,234.2L323.9,234.2L324.0,234.2L324.1,234.2L324.2,234.2L324.3,234.2L324.4,234.2L324.4,234.2L324.5,234.2L324.6,234.2L324.7,234.2L324.8,234.2L324.9,234.2L325.0,234.2L325.1,234.2L325.2,234.2L325.3,234.2L325.4,234.2L325.5,234.2L325.6,234.2L325.7,234.2L325.8,234.2L325.9,234.2L325.9,234.2L326.0,234.2L326.1,234.2L326.2,234.2L326.3,234.2L326.4,234.2L326.5,234.2L326.6,234.2L326.7,234.2L326.8,234.2L326.9,234.2L327.0,234.2L327.1,234.2L327.2,234.2L327.3,234.2L327.4,234.2L327.4,234.2L327.5,234.2L327.6,234.2L327.7,234.2L327.8,234.2L327.9,234.2L328.0,234.2L328.1,234.2L328.2,234.2L328.3,234.2L328.4,234.2L328.5,234.2L328.6,234.2L328.7,234.2L328.8,234.2L328.9,234.2L328.9,234.2L329.0,234.2L329.1,234.2L329.2,234.2L329.3,234.2L329.4,234.2L329.5,234.2L329.6,234.2L329.7,234.2L329.8,234.2L329.9,234.2L330.0,234.2L330.1,234.2L330.2,234.2L330.3,234.2L330.4,234.2L330.5,234.2L330.5,234.2L330.6,234.2L330.7,234.2L330.8,234.2L330.9,234.2L331.0,234.2L331.1,234.2L331.2,234.2L331.3,234.2L331.4,234.2L331.5,234.2L331.6,234.2L331.7,234.2L331.8,234.2L331.9,234.2L332.0,234.2L332.0,234.2L332.1,234.2L332.2,234.2L332.3,234.2L332.4,234.2L332.5,234.2L332.6,234.2L332.7,234.2L332.8,234.2L332.9,234.2L333.0,234.2L333.1,234.2L333.2,234.2L333.3,234.2L333.4,234.2L333.5,234.2L333.5,234.2L333.6,234.2L333.7,234.2L333.8,234.2L333.9,234.2L334.0,234.2L334.1,234.2L334.2,234.2L334.3,234.2L334.4,234.2L334.5,234.2L334.6,234.2L334.7,234.2L334.8,234.2L334.9,234.2L335.0,234.2L335.0,234.2L335.1,234.2L335.2,234.2L335.3,234.1L335.4,234.1L335.5,234.1L335.6,234.1L335.7,234.1L335.8,234.1L335.9,234.1L336.0,234.1L336.1,234.1L336.2,234.1L336.3,234.1L336.4,234.1L336.5,234.1L336.6,234.1L336.6,234.1L336.7,234.1L336.8,234.1L336.9,234.1L337.0,234.1L337.1,234.1L337.2,234.1L337.3,234.1L337.4,234.1L337.5,234.1L337.6,234.1L337.7,234.1L337.8,234.1L337.9,234.1L338.0,234.1L338.1,234.1L338.1,234.1L338.2,234.1L338.3,234.1L338.4,234.1L338.5,234.1L338.6,234.1L338.7,234.1L338.8,234.1L338.9,234.1L339.0,234.1L339.1,234.1L339.2,234.0L339.3,234.0L339.4,234.0L339.5,234.0L339.6,234.0L339.6,234.0L339.7,234.0L339.8,234.0L339.9,234.0L340.0,233.9L340.1,233.9L340.2,233.9L340.3,233.9L340.4,233.9L340.5,233.8L340.6,233.8L340.7,233.8L340.8,233.7L340.9,233.7L341.0,233.6L341.1,233.5L341.1,233.4L341.2,233.3L341.3,233.1L341.4,232.7L341.5,232.1L341.6,231.2L341.7,229.8L341.8,227.9L341.9,225.3L342.0,222.4L342.1,219.1L342.2,216.1L342.3,213.9L342.4,213.1L342.5,213.9L342.6,216.1L342.6,219.1L342.7,222.3L342.8,225.3L342.9,227.8L343.0,229.7L343.1,231.1L343.2,232.0L343.3,232.6L343.4,233.0L343.5,233.2L343.6,233.4L343.7,233.5L343.8,233.5L343.9,233.6L344.0,233.6L344.1,233.7L344.2,233.7L344.2,233.7L344.3,233.7L344.4,233.7L344.5,233.8L344.6,233.8L344.7,233.8L344.8,233.8L344.9,233.8L345.0,233.8L345.1,233.8L345.2,233.8L345.3,233.8L345.4,233.8L345.5,233.8L345.6,233.8L345.7,233.7L345.7,233.7L345.8,233.7L345.9,233.7L346.0,233.7L346.1,233.7L346.2,233.6L346.3,233.6L346.4,233.6L346.5,233.6L346.6,233.5L346.7,233.5L346.8,233.5L346.9,233.4L347.0,233.4L347.1,233.3L347.2,233.2L347.2,233.2L347.3,233.1L347.4,233.0L347.5,232.9L347.6,232.8L347.7,232.6L347.8,232.5L347.9,232.3L348.0,232.0L348.1,231.7L348.2,231.2L348.3,230.6L348.4,229.6L348.5,228.1L348.6,225.9L348.7,222.7L348.7,218.4L348.8,212.7L348.9,205.6L349.0,197.3L349.1,188.4L349.2,179.4L349.3,171.5L349.4,166.0L349.5,164.0L349.6,166.0L349.7,171.5L349.8,179.3L349.9,188.3L350.0,197.2L350.1,205.4L350.2,212.5L350.3,218.1L350.3,222.4L350.4,225.5L350.5,227.7L350.6,229.1L350.7,229.9L350.8,230.4L350.9,230.6L351.0,230.5L351.1,230.3L351.2,229.8L351.3,229.2L351.4,228.5L351.5,227.7L351.6,226.9L351.7,226.4L351.8,226.2L351.8,226.5L351.9,227.2L352.0,228.1L352.1,229.1L352.2,230.0L352.3,230.9L352.4,231.5L352.5,232.1L352.6,232.5L352.7,232.8L352.8,233.0L352.9,233.2L353.0,233.3L353.1,233.4L353.2,233.5L353.3,233.5L353.3,233.6L353.4,233.6L353.5,233.7L353.6,233.7L353.7,233.7L353.8,233.8L353.9,233.8L354.0,233.8L354.1,233.8L354.2,233.8L354.3,233.9L354.4,233.9L354.5,233.9L354.6,233.9L354.7,233.9L354.8,233.9L354.8,233.9L354.9,233.9L355.0,234.0L355.1,234.0L355.2,234.0L355.3,234.0L355.4,234.0L355.5,234.0L355.6,234.0L355.7,234.0L355.8,234.0L355.9,234.0L356.0,234.0L356.1,234.0L356.2,234.0L356.3,234.0L356.3,234.1L356.4,234.1L356.5,234.1L356.6,234.1L356.7,234.1L356.8,234.1L356.9,234.1L357.0,234.1L357.1,234.1L357.2,234.1L357.3,234.1L357.4,234.1L357.5,234.1L357.6,234.1L357.7,234.1L357.8,234.1L357.9,234.1L357.9,234.1L358.0,234.1L358.1,234.1L358.2,234.1L358.3,234.1L358.4,234.1L358.5,234.1L358.6,234.1L358.7,234.1L358.8,234.1L358.9,234.1L359.0,234.1L359.1,234.1L359.2,234.1L359.3,234.1L359.4,234.1L359.4,234.1L359.5,234.1L359.6,234.1L359.7,234.1L359.8,234.1L359.9,234.1L360.0,234.1L360.1,234.1L360.2,234.1L360.3,234.1L360.4,234.1L360.5,234.1L360.6,234.1L360.7,234.1L360.8,234.1L360.9,234.1L360.9,234.1L361.0,234.1L361.1,234.1L361.2,234.1L361.3,234.2L361.4,234.2L361.5,234.2L361.6,234.2L361.7,234.2L361.8,234.2L361.9,234.2L362.0,234.2L362.1,234.2L362.2,234.2L362.3,234.2L362.4,234.2L362.4,234.2L362.5,234.2L362.6,234.2L362.7,234.2L362.8,234.2L362.9,234.2L363.0,234.2L363.1,234.2L363.2,234.2L363.3,234.2L363.4,234.2L363.5,234.2L363.6,234.2L363.7,234.2L363.8,234.2L363.9,234.2L364.0,234.2L364.0,234.2L364.1,234.2L364.2,234.2L364.3,234.2L364.4,234.2L364.5,234.2L364.6,234.2L364.7,234.2L364.8,234.2L364.9,234.2L365.0,234.2L365.1,234.2L365.2,234.2L365.3,234.2L365.4,234.2L365.5,234.2L365.5,234.2L365.6,234.2L365.7,234.2L365.8,234.2L365.9,234.2L366.0,234.2L366.1,234.2L366.2,234.2L366.3,234.2L366.4,234.2L366.5,234.2L366.6,234.2L366.7,234.2L366.8,234.2L366.9,234.2L367.0,234.2L367.0,234.2L367.1,234.2L367.2,234.2L367.3,234.2L367.4,234.2L367.5,234.2L367.6,234.2L367.7,234.2L367.8,234.2L367.9,234.2L368.0,234.2L368.1,234.2L368.2,234.2L368.3,234.2L368.4,234.2L368.5,234.2L368.5,234.2L368.6,234.2L368.7,234.2L368.8,234.2L368.9,234.2L369.0,234.2L369.1,234.2L369.2,234.2L369.3,234.2L369.4,234.2L369.5,234.2L369.6,234.2L369.7,234.2L369.8,234.2L369.9,234.2L370.0,234.2L370.0,234.2L370.1,234.2L370.2,234.2L370.3,234.2L370.4,234.2L370.5,234.2L370.6,234.2L370.7,234.2L370.8,234.2L370.9,234.2L371.0,234.2L371.1,234.2L371.2,234.2L371.3,234.2L371.4,234.2L371.5,234.2L371.6,234.2L371.6,234.2L371.7,234.2L371.8,234.2L371.9,234.2L372.0,234.2L372.1,234.2L372.2,234.2L372.3,234.2L372.4,234.2L372.5,234.2L372.6,234.2L372.7,234.2L372.8,234.2L372.9,234.2L373.0,234.2L373.1,234.2L373.1,234.2L373.2,234.2L373.3,234.2L373.4,234.2L373.5,234.2L373.6,234.2L373.7,234.2L373.8,234.2L373.9,234.2L374.0,234.2L374.1,234.2L374.2,234.2L374.3,234.2L374.4,234.2L374.5,234.2L374.6,234.2L374.6,234.2L374.7,234.2L374.8,234.2L374.9,234.2L375.0,234.2L375.1,234.2L375.2,234.2L375.3,234.2L375.4,234.2L375.5,234.2L375.6,234.2L375.7,234.2L375.8,234.2L375.9,234.2L376.0,234.2L376.1,234.2L376.1,234.2L376.2,234.2L376.3,234.2L376.4,234.2L376.5,234.2L376.6,234.2L376.7,234.2L376.8,234.2L376.9,234.2L377.0,234.2L377.1,234.2L377.2,234.2L377.3,234.2L377.4,234.2L377.5,234.2L377.6,234.2L377.7,234.2L377.7,234.2L377.8,234.2L377.9,234.1L378.0,234.1L378.1,234.0L378.2,234.0L378.3,233.8L378.4,233.7L378.5,233.4L378.6,233.2L378.7,232.8L378.8,232.4L378.9,232.0L379.0,231.6L379.1,231.2L379.2,230.9L379.2,230.7L379.3,230.7L379.4,230.7L379.5,230.9L379.6,231.2L379.7,231.6L379.8,232.0L379.9,232.4L380.0,232.8L380.1,233.2L380.2,233.4L380.3,233.7L380.4,233.8L380.5,234.0L380.6,234.0L380.7,234.1L380.7,234.1L380.8,234.1L380.9,234.2L381.0,234.2L381.1,234.2L381.2,234.2L381.3,234.2L381.4,234.2L381.5,234.2L381.6,234.2L381.7,234.2L381.8,234.2L381.9,234.2L382.0,234.2L382.1,234.2L382.2,234.2L382.2,234.2L382.3,234.2L382.4,234.2L382.5,234.2L382.6,234.2L382.7,234.2L382.8,234.2L382.9,234.2L383.0,234.2L383.1,234.2L383.2,234.2L383.3,234.2L383.4,234.2L383.5,234.2L383.6,234.2L383.7,234.2L383.7,234.2L383.8,234.2L383.9,234.2L384.0,234.2L384.1,234.2L384.2,234.2L384.3,234.2L384.4,234.2L384.5,234.2L384.6,234.2L384.7,234.2L384.8,234.2L384.9,234.2L385.0,234.2L385.1,234.2L385.2,234.2L385.3,234.1L385.3,234.1L385.4,234.1L385.5,234.1L385.6,234.1L385.7,234.1L385.8,234.1L385.9,234.1L386.0,234.1L386.1,234.1L386.2,234.1L386.3,234.1L386.4,234.1L386.5,234.1L386.6,234.1L386.7,234.1L386.8,234.1L386.8,234.1L386.9,234.1L387.0,234.1L387.1,234.1L387.2,234.1L387.3,234.1L387.4,234.1L387.5,234.1L387.6,234.1L387.7,234.1L387.8,234.1L387.9,234.1L388.0,234.1L388.1,234.1L388.2,234.1L388.3,234.1L388.3,234.1L388.4,234.1L388.5,234.0L388.6,234.0L388.7,234.0L388.8,234.0L388.9,234.0L389.0,234.0L389.1,234.0L389.2,233.9L389.3,233.9L389.4,233.9L389.5,233.8L389.6,233.8L389.7,233.7L389.8,233.6L389.8,233.6L389.9,233.5L390.0,233.4L390.1,233.2L390.2,233.1L390.3,233.0L390.4,232.8L390.5,232.6L390.6,232.4L390.7,232.1L390.8,231.9L390.9,231.6L391.0,231.3L391.1,231.0L391.2,230.7L391.3,230.4L391.4,230.0L391.4,229.7L391.5,229.3L391.6,229.0L391.7,228.7L391.8,228.4L391.9,228.1L392.0,227.8L392.1,227.6L392.2,227.4L392.3,227.3L392.4,227.2L392.5,227.2L392.6,227.2L392.7,227.3L392.8,227.4L392.9,227.6L392.9,227.8L393.0,228.1L393.1,228.4L393.2,228.7L393.3,229.0L393.4,229.3L393.5,229.7L393.6,230.0L393.7,230.4L393.8,230.7L393.9,231.0L394.0,231.3L394.1,231.6L394.2,231.9L394.3,232.1L394.4,232.4L394.4,232.6L394.5,232.8L394.6,233.0L394.7,233.1L394.8,233.2L394.9,233.4L395.0,233.5L395.1,233.6L395.2,233.6L395.3,233.7L395.4,233.8L395.5,233.8L395.6,233.9L395.7,233.9L395.8,233.9L395.9,234.0L395.9,234.0L396.0,234.0L396.1,234.0L396.2,234.0L396.3,234.0L396.4,234.0L396.5,234.1L396.6,234.1L396.7,234.1L396.8,234.1L396.9,234.1L397.0,234.1L397.1,234.1L397.2,234.1L397.3,234.1L397.4,234.1L397.4,234.1L397.5,234.1L397.6,234.1L397.7,234.1L397.8,234.1L397.9,234.1L398.0,234.1L398.1,234.1L398.2,234.1L398.3,234.1L398.4,234.1L398.5,234.1L398.6,234.1L398.7,234.1L398.8,234.1L398.9,234.1L399.0,234.1L399.0,234.1L399.1,234.1L399.2,234.1L399.3,234.1L399.4,234.1L399.5,234.1L399.6,234.1L399.7,234.1L399.8,234.1L399.9,234.1L400.0,234.2L400.1,234.2L400.2,234.2L400.3,234.2L400.4,234.2L400.5,234.2L400.5,234.2L400.6,234.2L400.7,234.2L400.8,234.2L400.9,234.2L401.0,234.2L401.1,234.2L401.2,234.2L401.3,234.2L401.4,234.2L401.5,234.2L401.6,234.2L401.7,234.2L401.8,234.2L401.9,234.2L402.0,234.2L402.0,234.2L402.1,234.2L402.2,234.2L402.3,234.2L402.4,234.2L402.5,234.2L402.6,234.2L402.7,234.2L402.8,234.2L402.9,234.2L403.0,234.2L403.1,234.2L403.2,234.2L403.3,234.2L403.4,234.2L403.5,234.2L403.5,234.2L403.6,234.2L403.7,234.2L403.8,234.2L403.9,234.2L404.0,234.2L404.1,234.2L404.2,234.2L404.3,234.2L404.4,234.2L404.5,234.2L404.6,234.2L404.7,234.2L404.8,234.2L404.9,234.2L405.0,234.2L405.1,234.2L405.1,234.2L405.2,234.2L405.3,234.2L405.4,234.2L405.5,234.2L405.6,234.2L405.7,234.2L405.8,234.2L405.9,234.2L406.0,234.2L406.1,234.2L406.2,234.2L406.3,234.2L406.4,234.2L406.5,234.2L406.6,234.2L406.6,234.2L406.7,234.2L406.8,234.2L406.9,234.2L407.0,234.2L407.1,234.2L407.2,234.2L407.3,234.2L407.4,234.1L407.5,234.1L407.6,234.1L407.7,234.1L407.8,234.1L407.9,234.1L408.0,234.1L408.1,234.1L408.1,234.1L408.2,234.1L408.3,234.1L408.4,234.1L408.5,234.1L408.6,234.1L408.7,234.1L408.8,234.1L408.9,234.1L409.0,234.1L409.1,234.1L409.2,234.1L409.3,234.1L409.4,234.1L409.5,234.0L409.6,234.0L409.6,234.0L409.7,234.0L409.8,233.9L409.9,233.8L410.0,233.7L410.1,233.6L410.2,233.5L410.3,233.3L410.4,233.0L410.5,232.7L410.6,232.4L410.7,232.0L410.8,231.5L410.9,231.0L411.0,230.5L411.1,230.0L411.1,229.4L411.2,228.9L411.3,228.5L411.4,228.2L411.5,228.0L411.6,227.9L411.7,228.0L411.8,228.2L411.9,228.5L412.0,228.9L412.1,229.4L412.2,230.0L412.3,230.5L412.4,231.0L412.5,231.5L412.6,232.0L412.7,232.4L412.7,232.7L412.8,233.0L412.9,233.3L413.0,233.5L413.1,233.6L413.2,233.7L413.3,233.8L413.4,233.9L413.5,234.0L413.6,234.0L413.7,234.0L413.8,234.0L413.9,234.1L414.0,234.1L414.1,234.1L414.2,234.1L414.2,234.1L414.3,234.1L414.4,234.1L414.5,234.1L414.6,234.1L414.7,234.1L414.8,234.1L414.9,234.1L415.0,234.1L415.1,234.1L415.2,234.1L415.3,234.1L415.4,234.1L415.5,234.1L415.6,234.1L415.7,234.2L415.7,234.2L415.8,234.2L415.9,234.2L416.0,234.2L416.1,234.2L416.2,234.2L416.3,234.2L416.4,234.2L416.5,234.2L416.6,234.2L416.7,234.2L416.8,234.2L416.9,234.2L417.0,234.2L417.1,234.2L417.2,234.2L417.2,234.2L417.3,234.2L417.4,234.2L417.5,234.2L417.6,234.2L417.7,234.2L417.8,234.2L417.9,234.2L418.0,234.2L418.1,234.2L418.2,234.2L418.3,234.2L418.4,234.2L418.5,234.2L418.6,234.2L418.7,234.2L418.7,234.2L418.8,234.2L418.9,234.2L419.0,234.2L419.1,234.2L419.2,234.2L419.3,234.2L419.4,234.2L419.5,234.2L419.6,234.2L419.7,234.2L419.8,234.2L419.9,234.2L420.0,234.2L420.1,234.2L420.2,234.2L420.3,234.2L420.3,234.2L420.4,234.2L420.5,234.2L420.6,234.2L420.7,234.2L420.8,234.2L420.9,234.2L421.0,234.2L421.1,234.2L421.2,234.2L421.3,234.2L421.4,234.2L421.5,234.2L421.6,234.2L421.7,234.2L421.8,234.2L421.8,234.2L421.9,234.2L422.0,234.2L422.1,234.2L422.2,234.2L422.3,234.2L422.4,234.2L422.5,234.2L422.6,234.2L422.7,234.2L422.8,234.2L422.9,234.2L423.0,234.2L423.1,234.2L423.2,234.2L423.3,234.2L423.3,234.2L423.4,234.2L423.5,234.2L423.6,234.2L423.7,234.2L423.8,234.2L423.9,234.2L424.0,234.2L424.1,234.2L424.2,234.2L424.3,234.2L424.4,234.2L424.5,234.2L424.6,234.2L424.7,234.2L424.8,234.2L424.8,234.2L424.9,234.2L425.0,234.2L425.1,234.2L425.2,234.2L425.3,234.2L425.4,234.2L425.5,234.2L425.6,234.2L425.7,234.2L425.8,234.2L425.9,234.2L426.0,234.2L426.1,234.2L426.2,234.2L426.3,234.2L426.4,234.2L426.4,234.2L426.5,234.2L426.6,234.2L426.7,234.2L426.8,234.2L426.9,234.2L427.0,234.2L427.1,234.2L427.2,234.2L427.3,234.2L427.4,234.2L427.5,234.2L427.6,234.2L427.7,234.2L427.8,234.2L427.9,234.2L427.9,234.2L428.0,234.2L428.1,234.2L428.2,234.2L428.3,234.2L428.4,234.2L428.5,234.2L428.6,234.2L428.7,234.2L428.8,234.2L428.9,234.2L429.0,234.2L429.1,234.2L429.2,234.2L429.3,234.2L429.4,234.2L429.4,234.2L429.5,234.2L429.6,234.2L429.7,234.2L429.8,234.2L429.9,234.2L430.0,234.2L430.1,234.2L430.2,234.2L430.3,234.2L430.4,234.2L430.5,234.2L430.6,234.2L430.7,234.2L430.8,234.2L430.9,234.2L430.9,234.2L431.0,234.2L431.1,234.2L431.2,234.2L431.3,234.2L431.4,234.2L431.5,234.2L431.6,234.2L431.7,234.2L431.8,234.2L431.9,234.2L432.0,234.2L432.1,234.2L432.2,234.2L432.3,234.2L432.4,234.2L432.4,234.2L432.5,234.2L432.6,234.2L432.7,234.2L432.8,234.2L432.9,234.2L433.0,234.2L433.1,234.2L433.2,234.2L433.3,234.2L433.4,234.2L433.5,234.2L433.6,234.2L433.7,234.2L433.8,234.2L433.9,234.2L434.0,234.2L434.0,234.2L434.1,234.2L434.2,234.2L434.3,234.2L434.4,234.2L434.5,234.2L434.6,234.2L434.7,234.2L434.8,234.2L434.9,234.2L435.0,234.2L435.1,234.2L435.2,234.2L435.3,234.2L435.4,234.2L435.5,234.2L435.5,234.2L435.6,234.2L435.7,234.2L435.8,234.2L435.9,234.2L436.0,234.2L436.1,234.2L436.2,234.2L436.3,234.2L436.4,234.2L436.5,234.2L436.6,234.2L436.7,234.2L436.8,234.2L436.9,234.2L437.0,234.2L437.0,234.2L437.1,234.2L437.2,234.2L437.3,234.2L437.4,234.2L437.5,234.2L437.6,234.2L437.7,234.2L437.8,234.2L437.9,234.2L438.0,234.2L438.1,234.2L438.2,234.2L438.3,234.2L438.4,234.2L438.5,234.2L438.5,234.2L438.6,234.2L438.7,234.2L438.8,234.2L438.9,234.2L439.0,234.2L439.1,234.2L439.2,234.2L439.3,234.2L439.4,234.2L439.5,234.2L439.6,234.2L439.7,234.2L439.8,234.2L439.9,234.2L440.0,234.2L440.1,234.2L440.1,234.2L440.2,234.2L440.3,234.2L440.4,234.2L440.5,234.2L440.6,234.2L440.7,234.2L440.8,234.2L440.9,234.2L441.0,234.2L441.1,234.2L441.2,234.2L441.3,234.2L441.4,234.2L441.5,234.2L441.6,234.2L441.6,234.2L441.7,234.2L441.8,234.2L441.9,234.2L442.0,234.2L442.1,234.2L442.2,234.2L442.3,234.2L442.4,234.2L442.5,234.2L442.6,234.2L442.7,234.2L442.8,234.2L442.9,234.2L443.0,234.2L443.1,234.2L443.1,234.2L443.2,234.2L443.3,234.2L443.4,234.2L443.5,234.2L443.6,234.2L443.7,234.2L443.8,234.2L443.9,234.2L444.0,234.2L444.1,234.2L444.2,234.2L444.3,234.2L444.4,234.2L444.5,234.2L444.6,234.2L444.6,234.2L444.7,234.2L444.8,234.2L444.9,234.2L445.0,234.2L445.1,234.2L445.2,234.2L445.3,234.2L445.4,234.2L445.5,234.2L445.6,234.2L445.7,234.2L445.8,234.2L445.9,234.2L446.0,234.2L446.1,234.2L446.1,234.2L446.2,234.2L446.3,234.2L446.4,234.2L446.5,234.2L446.6,234.2L446.7,234.2L446.8,234.2L446.9,234.2L447.0,234.2L447.1,234.2L447.2,234.2L447.3,234.2L447.4,234.2L447.5,234.2L447.6,234.2L447.7,234.2L447.7,234.2L447.8,234.2L447.9,234.2L448.0,234.2L448.1,234.2L448.2,234.2L448.3,234.2L448.4,234.2L448.5,234.2L448.6,234.2L448.7,234.2L448.8,234.2L448.9,234.2L449.0,234.2L449.1,234.2L449.2,234.2L449.2,234.2L449.3,234.2L449.4,234.2L449.5,234.2L449.6,234.2L449.7,234.2L449.8,234.2L449.9,234.2L450.0,234.2L450.1,234.2L450.2,234.2L450.3,234.2L450.4,234.2L450.5,234.2L450.6,234.2L450.7,234.2L450.7,234.2L450.8,234.2L450.9,234.2L451.0,234.2L451.1,234.2L451.2,234.2L451.3,234.2L451.4,234.2L451.5,234.2L451.6,234.2L451.7,234.2L451.8,234.2L451.9,234.2L452.0,234.2L452.1,234.2L452.2,234.2L452.2,234.2L452.3,234.2L452.4,234.2L452.5,234.2L452.6,234.2L452.7,234.2L452.8,234.2L452.9,234.2L453.0,234.2L453.1,234.2L453.2,234.2L453.3,234.2L453.4,234.2L453.5,234.2L453.6,234.2L453.7,234.2L453.8,234.2L453.8,234.2L453.9,234.2L454.0,234.2L454.1,234.2L454.2,234.2L454.3,234.2L454.4,234.2L454.5,234.2L454.6,234.2L454.7,234.2L454.8,234.2L454.9,234.2L455.0,234.2L455.1,234.2L455.2,234.2L455.3,234.2L455.3,234.2L455.4,234.2L455.5,234.2L455.6,234.2L455.7,234.2L455.8,234.2L455.9,234.2L456.0,234.2L456.1,234.2L456.2,234.2L456.3,234.2L456.4,234.2L456.5,234.2L456.6,234.2L456.7,234.2L456.8,234.2L456.8,234.2L456.9,234.2L457.0,234.2L457.1,234.2L457.2,234.2L457.3,234.2L457.4,234.2L457.5,234.2L457.6,234.2L457.7,234.2L457.8,234.2L457.9,234.2L458.0,234.2L458.1,234.2L458.2,234.2L458.3,234.2L458.3,234.2L458.4,234.2L458.5,234.2L458.6,234.2L458.7,234.2L458.8,234.2L458.9,234.2L459.0,234.2L459.1,234.2L459.2,234.2L459.3,234.2L459.4,234.2L459.5,234.2L459.6,234.2L459.7,234.2L459.8,234.2L459.8,234.2L459.9,234.2L460.0,234.2L460.1,234.2L460.2,234.2L460.3,234.2L460.4,234.2L460.5,234.2L460.6,234.2L460.7,234.2L460.8,234.2L460.9,234.2L461.0,234.2L461.1,234.2L461.2,234.2L461.3,234.2L461.4,234.2L461.4,234.2L461.5,234.2L461.6,234.2L461.7,234.2L461.8,234.2L461.9,234.2L462.0,234.2L462.1,234.2L462.2,234.2L462.3,234.2L462.4,234.2L462.5,234.2L462.6,234.2L462.7,234.2L462.8,234.2L462.9,234.2L462.9,234.2L463.0,234.2L463.1,234.2L463.2,234.2L463.3,234.2L463.4,234.2L463.5,234.2L463.6,234.2L463.7,234.2L463.8,234.2L463.9,234.2L464.0,234.2L464.1,234.2L464.2,234.2L464.3,234.2L464.4,234.2L464.4,234.2L464.5,234.2L464.6,234.2L464.7,234.2L464.8,234.2L464.9,234.2L465.0,234.2L465.1,234.2L465.2,234.2L465.3,234.2L465.4,234.2L465.5,234.2L465.6,234.2L465.7,234.2L465.8,234.2L465.9,234.2L465.9,234.2L466.0,234.2L466.1,234.2L466.2,234.2L466.3,234.2L466.4,234.2L466.5,234.2L466.6,234.2L466.7,234.2L466.8,234.2L466.9,234.2L467.0,234.2L467.1,234.2L467.2,234.2L467.3,234.2L467.4,234.2L467.5,234.2L467.5,234.2L467.6,234.2L467.7,234.2L467.8,234.2L467.9,234.2L468.0,234.2L468.1,234.2L468.2,234.2L468.3,234.2L468.4,234.2L468.5,234.2L468.6,234.2L468.7,234.2L468.8,234.2L468.9,234.2L469.0,234.2L469.0,234.2L469.1,234.2L469.2,234.2L469.3,234.2L469.4,234.2L469.5,234.2L469.6,234.2L469.7,234.2L469.8,234.2L469.9,234.2L470.0,234.2L470.1,234.2L470.2,234.2L470.3,234.2L470.4,234.2L470.5,234.2L470.5,234.2L470.6,234.2L470.7,234.2L470.8,234.2L470.9,234.2L471.0,234.2L471.1,234.2L471.2,234.2L471.3,234.2L471.4,234.2L471.5,234.2L471.6,234.2L471.7,234.2L471.8,234.2L471.9,234.2L472.0,234.2L472.0,234.2L472.1,234.2L472.2,234.2L472.3,234.2L472.4,234.2L472.5,234.2L472.6,234.2L472.7,234.2L472.8,234.2L472.9,234.2L473.0,234.2L473.1,234.2L473.2,234.2L473.3,234.2L473.4,234.2L473.5,234.2L473.5,234.2L473.6,234.2L473.7,234.2L473.8,234.2L473.9,234.2L474.0,234.2L474.1,234.2L474.2,234.2L474.3,234.2L474.4,234.2L474.5,234.2L474.6,234.2L474.7,234.2L474.8,234.2L474.9,234.2L475.0,234.2L475.1,234.2L475.1,234.2L475.2,234.2L475.3,234.2L475.4,234.2L475.5,234.2L475.6,234.2L475.7,234.2L475.8,234.2L475.9,234.2L476.0,234.2L476.1,234.2L476.2,234.2L476.3,234.2L476.4,234.2L476.5,234.2L476.6,234.2L476.6,234.2L476.7,234.2L476.8,234.2L476.9,234.2L477.0,234.2L477.1,234.2L477.2,234.2L477.3,234.2L477.4,234.2L477.5,234.2L477.6,234.2L477.7,234.2L477.8,234.2L477.9,234.2L478.0,234.2L478.1,234.2L478.1,234.2L478.2,234.2L478.3,234.2L478.4,234.2L478.5,234.2L478.6,234.2L478.7,234.2L478.8,234.2L478.9,234.2L479.0,234.2L479.1,234.2L479.2,234.2L479.3,234.2L479.4,234.2L479.5,234.2L479.6,234.2L479.6,234.2L479.7,234.2L479.8,234.2L479.9,234.2L480.0,234.2L480.1,234.2L480.2,234.2L480.3,234.2L480.4,234.2L480.5,234.2L480.6,234.2L480.7,234.2L480.8,234.2L480.9,234.2L481.0,234.2L481.1,234.2L481.2,234.2L481.2,234.2L481.3,234.2L481.4,234.2L481.5,234.2L481.6,234.2L481.7,234.2L481.8,234.2L481.9,234.2L482.0,234.2L482.1,234.2L482.2,234.2L482.3,234.2L482.4,234.2L482.5,234.2L482.6,234.2L482.7,234.2L482.7,234.2L482.8,234.2L482.9,234.2L483.0,234.2L483.1,234.2L483.2,234.2L483.3,234.2L483.4,234.2L483.5,234.2L483.6,234.2L483.7,234.2L483.8,234.2L483.9,234.2L484.0,234.2L484.1,234.2L484.2,234.2L484.2,234.2L484.3,234.2L484.4,234.2L484.5,234.2L484.6,234.2L484.7,234.2L484.8,234.2L484.9,234.2L485.0,234.2L485.1,234.2L485.2,234.2L485.3,234.2L485.4,234.2L485.5,234.2L485.6,234.2L485.7,234.2L485.7,234.2L485.8,234.2L485.9,234.2L486.0,234.2L486.1,234.2L486.2,234.2L486.3,234.2L486.4,234.2L486.5,234.2L486.6,234.2L486.7,234.2L486.8,234.2L486.9,234.2L487.0,234.2L487.1,234.2L487.2,234.2L487.2,234.2L487.3,234.2L487.4,234.2L487.5,234.2L487.6,234.2L487.7,234.2L487.8,234.2L487.9,234.2L488.0,234.2L488.1,234.2L488.2,234.2L488.3,234.2L488.4,234.2L488.5,234.2L488.6,234.2L488.7,234.2L488.8,234.2L488.8,234.2L488.9,234.2L489.0,234.2L489.1,234.2L489.2,234.2L489.3,234.2L489.4,234.2L489.5,234.2L489.6,234.2L489.7,234.2L489.8,234.2L489.9,234.2L490.0,234.2L490.1,234.2L490.2,234.2L490.3,234.2L490.3,234.2L490.4,234.2L490.5,234.2L490.6,234.2L490.7,234.2L490.8,234.2L490.9,234.2L491.0,234.2L491.1,234.2L491.2,234.2L491.3,234.2L491.4,234.2L491.5,234.2L491.6,234.2L491.7,234.2L491.8,234.2L491.8,234.2L491.9,234.2L492.0,234.2L492.1,234.2L492.2,234.2L492.3,234.2L492.4,234.2L492.5,234.2L492.6,234.2L492.7,234.2L492.8,234.2L492.9,234.2L493.0,234.2L493.1,234.2L493.2,234.2L493.3,234.2L493.3,234.2L493.4,234.2L493.5,234.2L493.6,234.2L493.7,234.2L493.8,234.2L493.9,234.2L494.0,234.2L494.1,234.2L494.2,234.2L494.3,234.2L494.4,234.2L494.5,234.2L494.6,234.2L494.7,234.2L494.8,234.2L494.9,234.2L494.9,234.2L495.0,234.2L495.1,234.2L495.2,234.2L495.3,234.2L495.4,234.2L495.5,234.2L495.6,234.2L495.7,234.2L495.8,234.2L495.9,234.2L496.0,234.2L496.1,234.2L496.2,234.2L496.3,234.2L496.4,234.2L496.4,234.2L496.5,234.2L496.6,234.2L496.7,234.2L496.8,234.2L496.9,234.2L497.0,234.2L497.1,234.2L497.2,234.2L497.3,234.2L497.4,234.2L497.5,234.2L497.6,234.2L497.7,234.2L497.8,234.2L497.9,234.2L497.9,234.2L498.0,234.2L498.1,234.2L498.2,234.2L498.3,234.2L498.4,234.2L498.5,234.2L498.6,234.2L498.7,234.2L498.8,234.2L498.9,234.2L499.0,234.2L499.1,234.2L499.2,234.2L499.3,234.2L499.4,234.2L499.4,234.2L499.5,234.2L499.6,234.2L499.7,234.2L499.8,234.2L499.9,234.2L500.0,234.2L500.1,234.2L500.2,234.2L500.3,234.2L500.4,234.2L500.5,234.2L500.6,234.2L500.7,234.2L500.8,234.2L500.9,234.2L500.9,234.2L501.0,234.2L501.1,234.2L501.2,234.2L501.3,234.2L501.4,234.2L501.5,234.2L501.6,234.2L501.7,234.2L501.8,234.2L501.9,234.2L502.0,234.2L502.1,234.2L502.2,234.2L502.3,234.2L502.4,234.2L502.5,234.2L502.5,234.2L502.6,234.2L502.7,234.2L502.8,234.2L502.9,234.2L503.0,234.2L503.1,234.2L503.2,234.2L503.3,234.2L503.4,234.2L503.5,234.2L503.6,234.2L503.7,234.2L503.8,234.2L503.9,234.2L504.0,234.2L504.0,234.2L504.1,234.2L504.2,234.2L504.3,234.2L504.4,234.2L504.5,234.2L504.6,234.2L504.7,234.2L504.8,234.2L504.9,234.2L505.0,234.2L505.1,234.2L505.2,234.2L505.3,234.2L505.4,234.2L505.5,234.2L505.5,234.2L505.6,234.2L505.7,234.2L505.8,234.2L505.9,234.2L506.0,234.2L506.1,234.2L506.2,234.2L506.3,234.2L506.4,234.2L506.5,234.2L506.6,234.2L506.7,234.2L506.8,234.2L506.9,234.2L507.0,234.2L507.0,234.2L507.1,234.2L507.2,234.2L507.3,234.2L507.4,234.2L507.5,234.2L507.6,234.2L507.7,234.2L507.8,234.2L507.9,234.2L508.0,234.2L508.1,234.2L508.2,234.2L508.3,234.2L508.4,234.2L508.5,234.2L508.6,234.2L508.6,234.2L508.7,234.2L508.8,234.2L508.9,234.2L509.0,234.2L509.1,234.2L509.2,234.2L509.3,234.2L509.4,234.2L509.5,234.2L509.6,234.2L509.7,234.2L509.8,234.2L509.9,234.2L510.0,234.2L510.1,234.2L510.1,234.2L510.2,234.2L510.3,234.2L510.4,234.2L510.5,234.2L510.6,234.2L510.7,234.2L510.8,234.2L510.9,234.2L511.0,234.2L511.1,234.2L511.2,234.2L511.3,234.2L511.4,234.2L511.5,234.2L511.6,234.2L511.6,234.2L511.7,234.2L511.8,234.2L511.9,234.2L512.0,234.2L512.1,234.2L512.2,234.2L512.3,234.2L512.4,234.2L512.5,234.2L512.6,234.2L512.7,234.2L512.8,234.2L512.9,234.2L513.0,234.2L513.1,234.2L513.1,234.2L513.2,234.2L513.3,234.2L513.4,234.2L513.5,234.2L513.6,234.2L513.7,234.2L513.8,234.2L513.9,234.2L514.0,234.2L514.1,234.2L514.2,234.2L514.3,234.2L514.4,234.2L514.5,234.2L514.6,234.2L514.6,234.2L514.7,234.2L514.8,234.2L514.9,234.2L515.0,234.2L515.1,234.2L515.2,234.2L515.3,234.2L515.4,234.2L515.5,234.2L515.6,234.2L515.7,234.2L515.8,234.2L515.9,234.2L516.0,234.2L516.1,234.2L516.2,234.2L516.2,234.2L516.3,234.2L516.4,234.2L516.5,234.2L516.6,234.2L516.7,234.2L516.8,234.2L516.9,234.2L517.0,234.2L517.1,234.2L517.2,234.2L517.3,234.2L517.4,234.2L517.5,234.2L517.6,234.2L517.7,234.2L517.7,234.2L517.8,234.2L517.9,234.2L518.0,234.2L518.1,234.2L518.2,234.2L518.3,234.2L518.4,234.2L518.5,234.2L518.6,234.2L518.7,234.2L518.8,234.2L518.9,234.2L519.0,234.2L519.1,234.2L519.2,234.2L519.2,234.2L519.3,234.2L519.4,234.2L519.5,234.2L519.6,234.2L519.7,234.2L519.8,234.2L519.9,234.2L520.0,234.2L520.1,234.2L520.2,234.2L520.3,234.2L520.4,234.2L520.5,234.2L520.6,234.2L520.7,234.2L520.7,234.2L520.8,234.2L520.9,234.2L521.0,234.2L521.1,234.2L521.2,234.2L521.3,234.2L521.4,234.2L521.5,234.2L521.6,234.2L521.7,234.2L521.8,234.2L521.9,234.2L522.0,234.2L522.1,234.2L522.2,234.2L522.2,234.2L522.3,234.2L522.4,234.2L522.5,234.2L522.6,234.2L522.7,234.2L522.8,234.2L522.9,234.2L523.0,234.2L523.1,234.2L523.2,234.2L523.3,234.2L523.4,234.2L523.5,234.2L523.6,234.2L523.7,234.2L523.8,234.2L523.8,234.2L523.9,234.2L524.0,234.2L524.1,234.2L524.2,234.2L524.3,234.2L524.4,234.2L524.5,234.2L524.6,234.2L524.7,234.2L524.8,234.2L524.9,234.2L525.0,234.2L525.1,234.2L525.2,234.2L525.3,234.2L525.3,234.2L525.4,234.2L525.5,234.2L525.6,234.2L525.7,234.2L525.8,234.2L525.9,234.2L526.0,234.2L526.1,234.2L526.2,234.2L526.3,234.2L526.4,234.2L526.5,234.2L526.6,234.2L526.7,234.2L526.8,234.2L526.8,234.2L526.9,234.2L527.0,234.2L527.1,234.2L527.2,234.2L527.3,234.2L527.4,234.2L527.5,234.2L527.6,234.2L527.7,234.2L527.8,234.2L527.9,234.2L528.0,234.2L528.1,234.2L528.2,234.2L528.3,234.2L528.3,234.2L528.4,234.2L528.5,234.2L528.6,234.2L528.7,234.2L528.8,234.2L528.9,234.2L529.0,234.2L529.1,234.2L529.2,234.2L529.3,234.2L529.4,234.2L529.5,234.2L529.6,234.2L529.7,234.2L529.8,234.2L529.9,234.2L529.9,234.2L530.0,234.2L530.1,234.2L530.2,234.2L530.3,234.2L530.4,234.2L530.5,234.2L530.6,234.2L530.7,234.2L530.8,234.2L530.9,234.2L531.0,234.2L531.1,234.2L531.2,234.2L531.3,234.2L531.4,234.2L531.4,234.2L531.5,234.2L531.6,234.2L531.7,234.2L531.8,234.2L531.9,234.2L532.0,234.2L532.1,234.2L532.2,234.2L532.3,234.2L532.4,234.2L532.5,234.2L532.6,234.2L532.7,234.2L532.8,234.2L532.9,234.2L532.9,234.2L533.0,234.2L533.1,234.2L533.2,234.2L533.3,234.2L533.4,234.2L533.5,234.2L533.6,234.2L533.7,234.2L533.8,234.2L533.9,234.2L534.0,234.2L534.1,234.2L534.2,234.2L534.3,234.2L534.4,234.2L534.4,234.2L534.5,234.2L534.6,234.2L534.7,234.2L534.8,234.2L534.9,234.2L535.0,234.2L535.1,234.2L535.2,234.2L535.3,234.2L535.4,234.2L535.5,234.2L535.6,234.2L535.7,234.2L535.8,234.2L535.9,234.2L535.9,234.2L536.0,234.2L536.1,234.2L536.2,234.2L536.3,234.2L536.4,234.2L536.5,234.2L536.6,234.2L536.7,234.2L536.8,234.2L536.9,234.2L537.0,234.2L537.1,234.2L537.2,234.2L537.3,234.2L537.4,234.2L537.5,234.2L537.5,234.2L537.6,234.2L537.7,234.2L537.8,234.2L537.9,234.2L538.0,234.2L538.1,234.2L538.2,234.2L538.3,234.2L538.4,234.2L538.5,234.2L538.6,234.2L538.7,234.2L538.8,234.2L538.9,234.2L539.0,234.2L539.0,234.2L539.1,234.2L539.2,234.2L539.3,234.2L539.4,234.2L539.5,234.2L539.6,234.2L539.7,234.2L539.8,234.2L539.9,234.2L540.0,234.2L540.1,234.2L540.2,234.2L540.3,234.2L540.4,234.2L540.5,234.2L540.5,234.2L540.6,234.2L540.7,234.2L540.8,234.2L540.9,234.2L541.0,234.2L541.1,234.2L541.2,234.2L541.3,234.2L541.4,234.2L541.5,234.2L541.6,234.2L541.7,234.2L541.8,234.2L541.9,234.2L542.0,234.2L542.0,234.2L542.1,234.2L542.2,234.2L542.3,234.2L542.4,234.2L542.5,234.2L542.6,234.2L542.7,234.2L542.8,234.2L542.9,234.2L543.0,234.2L543.1,234.2L543.2,234.2L543.3,234.2L543.4,234.2L543.5,234.2L543.6,234.2L543.6,234.2L543.7,234.2L543.8,234.2L543.9,234.2L544.0,234.2L544.1,234.2L544.2,234.2L544.3,234.2L544.4,234.2L544.5,234.2L544.6,234.2L544.7,234.2L544.8,234.2L544.9,234.2L545.0,234.2L545.1,234.2L545.1,234.2L545.2,234.2" fill="none" stroke="#7848e0" stroke-width="0.8" style="mix-blend-mode:multiply"/>
<text x="6.4" y="61.2" font-size="5.3" fill="#222" stroke="#222" stroke-width="0.15" text-anchor="middle" transform="rotate(-90 6.4 61.2)">Normalized [A.U.]</text>
<text x="298.1" y="61.1" font-size="5.3" fill="#222" stroke="#222" stroke-width="0.15" text-anchor="middle" transform="rotate(-90 298.1 61.1)">Normalized [A.U.]</text>
<text x="6.2" y="189.2" font-size="5.3" fill="#222" stroke="#222" stroke-width="0.15" text-anchor="middle" transform="rotate(-90 6.2 189.2)">Normalized [A.U.]</text>
<text x="297.9" y="189.3" font-size="5.3" fill="#222" stroke="#222" stroke-width="0.15" text-anchor="middle" transform="rotate(-90 297.9 189.3)">Normalized [A.U.]</text>
<text x="111.8" y="127.3" font-size="5.3" fill="#222" stroke="#222" stroke-width="0.15">Raman shift [cm<tspan font-size="3.4" dy="-2">-1</tspan><tspan dy="2">]</tspan></text>
<text x="403.1" y="127.5" font-size="5.3" fill="#222" stroke="#222" stroke-width="0.15">Raman shift [cm<tspan font-size="3.4" dy="-2">-1</tspan><tspan dy="2">]</tspan></text>
<text x="111.9" y="255.5" font-size="5.3" fill="#222" stroke="#222" stroke-width="0.15">Raman shift [cm<tspan font-size="3.4" dy="-2">-1</tspan><tspan dy="2">]</tspan></text>
<text x="402.9" y="255.1" font-size="5.3" fill="#222" stroke="#222" stroke-width="0.15">Raman shift [cm<tspan font-size="3.4" dy="-2">-1</tspan><tspan dy="2">]</tspan></text>
<text x="136.70" y="27.70" font-size="4.6" fill="#e0503c" stroke="#e0503c" stroke-width="0.15" text-anchor="start" >839</text>
<text x="136.70" y="32.70" font-size="4.6" fill="#e0503c" stroke="#e0503c" stroke-width="0.15" text-anchor="start" >BaO<tspan font-size="3.3" dy="1.3">2</tspan></text>
<text x="173.40" y="21.00" font-size="4.6" fill="#222" stroke="#222" stroke-width="0.15" text-anchor="start" >1056</text>
<text x="173.40" y="26.60" font-size="4.6" fill="#222" stroke="#222" stroke-width="0.15" text-anchor="start" >BaO</text>
<text x="104.00" y="65.50" font-size="4.6" fill="#222" stroke="#222" stroke-width="0.15" text-anchor="start" >691</text>
<text x="104.00" y="71.00" font-size="4.6" fill="#222" stroke="#222" stroke-width="0.15" text-anchor="start" >BaO</text>
<text x="428.50" y="27.50" font-size="4.6" fill="#d07a45" stroke="#d07a45" stroke-width="0.15" text-anchor="start" >839</text>
<text x="428.50" y="33.30" font-size="4.6" fill="#d07a45" stroke="#d07a45" stroke-width="0.15" text-anchor="start" >BaO<tspan font-size="3.3" dy="1.3">2</tspan></text>
<text x="464.30" y="19.50" font-size="4.6" fill="#222" stroke="#222" stroke-width="0.15" text-anchor="start" >1056</text>
<text x="464.30" y="25.50" font-size="4.6" fill="#222" stroke="#222" stroke-width="0.15" text-anchor="start" >BaO</text>
<text x="396.20" y="66.20" font-size="4.6" fill="#222" stroke="#222" stroke-width="0.15" text-anchor="start" >691</text>
<text x="396.20" y="71.60" font-size="4.6" fill="#222" stroke="#222" stroke-width="0.15" text-anchor="start" >BaO</text>
<text x="310.90" y="80.30" font-size="4.6" fill="#4545d8" stroke="#4545d8" stroke-width="0.15" text-anchor="start" >Al<tspan font-size="3.3" dy="1.3">2</tspan><tspan dy="-1.3">O</tspan><tspan font-size="3.3" dy="1.3">3</tspan></text>
<text x="347.30" y="92.60" font-size="4.6" fill="#4545d8" stroke="#4545d8" stroke-width="0.15" text-anchor="start" >Al<tspan font-size="3.3" dy="1.3">2</tspan><tspan dy="-1.3">O</tspan><tspan font-size="3.3" dy="1.3">3</tspan></text>
<text x="133.30" y="153.50" font-size="4.6" fill="#d07a45" stroke="#d07a45" stroke-width="0.15" text-anchor="start" >839</text>
<text x="133.30" y="159.50" font-size="4.6" fill="#d07a45" stroke="#d07a45" stroke-width="0.15" text-anchor="start" >BaO<tspan font-size="3.3" dy="1.3">2</tspan></text>
<text x="173.50" y="149.00" font-size="4.6" fill="#222" stroke="#222" stroke-width="0.15" text-anchor="start" >1056</text>
<text x="173.50" y="155.00" font-size="4.6" fill="#222" stroke="#222" stroke-width="0.15" text-anchor="start" >BaO</text>
<text x="106.90" y="202.70" font-size="4.6" fill="#222" stroke="#222" stroke-width="0.15" text-anchor="start" >691</text>
<text x="106.90" y="208.50" font-size="4.6" fill="#222" stroke="#222" stroke-width="0.15" text-anchor="start" >BaO</text>
<text x="56.00" y="203.30" font-size="4.6" fill="#4545d8" stroke="#4545d8" stroke-width="0.15" text-anchor="start" >Al<tspan font-size="3.3" dy="1.3">2</tspan><tspan dy="-1.3">O</tspan><tspan font-size="3.3" dy="1.3">3</tspan></text>
<text x="425.00" y="153.70" font-size="4.6" fill="#e0503c" stroke="#e0503c" stroke-width="0.15" text-anchor="start" >839</text>
<text x="425.00" y="160.30" font-size="4.6" fill="#e0503c" stroke="#e0503c" stroke-width="0.15" text-anchor="start" >BaO<tspan font-size="3.3" dy="1.3">2</tspan></text>
<text x="462.90" y="218.90" font-size="4.6" fill="#222" stroke="#222" stroke-width="0.15" text-anchor="start" >1056</text>
<text x="462.90" y="224.40" font-size="4.6" fill="#222" stroke="#222" stroke-width="0.15" text-anchor="start" >BaO</text>
<text x="389.00" y="213.80" font-size="4.6" fill="#222" stroke="#222" stroke-width="0.15" text-anchor="start" >691</text>
<text x="389.00" y="219.20" font-size="4.6" fill="#222" stroke="#222" stroke-width="0.15" text-anchor="start" >BaO</text>
<text x="344.40" y="161.10" font-size="4.6" fill="#4545d8" stroke="#4545d8" stroke-width="0.15" text-anchor="start" >Al<tspan font-size="3.3" dy="1.3">2</tspan><tspan dy="-1.3">O</tspan><tspan font-size="3.3" dy="1.3">3</tspan></text>
<text x="326.70" y="208.90" font-size="4.6" fill="#4545d8" stroke="#4545d8" stroke-width="0.15" text-anchor="start" >Al<tspan font-size="3.3" dy="1.3">2</tspan><tspan dy="-1.3">O</tspan><tspan font-size="3.3" dy="1.3">3</tspan></text>
<text x="370.70" y="226.10" font-size="4.6" fill="#4545d8" stroke="#4545d8" stroke-width="0.15" text-anchor="start" >Al<tspan font-size="3.3" dy="1.3">2</tspan><tspan dy="-1.3">O</tspan><tspan font-size="3.3" dy="1.3">3</tspan></text>
<text x="404.50" y="226.50" font-size="4.6" fill="#4545d8" stroke="#4545d8" stroke-width="0.15" text-anchor="start" >Al<tspan font-size="3.3" dy="1.3">2</tspan><tspan dy="-1.3">O</tspan><tspan font-size="3.3" dy="1.3">3</tspan></text>
<path d="M197.1,54.1 H208.5" stroke="#9a7058" stroke-width="0.8"/>
<path d="M197.1,61.2 H208.5" stroke="#8a70e6" stroke-width="0.8"/>
<text x="210.70" y="55.85" font-size="5.3" fill="#9c6444" stroke="#9c6444" stroke-width="0.15" text-anchor="start" >Al/BaO<tspan font-size="3.7" dy="1.6">2</tspan><tspan dy="-1.6"> 5% A</tspan></text>
<text x="210.70" y="62.95" font-size="5.3" fill="#7c5ce6" stroke="#7c5ce6" stroke-width="0.15" text-anchor="start" >Al/BaO<tspan font-size="3.7" dy="1.6">2</tspan><tspan dy="-1.6"> 5% B</tspan></text>
<path d="M488.7,54.0 H500.4" stroke="#9a7058" stroke-width="0.8"/>
<path d="M488.7,62.3 H500.4" stroke="#8a70e6" stroke-width="0.8"/>
<text x="502.70" y="55.75" font-size="5.3" fill="#9c6444" stroke="#9c6444" stroke-width="0.15" text-anchor="start" >Al/BaO<tspan font-size="3.7" dy="1.6">2</tspan><tspan dy="-1.6"> -5% A</tspan></text>
<text x="502.70" y="64.05" font-size="5.3" fill="#7c5ce6" stroke="#7c5ce6" stroke-width="0.15" text-anchor="start" >Al/BaO<tspan font-size="3.7" dy="1.6">2</tspan><tspan dy="-1.6"> -5% B</tspan></text>
<path d="M197.3,182.4 H208.8" stroke="#9a7058" stroke-width="0.8"/>
<path d="M197.3,190.0 H208.8" stroke="#8a70e6" stroke-width="0.8"/>
<text x="210.60" y="184.15" font-size="5.3" fill="#9c6444" stroke="#9c6444" stroke-width="0.15" text-anchor="start" >Al/BaO<tspan font-size="3.7" dy="1.6">2</tspan><tspan dy="-1.6"> -10% A</tspan></text>
<text x="210.60" y="191.75" font-size="5.3" fill="#7c5ce6" stroke="#7c5ce6" stroke-width="0.15" text-anchor="start" >Al/BaO<tspan font-size="3.7" dy="1.6">2</tspan><tspan dy="-1.6"> -10% B</tspan></text>
<path d="M488.7,180.8 H500.4" stroke="#9a7058" stroke-width="0.8"/>
<path d="M488.7,188.8 H500.4" stroke="#8a70e6" stroke-width="0.8"/>
<text x="502.70" y="182.55" font-size="5.3" fill="#9c6444" stroke="#9c6444" stroke-width="0.15" text-anchor="start" >Al/BaO<tspan font-size="3.7" dy="1.6">2</tspan><tspan dy="-1.6"> -20% A</tspan></text>
<text x="502.70" y="190.55" font-size="5.3" fill="#7c5ce6" stroke="#7c5ce6" stroke-width="0.15" text-anchor="start" >Al/BaO<tspan font-size="3.7" dy="1.6">2</tspan><tspan dy="-1.6"> -20% B</tspan></text>
<g clip-path="url(#c1)">
<rect x="190.8" y="4.8" width="55.2" height="42.2" fill="#767462"/>
<rect x="186" y="2" width="14" height="48" fill="#5e5e50" opacity="1.0" filter="url(#b3)"/>
<rect x="209" y="2" width="40" height="15" fill="#aeac94" opacity="1.0" filter="url(#b3)"/>
<ellipse cx="240" cy="13" rx="7" ry="7" fill="#c2b4a8" opacity="1.0" filter="url(#b3)"/>
<path d="M206,34 L212,18 L226,12 L246,10 L246,22 L232,30 L218,36 Z" fill="#a8aa90" opacity="1.0" filter="url(#b3)"/>
<ellipse cx="215" cy="27" rx="6" ry="5" fill="#c0c2a8" opacity="1.0" filter="url(#b3)"/>
<ellipse cx="226" cy="19.5" rx="10" ry="3" fill="#92ac88" opacity="0.7" filter="url(#b1)"/>
<rect x="220" y="36" width="28" height="12" fill="#6e6e5c" opacity="1.0" filter="url(#b3)"/>
<rect x="188" y="36" width="30" height="13" fill="#6a6a58" opacity="1.0" filter="url(#b3)"/>
<rect x="222" y="44.5" width="24" height="2.5" fill="#9a9a88" opacity="1.0" filter="url(#b2)"/>
<ellipse cx="203" cy="38.5" rx="2.6" ry="2.6" fill="#8070b0" opacity="0.9" filter="url(#b1)"/>
<ellipse cx="215.8" cy="28" rx="1.8" ry="1.3" fill="#5a4a80" opacity="1.0" filter="url(#b2)"/>
<path d="M225,13.8 L231.5,10.8" stroke="#6a4a2a" stroke-width="0.8" stroke-linecap="round" opacity="0.8" filter="url(#b0)"/>
<ellipse cx="225.3" cy="13.7" rx="1.5" ry="1.0" fill="#4a2a10" opacity="1.0" filter="url(#b0)"/>
<path d="M216,23.2 L222,20.3" stroke="#f03c64" stroke-width="1.1" stroke-linecap="round" opacity="0.9" filter="url(#b2)"/>
<path d="M229.5,19 L231,15.5 L232.5,19 Z" fill="#f03c64" opacity="0.9" filter="url(#b2)"/>
<path d="M238,30 L239.5,26.5 L241,30 Z" fill="#f03c64" opacity="0.9" filter="url(#b2)"/>
<path d="M213,43.5 L219.5,40.5" stroke="#f03c64" stroke-width="1.1" stroke-linecap="round" opacity="0.9" filter="url(#b2)"/>
<path d="M232,30.5 L236,29.5" stroke="#f03c64" stroke-width="0.8" stroke-linecap="round" opacity="0.7" filter="url(#b2)"/>
<ellipse cx="241" cy="8.5" rx="0.9" ry="1.2" fill="#ff4070" opacity="0.7" filter="url(#b2)"/>
<ellipse cx="215" cy="41" rx="4" ry="2" fill="#60a070" opacity="0.4" filter="url(#b2)"/>
<rect x="240" y="44.6" width="3" height="0.9" fill="#f0f0f0" opacity="1.0" filter="url(#b0)"/>
<rect x="190.8" y="4.8" width="1.3" height="42.2" fill="#2a2a26" opacity="1.0" filter="url(#b0)"/>
<rect x="190.8" y="46.3" width="55.2" height="0.7" fill="#4a4a40" opacity="1.0" filter="url(#b0)"/>
</g>
<g clip-path="url(#c2)">
<rect x="488.8" y="3.9" width="49.1" height="44.9" fill="#6c5222"/>
<rect x="486" y="1" width="54" height="8" fill="#3a3820" opacity="1.0" filter="url(#b2)"/>
<rect x="488" y="8" width="10" height="32" fill="#684c1e" opacity="1.0" filter="url(#b3)"/>
<ellipse cx="508" cy="27" rx="13" ry="13" fill="#907832" opacity="1.0" filter="url(#b3)"/>
<ellipse cx="510" cy="24" rx="6" ry="8" fill="#9e863a" opacity="1.0" filter="url(#b3)"/>
<ellipse cx="506" cy="21" rx="1.5" ry="1.5" fill="#b09848" opacity="0.7" filter="url(#b2)"/>
<ellipse cx="513" cy="29" rx="1.5" ry="1.5" fill="#b09848" opacity="0.7" filter="url(#b2)"/>
<ellipse cx="503" cy="31" rx="1.5" ry="1.2" fill="#a89040" opacity="0.6" filter="url(#b2)"/>
<ellipse cx="517" cy="23" rx="1.3" ry="1.3" fill="#b09848" opacity="0.6" filter="url(#b2)"/>
<ellipse cx="521" cy="17" rx="5" ry="10" fill="#62401e" opacity="1.0" filter="url(#b3)"/>
<rect x="528" y="3" width="12" height="30" fill="#202018" opacity="1.0" filter="url(#b3)"/>
<rect x="528" y="32" width="12" height="18" fill="#48482a" opacity="1.0" filter="url(#b3)"/>
<rect x="488" y="39" width="40" height="11" fill="#6c5c28" opacity="1.0" filter="url(#b3)"/>
<rect x="488.8" y="3.9" width="1.6" height="44.9" fill="#2a2410" opacity="1.0" filter="url(#b0)"/>
<ellipse cx="494.5" cy="37" rx="2" ry="2" fill="#9070b8" opacity="0.9" filter="url(#b1)"/>
<ellipse cx="506.5" cy="43" rx="2.2" ry="2" fill="#9070b8" opacity="0.9" filter="url(#b1)"/>
<ellipse cx="527" cy="12" rx="0.8" ry="1.5" fill="#b08080" opacity="0.6" filter="url(#b2)"/>
<rect x="530" y="45.3" width="4" height="0.8" fill="#8a8a70" opacity="1.0" filter="url(#b0)"/>
<rect x="488.8" y="48.0" width="49.1" height="0.8" fill="#2a2410" opacity="1.0" filter="url(#b0)"/>
<rect x="537.0" y="3.9" width="0.9" height="44.9" fill="#1a1a10" opacity="1.0" filter="url(#b0)"/>
</g>
<g clip-path="url(#c3)">
<rect x="192.3" y="133.8" width="55.6" height="41.8" fill="#92968a"/>
<rect x="188" y="130" width="11" height="22" fill="#4e5254" opacity="1.0" filter="url(#b3)"/>
<rect x="198" y="130" width="16" height="18" fill="#72766e" opacity="1.0" filter="url(#b3)"/>
<ellipse cx="222" cy="151" rx="15" ry="6" fill="#a0a48c" opacity="1.0" filter="url(#b3)"/>
<ellipse cx="205" cy="159" rx="10" ry="8" fill="#b6baa0" opacity="1.0" filter="url(#b3)"/>
<path d="M207,178 L214,166 L222,160 L232,157 L250,153 L250,178 Z" fill="#56583f" opacity="1.0" filter="url(#b1)"/>
<ellipse cx="197" cy="171" rx="6" ry="5" fill="#727054" opacity="1.0" filter="url(#b3)"/>
<ellipse cx="224" cy="140" rx="10" ry="6" fill="#a0a690" opacity="1.0" filter="url(#b3)"/>
<rect x="216.1" y="136" width="8" height="7.7" fill="#b89c80" opacity="1.0" filter="url(#b2)"/>
<rect x="224.1" y="136" width="7.7" height="7.7" fill="#a8a090" opacity="1.0" filter="url(#b2)"/>
<ellipse cx="218.7" cy="142.9" rx="1.5" ry="0.8" fill="#4a3418" opacity="1.0" filter="url(#b0)"/>
<ellipse cx="212" cy="158.5" rx="2.1" ry="1.6" fill="#6a50e0" opacity="0.95" filter="url(#b2)"/>
<ellipse cx="227.5" cy="163" rx="2.4" ry="2.4" fill="#7060b0" opacity="0.8" filter="url(#b1)"/>
<rect x="239.5" y="172.8" width="3" height="1.2" fill="#f4f4f0" opacity="1.0" filter="url(#b0)"/>
<rect x="192.3" y="133.8" width="1.2" height="41.8" fill="#3a3a3a" opacity="1.0" filter="url(#b0)"/>
<rect x="246.8" y="133.8" width="1.1" height="41.8" fill="#303028" opacity="1.0" filter="url(#b0)"/>
<rect x="192.3" y="133.8" width="55.6" height="0.6" fill="#606058" opacity="1.0" filter="url(#b0)"/>
</g>
<g clip-path="url(#c4)">
<rect x="481.7" y="132.2" width="56.2" height="42.4" fill="#1a1c12"/>
<ellipse cx="489" cy="156" rx="4" ry="6" fill="#34362a" opacity="1.0" filter="url(#b3)"/>
<ellipse cx="498.5" cy="141" rx="3.5" ry="9" fill="#827f62" opacity="1.0" filter="url(#b1)"/>
<ellipse cx="499" cy="146" rx="2" ry="4" fill="#9a9878" opacity="0.8" filter="url(#b1)"/>
<ellipse cx="503" cy="152" rx="5" ry="4" fill="#56563e" opacity="1.0" filter="url(#b1)"/>
<ellipse cx="497" cy="158" rx="3" ry="3" fill="#4a4c34" opacity="1.0" filter="url(#b1)"/>
<ellipse cx="512" cy="158" rx="4" ry="3" fill="#40402c" opacity="1.0" filter="url(#b1)"/>
<ellipse cx="522" cy="155" rx="4.5" ry="5" fill="#64462e" opacity="1.0" filter="url(#b1)"/>
<ellipse cx="526" cy="166" rx="5" ry="4" fill="#363c26" opacity="1.0" filter="url(#b3)"/>
<ellipse cx="502" cy="163.5" rx="1.8" ry="3" fill="#6a2828" opacity="1.0" filter="url(#b2)"/>
<ellipse cx="506.5" cy="164" rx="3.5" ry="4" fill="#c4a488" opacity="1.0" filter="url(#b1)"/>
<ellipse cx="506.5" cy="164" rx="2" ry="2.5" fill="#dcc0a8" opacity="0.6" filter="url(#b2)"/>
<path d="M509,152 L521,145" stroke="#a0a0e8" stroke-width="0.9" stroke-linecap="round" opacity="1.0" filter="url(#b0)"/>
<ellipse cx="524.5" cy="143.5" rx="2.4" ry="2.4" fill="#5858c0" opacity="1.0" filter="url(#b1)"/>
<rect x="530" y="172" width="4" height="1.1" fill="#e8e8e0" opacity="1.0" filter="url(#b0)"/>
<rect x="481.7" y="132.2" width="56.2" height="1.6" fill="#0a0a06" opacity="1.0" filter="url(#b0)"/>
<rect x="481.7" y="132.2" width="1.5" height="42.4" fill="#0a0a06" opacity="1.0" filter="url(#b0)"/>
<rect x="536.6" y="132.2" width="1.3" height="42.4" fill="#0a0a06" opacity="1.0" filter="url(#b0)"/>
</g>
</svg>
</body></html>
